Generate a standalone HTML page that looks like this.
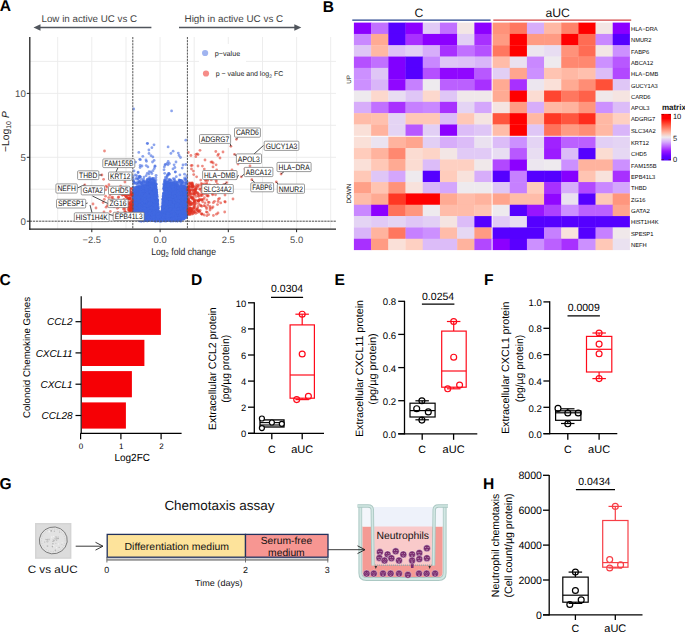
<!DOCTYPE html>
<html><head><meta charset="utf-8"><style>
html,body{margin:0;padding:0;background:#fff;}
svg{display:block;}
text{font-family:"Liberation Sans",sans-serif;text-rendering:geometricPrecision;}
</style></head><body>
<svg width="685" height="632" viewBox="0 0 685 632">
<rect width="685" height="632" fill="#fff"/>
<text x="-0.2" y="10.8" font-size="15.6" font-weight="bold">A</text>
<text x="322.8" y="12.1" font-size="15.6" font-weight="bold">B</text>
<text x="-0.4" y="284.5" font-size="15.6" font-weight="bold">C</text>
<text x="190.9" y="285.2" font-size="15.6" font-weight="bold">D</text>
<text x="334.6" y="284.5" font-size="15.6" font-weight="bold">E</text>
<text x="483.9" y="284.6" font-size="15.6" font-weight="bold">F</text>
<text x="-0.5" y="488.6" font-size="15.6" font-weight="bold">G</text>
<text x="483.1" y="488.5" font-size="15.6" font-weight="bold">H</text>
<line x1="57.7" y1="37.0" x2="57.7" y2="229.2" stroke="#ebebeb" stroke-width="0.9"/>
<line x1="91.8" y1="37.0" x2="91.8" y2="229.2" stroke="#ebebeb" stroke-width="0.9"/>
<line x1="126.0" y1="37.0" x2="126.0" y2="229.2" stroke="#ebebeb" stroke-width="0.9"/>
<line x1="160.1" y1="37.0" x2="160.1" y2="229.2" stroke="#ebebeb" stroke-width="0.9"/>
<line x1="194.2" y1="37.0" x2="194.2" y2="229.2" stroke="#ebebeb" stroke-width="0.9"/>
<line x1="228.3" y1="37.0" x2="228.3" y2="229.2" stroke="#ebebeb" stroke-width="0.9"/>
<line x1="262.5" y1="37.0" x2="262.5" y2="229.2" stroke="#ebebeb" stroke-width="0.9"/>
<line x1="296.6" y1="37.0" x2="296.6" y2="229.2" stroke="#ebebeb" stroke-width="0.9"/>
<line x1="330.7" y1="37.0" x2="330.7" y2="229.2" stroke="#ebebeb" stroke-width="0.9"/>
<line x1="29.8" y1="221.2" x2="336.0" y2="221.2" stroke="#ebebeb" stroke-width="0.9"/>
<line x1="29.8" y1="189.2" x2="336.0" y2="189.2" stroke="#ebebeb" stroke-width="0.9"/>
<line x1="29.8" y1="157.3" x2="336.0" y2="157.3" stroke="#ebebeb" stroke-width="0.9"/>
<line x1="29.8" y1="125.3" x2="336.0" y2="125.3" stroke="#ebebeb" stroke-width="0.9"/>
<line x1="29.8" y1="93.4" x2="336.0" y2="93.4" stroke="#ebebeb" stroke-width="0.9"/>
<line x1="29.8" y1="61.4" x2="336.0" y2="61.4" stroke="#ebebeb" stroke-width="0.9"/>
<g fill="#4169e1" fill-opacity="0.6"><circle cx="139.8" cy="210.4" r="1.4"/><circle cx="165.6" cy="216.8" r="1.4"/><circle cx="134.4" cy="194.8" r="1.4"/><circle cx="140.9" cy="198.4" r="1.4"/><circle cx="183.5" cy="199.5" r="1.4"/><circle cx="139.9" cy="205.0" r="1.4"/><circle cx="152.9" cy="210.0" r="1.4"/><circle cx="169.0" cy="193.0" r="1.4"/><circle cx="147.8" cy="212.8" r="1.4"/><circle cx="140.3" cy="221.0" r="1.4"/><circle cx="175.8" cy="193.2" r="1.4"/><circle cx="169.4" cy="188.8" r="1.4"/><circle cx="160.8" cy="216.3" r="1.4"/><circle cx="177.4" cy="195.0" r="1.4"/><circle cx="162.8" cy="199.4" r="1.4"/><circle cx="186.4" cy="197.7" r="1.4"/><circle cx="163.0" cy="219.2" r="1.4"/><circle cx="159.2" cy="212.7" r="1.4"/><circle cx="152.1" cy="217.4" r="1.4"/><circle cx="165.1" cy="192.7" r="1.4"/><circle cx="176.6" cy="196.5" r="1.4"/><circle cx="180.2" cy="219.7" r="1.4"/><circle cx="139.8" cy="198.0" r="1.4"/><circle cx="158.3" cy="216.1" r="1.4"/><circle cx="147.9" cy="217.2" r="1.4"/><circle cx="137.3" cy="207.2" r="1.4"/><circle cx="156.3" cy="189.2" r="1.4"/><circle cx="169.6" cy="199.0" r="1.4"/><circle cx="143.8" cy="212.6" r="1.4"/><circle cx="182.0" cy="204.5" r="1.4"/><circle cx="144.7" cy="217.3" r="1.4"/><circle cx="134.6" cy="202.8" r="1.4"/><circle cx="143.8" cy="193.5" r="1.4"/><circle cx="151.7" cy="191.0" r="1.4"/><circle cx="182.3" cy="203.8" r="1.4"/><circle cx="170.9" cy="217.2" r="1.4"/><circle cx="133.7" cy="213.2" r="1.4"/><circle cx="141.5" cy="206.3" r="1.4"/><circle cx="187.2" cy="214.6" r="1.4"/><circle cx="135.8" cy="211.5" r="1.4"/><circle cx="134.7" cy="194.5" r="1.4"/><circle cx="179.0" cy="220.1" r="1.4"/><circle cx="164.9" cy="189.7" r="1.4"/><circle cx="149.7" cy="214.5" r="1.4"/><circle cx="150.1" cy="206.8" r="1.4"/><circle cx="137.7" cy="195.8" r="1.4"/><circle cx="142.2" cy="200.0" r="1.4"/><circle cx="178.6" cy="219.7" r="1.4"/><circle cx="158.3" cy="211.5" r="1.4"/><circle cx="139.7" cy="212.1" r="1.4"/><circle cx="173.2" cy="203.4" r="1.4"/><circle cx="143.5" cy="182.1" r="1.4"/><circle cx="181.7" cy="212.6" r="1.4"/><circle cx="134.3" cy="211.8" r="1.4"/><circle cx="176.8" cy="208.0" r="1.4"/><circle cx="143.2" cy="194.1" r="1.4"/><circle cx="133.8" cy="197.8" r="1.4"/><circle cx="148.8" cy="219.5" r="1.4"/><circle cx="172.5" cy="189.8" r="1.4"/><circle cx="179.4" cy="203.8" r="1.4"/><circle cx="144.7" cy="196.5" r="1.4"/><circle cx="150.0" cy="210.2" r="1.4"/><circle cx="146.9" cy="207.4" r="1.4"/><circle cx="186.2" cy="194.2" r="1.4"/><circle cx="184.2" cy="204.1" r="1.4"/><circle cx="151.4" cy="205.5" r="1.4"/><circle cx="156.6" cy="214.6" r="1.4"/><circle cx="173.6" cy="197.4" r="1.4"/><circle cx="136.5" cy="193.9" r="1.4"/><circle cx="154.9" cy="217.8" r="1.4"/><circle cx="146.2" cy="219.5" r="1.4"/><circle cx="178.9" cy="213.1" r="1.4"/><circle cx="173.3" cy="204.2" r="1.4"/><circle cx="162.6" cy="213.3" r="1.4"/><circle cx="168.9" cy="205.1" r="1.4"/><circle cx="175.4" cy="220.4" r="1.4"/><circle cx="183.4" cy="217.7" r="1.4"/><circle cx="167.0" cy="187.5" r="1.4"/><circle cx="140.6" cy="209.4" r="1.4"/><circle cx="157.0" cy="217.7" r="1.4"/><circle cx="175.7" cy="205.6" r="1.4"/><circle cx="181.7" cy="189.2" r="1.4"/><circle cx="174.3" cy="208.5" r="1.4"/><circle cx="134.7" cy="197.9" r="1.4"/><circle cx="152.4" cy="201.1" r="1.4"/><circle cx="187.3" cy="192.8" r="1.4"/><circle cx="140.7" cy="205.3" r="1.4"/><circle cx="146.1" cy="203.1" r="1.4"/><circle cx="152.3" cy="215.4" r="1.4"/><circle cx="180.3" cy="212.4" r="1.4"/><circle cx="167.5" cy="216.0" r="1.4"/><circle cx="141.5" cy="206.2" r="1.4"/><circle cx="137.1" cy="196.9" r="1.4"/><circle cx="166.2" cy="220.8" r="1.4"/><circle cx="145.4" cy="194.4" r="1.4"/><circle cx="139.1" cy="187.5" r="1.4"/><circle cx="163.1" cy="211.8" r="1.4"/><circle cx="167.6" cy="217.7" r="1.4"/><circle cx="150.5" cy="204.0" r="1.4"/><circle cx="167.9" cy="211.5" r="1.4"/><circle cx="139.9" cy="189.8" r="1.4"/><circle cx="150.0" cy="207.1" r="1.4"/><circle cx="182.6" cy="193.6" r="1.4"/><circle cx="139.1" cy="219.3" r="1.4"/><circle cx="137.5" cy="211.2" r="1.4"/><circle cx="163.5" cy="209.3" r="1.4"/><circle cx="182.3" cy="191.8" r="1.4"/><circle cx="171.0" cy="212.5" r="1.4"/><circle cx="176.8" cy="203.3" r="1.4"/><circle cx="140.7" cy="195.7" r="1.4"/><circle cx="158.2" cy="220.6" r="1.4"/><circle cx="135.5" cy="202.6" r="1.4"/><circle cx="176.6" cy="190.3" r="1.4"/><circle cx="172.0" cy="201.2" r="1.4"/><circle cx="176.7" cy="190.8" r="1.4"/><circle cx="174.3" cy="216.9" r="1.4"/><circle cx="147.4" cy="220.5" r="1.4"/><circle cx="175.9" cy="216.9" r="1.4"/><circle cx="146.4" cy="191.8" r="1.4"/><circle cx="140.3" cy="211.0" r="1.4"/><circle cx="154.1" cy="183.6" r="1.4"/><circle cx="148.4" cy="215.3" r="1.4"/><circle cx="165.9" cy="218.5" r="1.4"/><circle cx="165.7" cy="190.5" r="1.4"/><circle cx="145.9" cy="189.0" r="1.4"/><circle cx="152.3" cy="205.1" r="1.4"/><circle cx="172.9" cy="220.0" r="1.4"/><circle cx="176.4" cy="193.7" r="1.4"/><circle cx="163.0" cy="207.2" r="1.4"/><circle cx="169.6" cy="220.7" r="1.4"/><circle cx="161.1" cy="218.6" r="1.4"/><circle cx="186.3" cy="204.9" r="1.4"/><circle cx="138.0" cy="217.8" r="1.4"/><circle cx="150.5" cy="219.9" r="1.4"/><circle cx="134.4" cy="204.6" r="1.4"/><circle cx="176.4" cy="193.2" r="1.4"/><circle cx="175.6" cy="210.6" r="1.4"/><circle cx="167.6" cy="193.2" r="1.4"/><circle cx="182.0" cy="203.0" r="1.4"/><circle cx="174.1" cy="190.3" r="1.4"/><circle cx="149.1" cy="209.9" r="1.4"/><circle cx="168.0" cy="207.3" r="1.4"/><circle cx="151.4" cy="213.4" r="1.4"/><circle cx="173.7" cy="215.0" r="1.4"/><circle cx="153.8" cy="202.6" r="1.4"/><circle cx="141.2" cy="193.0" r="1.4"/><circle cx="180.7" cy="194.2" r="1.4"/><circle cx="170.5" cy="212.4" r="1.4"/><circle cx="173.5" cy="203.3" r="1.4"/><circle cx="163.4" cy="201.1" r="1.4"/><circle cx="175.5" cy="211.2" r="1.4"/><circle cx="163.7" cy="205.5" r="1.4"/><circle cx="136.2" cy="216.7" r="1.4"/><circle cx="177.3" cy="213.2" r="1.4"/><circle cx="171.3" cy="205.0" r="1.4"/><circle cx="176.7" cy="185.7" r="1.4"/><circle cx="159.9" cy="215.3" r="1.4"/><circle cx="180.9" cy="195.9" r="1.4"/><circle cx="138.7" cy="194.0" r="1.4"/><circle cx="180.6" cy="208.8" r="1.4"/><circle cx="153.1" cy="216.0" r="1.4"/><circle cx="137.8" cy="202.6" r="1.4"/><circle cx="166.6" cy="210.5" r="1.4"/><circle cx="157.6" cy="203.5" r="1.4"/><circle cx="156.2" cy="214.7" r="1.4"/><circle cx="179.3" cy="202.8" r="1.4"/><circle cx="166.5" cy="220.8" r="1.4"/><circle cx="155.4" cy="194.9" r="1.4"/><circle cx="179.9" cy="209.4" r="1.4"/><circle cx="157.9" cy="217.3" r="1.4"/><circle cx="186.0" cy="203.1" r="1.4"/><circle cx="135.2" cy="199.7" r="1.4"/><circle cx="186.9" cy="207.6" r="1.4"/><circle cx="162.1" cy="210.9" r="1.4"/><circle cx="139.4" cy="206.2" r="1.4"/><circle cx="155.7" cy="213.3" r="1.4"/><circle cx="148.5" cy="194.8" r="1.4"/><circle cx="180.1" cy="198.3" r="1.4"/><circle cx="174.6" cy="186.1" r="1.4"/><circle cx="156.6" cy="219.7" r="1.4"/><circle cx="154.9" cy="201.7" r="1.4"/><circle cx="173.1" cy="212.4" r="1.4"/><circle cx="185.8" cy="217.3" r="1.4"/><circle cx="141.5" cy="187.6" r="1.4"/><circle cx="152.6" cy="204.9" r="1.4"/><circle cx="160.5" cy="215.6" r="1.4"/><circle cx="135.7" cy="205.0" r="1.4"/><circle cx="144.8" cy="185.2" r="1.4"/><circle cx="153.9" cy="193.3" r="1.4"/><circle cx="173.2" cy="188.0" r="1.4"/><circle cx="166.1" cy="193.7" r="1.4"/><circle cx="135.3" cy="210.1" r="1.4"/><circle cx="180.6" cy="192.5" r="1.4"/><circle cx="182.8" cy="189.2" r="1.4"/><circle cx="181.3" cy="219.6" r="1.4"/><circle cx="183.5" cy="208.9" r="1.4"/><circle cx="155.0" cy="187.9" r="1.4"/><circle cx="173.5" cy="184.9" r="1.4"/><circle cx="152.7" cy="209.7" r="1.4"/><circle cx="141.2" cy="199.5" r="1.4"/><circle cx="177.0" cy="211.6" r="1.4"/><circle cx="182.8" cy="203.7" r="1.4"/><circle cx="157.3" cy="201.4" r="1.4"/><circle cx="139.2" cy="198.9" r="1.4"/><circle cx="180.3" cy="198.9" r="1.4"/><circle cx="185.6" cy="207.7" r="1.4"/><circle cx="165.2" cy="192.1" r="1.4"/><circle cx="169.6" cy="184.9" r="1.4"/><circle cx="153.2" cy="193.3" r="1.4"/><circle cx="170.6" cy="217.2" r="1.4"/><circle cx="157.3" cy="220.1" r="1.4"/><circle cx="185.6" cy="208.8" r="1.4"/><circle cx="141.9" cy="191.6" r="1.4"/><circle cx="141.5" cy="183.1" r="1.4"/><circle cx="150.9" cy="200.8" r="1.4"/><circle cx="142.0" cy="185.7" r="1.4"/><circle cx="165.2" cy="211.6" r="1.4"/><circle cx="139.7" cy="219.8" r="1.4"/><circle cx="134.6" cy="203.8" r="1.4"/><circle cx="154.2" cy="219.3" r="1.4"/><circle cx="164.6" cy="208.2" r="1.4"/><circle cx="182.6" cy="201.6" r="1.4"/><circle cx="183.9" cy="210.3" r="1.4"/><circle cx="176.5" cy="206.3" r="1.4"/><circle cx="161.4" cy="212.3" r="1.4"/><circle cx="154.5" cy="185.8" r="1.4"/><circle cx="154.6" cy="207.0" r="1.4"/><circle cx="135.1" cy="209.7" r="1.4"/><circle cx="146.2" cy="211.1" r="1.4"/><circle cx="152.7" cy="182.8" r="1.4"/><circle cx="168.8" cy="196.2" r="1.4"/><circle cx="133.4" cy="188.3" r="1.4"/><circle cx="165.1" cy="201.1" r="1.4"/><circle cx="161.8" cy="218.6" r="1.4"/><circle cx="180.1" cy="212.4" r="1.4"/><circle cx="134.3" cy="202.3" r="1.4"/><circle cx="165.5" cy="200.6" r="1.4"/><circle cx="145.2" cy="213.8" r="1.4"/><circle cx="151.2" cy="180.5" r="1.4"/><circle cx="163.6" cy="207.5" r="1.4"/><circle cx="142.9" cy="184.6" r="1.4"/><circle cx="164.4" cy="205.3" r="1.4"/><circle cx="132.9" cy="204.0" r="1.4"/><circle cx="153.8" cy="198.2" r="1.4"/><circle cx="154.0" cy="198.2" r="1.4"/><circle cx="135.6" cy="201.6" r="1.4"/><circle cx="163.1" cy="218.4" r="1.4"/><circle cx="166.9" cy="206.2" r="1.4"/><circle cx="173.7" cy="211.5" r="1.4"/><circle cx="185.1" cy="199.4" r="1.4"/><circle cx="152.2" cy="199.3" r="1.4"/><circle cx="168.6" cy="212.2" r="1.4"/><circle cx="156.9" cy="217.3" r="1.4"/><circle cx="144.5" cy="192.0" r="1.4"/><circle cx="181.4" cy="210.1" r="1.4"/><circle cx="173.5" cy="190.7" r="1.4"/><circle cx="184.3" cy="195.0" r="1.4"/><circle cx="182.9" cy="209.1" r="1.4"/><circle cx="143.6" cy="198.4" r="1.4"/><circle cx="155.3" cy="205.2" r="1.4"/><circle cx="170.3" cy="211.6" r="1.4"/><circle cx="156.7" cy="195.0" r="1.4"/><circle cx="160.8" cy="212.7" r="1.4"/><circle cx="174.4" cy="204.9" r="1.4"/><circle cx="136.7" cy="218.3" r="1.4"/><circle cx="169.8" cy="190.5" r="1.4"/><circle cx="135.5" cy="193.5" r="1.4"/><circle cx="146.4" cy="189.9" r="1.4"/><circle cx="170.1" cy="195.9" r="1.4"/><circle cx="154.9" cy="204.1" r="1.4"/><circle cx="148.9" cy="209.6" r="1.4"/><circle cx="178.0" cy="197.2" r="1.4"/><circle cx="147.8" cy="201.1" r="1.4"/><circle cx="134.5" cy="201.0" r="1.4"/><circle cx="146.3" cy="208.9" r="1.4"/><circle cx="134.0" cy="212.2" r="1.4"/><circle cx="186.0" cy="190.4" r="1.4"/><circle cx="144.4" cy="193.4" r="1.4"/><circle cx="149.5" cy="213.3" r="1.4"/><circle cx="164.8" cy="200.7" r="1.4"/><circle cx="138.5" cy="217.8" r="1.4"/><circle cx="134.2" cy="211.2" r="1.4"/><circle cx="182.5" cy="210.8" r="1.4"/><circle cx="148.1" cy="185.7" r="1.4"/><circle cx="169.9" cy="219.0" r="1.4"/><circle cx="181.0" cy="220.6" r="1.4"/><circle cx="149.0" cy="196.6" r="1.4"/><circle cx="153.3" cy="201.4" r="1.4"/><circle cx="176.1" cy="207.7" r="1.4"/><circle cx="166.3" cy="220.3" r="1.4"/><circle cx="142.7" cy="193.5" r="1.4"/><circle cx="174.2" cy="197.5" r="1.4"/><circle cx="171.4" cy="192.2" r="1.4"/><circle cx="175.4" cy="209.1" r="1.4"/><circle cx="155.8" cy="209.7" r="1.4"/><circle cx="181.4" cy="197.4" r="1.4"/><circle cx="170.8" cy="219.6" r="1.4"/><circle cx="164.3" cy="186.2" r="1.4"/><circle cx="170.0" cy="195.2" r="1.4"/><circle cx="153.8" cy="219.1" r="1.4"/><circle cx="151.5" cy="204.0" r="1.4"/><circle cx="164.2" cy="193.9" r="1.4"/><circle cx="171.5" cy="190.8" r="1.4"/><circle cx="179.1" cy="186.9" r="1.4"/><circle cx="154.0" cy="201.8" r="1.4"/><circle cx="154.3" cy="216.8" r="1.4"/><circle cx="177.0" cy="215.6" r="1.4"/><circle cx="180.7" cy="195.1" r="1.4"/><circle cx="141.1" cy="216.6" r="1.4"/><circle cx="166.5" cy="194.8" r="1.4"/><circle cx="141.1" cy="193.9" r="1.4"/><circle cx="178.3" cy="189.3" r="1.4"/><circle cx="185.3" cy="199.2" r="1.4"/><circle cx="143.0" cy="209.3" r="1.4"/><circle cx="150.5" cy="197.8" r="1.4"/><circle cx="167.9" cy="189.0" r="1.4"/><circle cx="166.0" cy="203.3" r="1.4"/><circle cx="150.5" cy="203.0" r="1.4"/><circle cx="153.1" cy="192.0" r="1.4"/><circle cx="181.4" cy="196.9" r="1.4"/><circle cx="146.9" cy="218.3" r="1.4"/><circle cx="146.7" cy="214.1" r="1.4"/><circle cx="184.9" cy="201.6" r="1.4"/><circle cx="149.9" cy="188.9" r="1.4"/><circle cx="180.2" cy="214.1" r="1.4"/><circle cx="165.3" cy="201.9" r="1.4"/><circle cx="186.3" cy="192.2" r="1.4"/><circle cx="141.8" cy="211.7" r="1.4"/><circle cx="184.2" cy="191.6" r="1.4"/><circle cx="175.0" cy="191.3" r="1.4"/><circle cx="163.8" cy="210.6" r="1.4"/><circle cx="167.4" cy="210.7" r="1.4"/><circle cx="145.3" cy="206.3" r="1.4"/><circle cx="134.0" cy="196.2" r="1.4"/><circle cx="158.7" cy="220.1" r="1.4"/><circle cx="182.2" cy="209.6" r="1.4"/><circle cx="147.2" cy="191.2" r="1.4"/><circle cx="177.5" cy="210.8" r="1.4"/><circle cx="186.7" cy="211.1" r="1.4"/><circle cx="185.5" cy="193.2" r="1.4"/><circle cx="141.5" cy="189.5" r="1.4"/><circle cx="141.8" cy="217.1" r="1.4"/><circle cx="145.3" cy="207.5" r="1.4"/><circle cx="152.5" cy="215.6" r="1.4"/><circle cx="139.1" cy="209.8" r="1.4"/><circle cx="141.0" cy="215.0" r="1.4"/><circle cx="133.8" cy="216.0" r="1.4"/><circle cx="152.5" cy="208.5" r="1.4"/><circle cx="157.6" cy="220.7" r="1.4"/><circle cx="173.4" cy="206.5" r="1.4"/><circle cx="176.8" cy="207.3" r="1.4"/><circle cx="153.7" cy="202.7" r="1.4"/><circle cx="138.1" cy="198.0" r="1.4"/><circle cx="148.4" cy="205.2" r="1.4"/><circle cx="145.0" cy="205.6" r="1.4"/><circle cx="149.6" cy="188.5" r="1.4"/><circle cx="150.5" cy="206.6" r="1.4"/><circle cx="164.2" cy="189.2" r="1.4"/><circle cx="151.0" cy="198.1" r="1.4"/><circle cx="150.6" cy="210.2" r="1.4"/><circle cx="133.5" cy="196.4" r="1.4"/><circle cx="133.1" cy="191.9" r="1.4"/><circle cx="135.9" cy="217.7" r="1.4"/><circle cx="180.1" cy="200.1" r="1.4"/><circle cx="167.4" cy="197.6" r="1.4"/><circle cx="172.5" cy="202.2" r="1.4"/><circle cx="185.1" cy="204.1" r="1.4"/><circle cx="144.7" cy="215.1" r="1.4"/><circle cx="183.0" cy="198.3" r="1.4"/><circle cx="146.0" cy="185.5" r="1.4"/><circle cx="170.0" cy="207.0" r="1.4"/><circle cx="176.3" cy="212.3" r="1.4"/><circle cx="146.3" cy="204.0" r="1.4"/><circle cx="135.3" cy="212.5" r="1.4"/><circle cx="148.5" cy="202.3" r="1.4"/><circle cx="186.4" cy="204.8" r="1.4"/><circle cx="182.2" cy="196.7" r="1.4"/><circle cx="175.7" cy="204.8" r="1.4"/><circle cx="182.1" cy="190.2" r="1.4"/><circle cx="150.9" cy="213.4" r="1.4"/><circle cx="186.3" cy="210.3" r="1.4"/><circle cx="165.2" cy="183.5" r="1.4"/><circle cx="135.1" cy="187.8" r="1.4"/><circle cx="183.1" cy="208.8" r="1.4"/><circle cx="169.4" cy="199.2" r="1.4"/><circle cx="186.0" cy="212.5" r="1.4"/><circle cx="160.7" cy="216.3" r="1.4"/><circle cx="177.0" cy="203.0" r="1.4"/><circle cx="140.5" cy="205.6" r="1.4"/><circle cx="181.7" cy="192.2" r="1.4"/><circle cx="156.6" cy="202.5" r="1.4"/><circle cx="180.7" cy="214.0" r="1.4"/><circle cx="150.3" cy="198.4" r="1.4"/><circle cx="166.9" cy="206.0" r="1.4"/><circle cx="171.6" cy="189.5" r="1.4"/><circle cx="137.6" cy="194.7" r="1.4"/><circle cx="138.4" cy="209.2" r="1.4"/><circle cx="184.9" cy="207.5" r="1.4"/><circle cx="170.3" cy="197.3" r="1.4"/><circle cx="149.7" cy="186.2" r="1.4"/><circle cx="138.7" cy="187.9" r="1.4"/><circle cx="157.3" cy="200.1" r="1.4"/><circle cx="158.4" cy="219.8" r="1.4"/><circle cx="180.9" cy="193.3" r="1.4"/><circle cx="138.6" cy="212.3" r="1.4"/><circle cx="151.9" cy="190.9" r="1.4"/><circle cx="183.9" cy="207.8" r="1.4"/><circle cx="141.5" cy="183.4" r="1.4"/><circle cx="148.0" cy="202.8" r="1.4"/><circle cx="183.4" cy="199.1" r="1.4"/><circle cx="151.8" cy="204.4" r="1.4"/><circle cx="178.8" cy="201.5" r="1.4"/><circle cx="145.8" cy="208.9" r="1.4"/><circle cx="186.8" cy="197.3" r="1.4"/><circle cx="185.2" cy="193.6" r="1.4"/><circle cx="173.9" cy="183.3" r="1.4"/><circle cx="182.7" cy="190.7" r="1.4"/><circle cx="186.7" cy="196.5" r="1.4"/><circle cx="140.7" cy="195.4" r="1.4"/><circle cx="149.9" cy="206.6" r="1.4"/><circle cx="134.7" cy="212.5" r="1.4"/><circle cx="133.8" cy="196.3" r="1.4"/><circle cx="147.2" cy="191.1" r="1.4"/><circle cx="165.3" cy="181.7" r="1.4"/><circle cx="173.7" cy="206.7" r="1.4"/><circle cx="167.5" cy="209.5" r="1.4"/><circle cx="172.9" cy="196.0" r="1.4"/><circle cx="164.9" cy="200.4" r="1.4"/><circle cx="174.3" cy="213.6" r="1.4"/><circle cx="175.9" cy="204.5" r="1.4"/><circle cx="163.5" cy="197.7" r="1.4"/><circle cx="136.8" cy="199.9" r="1.4"/><circle cx="147.1" cy="219.7" r="1.4"/><circle cx="149.5" cy="182.4" r="1.4"/><circle cx="151.7" cy="199.6" r="1.4"/><circle cx="171.4" cy="216.5" r="1.4"/><circle cx="141.9" cy="189.1" r="1.4"/><circle cx="157.0" cy="212.7" r="1.4"/><circle cx="165.9" cy="193.1" r="1.4"/><circle cx="184.5" cy="201.9" r="1.4"/><circle cx="139.1" cy="209.8" r="1.4"/><circle cx="137.1" cy="201.2" r="1.4"/><circle cx="143.3" cy="207.5" r="1.4"/><circle cx="144.8" cy="199.6" r="1.4"/><circle cx="141.7" cy="194.3" r="1.4"/><circle cx="136.9" cy="198.0" r="1.4"/><circle cx="144.2" cy="218.6" r="1.4"/><circle cx="145.0" cy="194.9" r="1.4"/><circle cx="152.7" cy="201.8" r="1.4"/><circle cx="142.0" cy="185.7" r="1.4"/><circle cx="138.0" cy="213.4" r="1.4"/><circle cx="147.2" cy="188.5" r="1.4"/><circle cx="142.1" cy="213.0" r="1.4"/><circle cx="159.1" cy="217.5" r="1.4"/><circle cx="180.4" cy="190.7" r="1.4"/><circle cx="171.9" cy="204.8" r="1.4"/><circle cx="143.9" cy="197.5" r="1.4"/><circle cx="136.5" cy="210.7" r="1.4"/><circle cx="156.6" cy="217.7" r="1.4"/><circle cx="152.7" cy="178.5" r="1.4"/><circle cx="170.1" cy="215.9" r="1.4"/><circle cx="146.7" cy="218.0" r="1.4"/><circle cx="170.2" cy="211.9" r="1.4"/><circle cx="163.8" cy="188.5" r="1.4"/><circle cx="182.0" cy="218.9" r="1.4"/><circle cx="139.0" cy="205.9" r="1.4"/><circle cx="143.5" cy="215.3" r="1.4"/><circle cx="163.7" cy="205.7" r="1.4"/><circle cx="163.7" cy="204.7" r="1.4"/><circle cx="186.3" cy="196.4" r="1.4"/><circle cx="164.9" cy="219.7" r="1.4"/><circle cx="174.2" cy="190.1" r="1.4"/><circle cx="140.1" cy="205.8" r="1.4"/><circle cx="165.7" cy="190.7" r="1.4"/><circle cx="149.5" cy="200.6" r="1.4"/><circle cx="152.4" cy="207.6" r="1.4"/><circle cx="141.3" cy="196.7" r="1.4"/><circle cx="179.4" cy="190.0" r="1.4"/><circle cx="172.0" cy="196.4" r="1.4"/><circle cx="173.9" cy="209.0" r="1.4"/><circle cx="148.5" cy="219.7" r="1.4"/><circle cx="142.4" cy="191.1" r="1.4"/><circle cx="165.7" cy="219.1" r="1.4"/><circle cx="175.3" cy="216.2" r="1.4"/><circle cx="183.8" cy="200.2" r="1.4"/><circle cx="147.0" cy="215.7" r="1.4"/><circle cx="139.7" cy="191.7" r="1.4"/><circle cx="138.8" cy="205.3" r="1.4"/><circle cx="162.3" cy="206.2" r="1.4"/><circle cx="162.4" cy="218.3" r="1.4"/><circle cx="151.9" cy="215.1" r="1.4"/><circle cx="171.6" cy="193.2" r="1.4"/><circle cx="155.1" cy="216.9" r="1.4"/><circle cx="139.0" cy="219.0" r="1.4"/><circle cx="148.2" cy="206.1" r="1.4"/><circle cx="179.0" cy="215.8" r="1.4"/><circle cx="153.2" cy="193.1" r="1.4"/><circle cx="180.3" cy="212.8" r="1.4"/><circle cx="180.5" cy="220.0" r="1.4"/><circle cx="144.7" cy="199.6" r="1.4"/><circle cx="170.8" cy="209.8" r="1.4"/><circle cx="149.5" cy="194.5" r="1.4"/><circle cx="185.0" cy="210.0" r="1.4"/><circle cx="172.7" cy="209.8" r="1.4"/><circle cx="171.4" cy="211.6" r="1.4"/><circle cx="144.5" cy="192.9" r="1.4"/><circle cx="180.1" cy="208.0" r="1.4"/><circle cx="135.5" cy="189.3" r="1.4"/><circle cx="167.4" cy="201.4" r="1.4"/><circle cx="147.6" cy="219.3" r="1.4"/><circle cx="178.8" cy="206.7" r="1.4"/><circle cx="147.4" cy="209.6" r="1.4"/><circle cx="179.1" cy="213.0" r="1.4"/><circle cx="134.6" cy="202.8" r="1.4"/><circle cx="147.1" cy="218.4" r="1.4"/><circle cx="141.5" cy="221.1" r="1.4"/><circle cx="157.2" cy="197.0" r="1.4"/><circle cx="152.0" cy="214.3" r="1.4"/><circle cx="179.3" cy="216.1" r="1.4"/><circle cx="164.4" cy="216.9" r="1.4"/><circle cx="165.9" cy="194.2" r="1.4"/><circle cx="154.1" cy="184.2" r="1.4"/><circle cx="176.9" cy="185.3" r="1.4"/><circle cx="173.5" cy="199.9" r="1.4"/><circle cx="182.7" cy="209.8" r="1.4"/><circle cx="166.2" cy="220.1" r="1.4"/><circle cx="147.2" cy="194.1" r="1.4"/><circle cx="176.5" cy="190.8" r="1.4"/><circle cx="144.9" cy="186.0" r="1.4"/><circle cx="156.6" cy="213.3" r="1.4"/><circle cx="177.2" cy="199.3" r="1.4"/><circle cx="144.7" cy="198.5" r="1.4"/><circle cx="153.3" cy="195.0" r="1.4"/><circle cx="137.0" cy="213.6" r="1.4"/><circle cx="172.5" cy="205.0" r="1.4"/><circle cx="149.3" cy="193.7" r="1.4"/><circle cx="174.8" cy="214.6" r="1.4"/><circle cx="176.8" cy="186.5" r="1.4"/><circle cx="163.9" cy="218.1" r="1.4"/><circle cx="182.4" cy="212.8" r="1.4"/><circle cx="173.6" cy="192.1" r="1.4"/><circle cx="163.6" cy="213.3" r="1.4"/><circle cx="151.0" cy="188.2" r="1.4"/><circle cx="164.6" cy="188.7" r="1.4"/><circle cx="154.2" cy="205.2" r="1.4"/><circle cx="139.3" cy="210.2" r="1.4"/><circle cx="142.1" cy="213.4" r="1.4"/><circle cx="167.5" cy="195.1" r="1.4"/><circle cx="164.5" cy="206.3" r="1.4"/><circle cx="165.0" cy="198.8" r="1.4"/><circle cx="177.7" cy="218.2" r="1.4"/><circle cx="138.0" cy="197.7" r="1.4"/><circle cx="154.0" cy="193.5" r="1.4"/><circle cx="137.1" cy="197.4" r="1.4"/><circle cx="155.7" cy="219.7" r="1.4"/><circle cx="137.1" cy="187.1" r="1.4"/><circle cx="136.4" cy="198.6" r="1.4"/><circle cx="138.5" cy="213.4" r="1.4"/><circle cx="154.1" cy="182.8" r="1.4"/><circle cx="174.5" cy="192.6" r="1.4"/><circle cx="148.2" cy="220.3" r="1.4"/><circle cx="173.3" cy="201.2" r="1.4"/><circle cx="145.5" cy="186.1" r="1.4"/><circle cx="148.5" cy="191.3" r="1.4"/><circle cx="157.3" cy="199.5" r="1.4"/><circle cx="164.7" cy="213.8" r="1.4"/><circle cx="177.8" cy="214.9" r="1.4"/><circle cx="176.5" cy="209.2" r="1.4"/><circle cx="163.9" cy="194.1" r="1.4"/><circle cx="164.4" cy="209.8" r="1.4"/><circle cx="135.6" cy="206.5" r="1.4"/><circle cx="180.8" cy="206.3" r="1.4"/><circle cx="147.9" cy="220.5" r="1.4"/><circle cx="162.6" cy="220.7" r="1.4"/><circle cx="162.2" cy="217.1" r="1.4"/><circle cx="182.5" cy="187.8" r="1.4"/><circle cx="165.6" cy="208.5" r="1.4"/><circle cx="186.9" cy="200.9" r="1.4"/><circle cx="145.5" cy="192.7" r="1.4"/><circle cx="169.0" cy="197.7" r="1.4"/><circle cx="162.9" cy="207.2" r="1.4"/><circle cx="137.4" cy="190.9" r="1.4"/><circle cx="157.5" cy="212.8" r="1.4"/><circle cx="163.8" cy="212.3" r="1.4"/><circle cx="139.6" cy="219.6" r="1.4"/><circle cx="149.0" cy="185.8" r="1.4"/><circle cx="136.2" cy="194.8" r="1.4"/><circle cx="165.4" cy="202.6" r="1.4"/><circle cx="137.3" cy="208.8" r="1.4"/><circle cx="145.3" cy="199.4" r="1.4"/><circle cx="157.3" cy="207.8" r="1.4"/><circle cx="157.5" cy="204.6" r="1.4"/><circle cx="184.5" cy="204.3" r="1.4"/><circle cx="166.1" cy="200.6" r="1.4"/><circle cx="165.3" cy="188.6" r="1.4"/><circle cx="150.2" cy="187.9" r="1.4"/><circle cx="165.5" cy="190.5" r="1.4"/><circle cx="170.4" cy="182.9" r="1.4"/><circle cx="147.5" cy="190.2" r="1.4"/><circle cx="137.8" cy="200.0" r="1.4"/><circle cx="146.6" cy="208.1" r="1.4"/><circle cx="150.6" cy="206.3" r="1.4"/><circle cx="166.0" cy="182.8" r="1.4"/><circle cx="155.4" cy="209.3" r="1.4"/><circle cx="149.8" cy="207.9" r="1.4"/><circle cx="165.4" cy="190.1" r="1.4"/><circle cx="138.8" cy="205.7" r="1.4"/><circle cx="170.4" cy="200.8" r="1.4"/><circle cx="166.8" cy="218.2" r="1.4"/><circle cx="152.2" cy="218.8" r="1.4"/><circle cx="137.8" cy="202.1" r="1.4"/><circle cx="169.9" cy="196.2" r="1.4"/><circle cx="156.6" cy="198.8" r="1.4"/><circle cx="166.3" cy="200.0" r="1.4"/><circle cx="139.6" cy="205.8" r="1.4"/><circle cx="133.1" cy="194.5" r="1.4"/><circle cx="176.4" cy="213.5" r="1.4"/><circle cx="153.2" cy="212.5" r="1.4"/><circle cx="162.1" cy="206.9" r="1.4"/><circle cx="186.3" cy="202.4" r="1.4"/><circle cx="149.1" cy="189.9" r="1.4"/><circle cx="155.0" cy="212.9" r="1.4"/><circle cx="175.8" cy="198.4" r="1.4"/><circle cx="172.7" cy="215.3" r="1.4"/><circle cx="155.9" cy="197.9" r="1.4"/><circle cx="133.4" cy="213.5" r="1.4"/><circle cx="168.2" cy="190.4" r="1.4"/><circle cx="155.0" cy="200.1" r="1.4"/><circle cx="139.2" cy="193.9" r="1.4"/><circle cx="167.3" cy="200.6" r="1.4"/><circle cx="157.1" cy="194.9" r="1.4"/><circle cx="149.5" cy="201.9" r="1.4"/><circle cx="147.5" cy="207.4" r="1.4"/><circle cx="146.3" cy="196.9" r="1.4"/><circle cx="154.3" cy="214.3" r="1.4"/><circle cx="184.2" cy="205.0" r="1.4"/><circle cx="146.6" cy="196.1" r="1.4"/><circle cx="182.9" cy="194.8" r="1.4"/><circle cx="180.1" cy="188.0" r="1.4"/><circle cx="181.9" cy="214.7" r="1.4"/><circle cx="169.9" cy="199.9" r="1.4"/><circle cx="156.2" cy="192.7" r="1.4"/><circle cx="141.0" cy="201.6" r="1.4"/><circle cx="172.8" cy="200.0" r="1.4"/><circle cx="167.4" cy="203.0" r="1.4"/><circle cx="150.3" cy="198.9" r="1.4"/><circle cx="180.7" cy="185.7" r="1.4"/><circle cx="144.7" cy="216.4" r="1.4"/><circle cx="187.2" cy="210.1" r="1.4"/><circle cx="135.4" cy="210.5" r="1.4"/><circle cx="150.5" cy="209.5" r="1.4"/><circle cx="187.3" cy="200.8" r="1.4"/><circle cx="185.7" cy="190.5" r="1.4"/><circle cx="169.4" cy="179.6" r="1.4"/><circle cx="184.4" cy="197.4" r="1.4"/><circle cx="174.4" cy="189.4" r="1.4"/><circle cx="182.1" cy="202.5" r="1.4"/><circle cx="150.7" cy="183.6" r="1.4"/><circle cx="135.2" cy="194.3" r="1.4"/><circle cx="141.5" cy="210.6" r="1.4"/><circle cx="162.9" cy="220.8" r="1.4"/><circle cx="134.1" cy="210.5" r="1.4"/><circle cx="142.1" cy="214.3" r="1.4"/><circle cx="173.7" cy="188.7" r="1.4"/><circle cx="139.8" cy="209.1" r="1.4"/><circle cx="144.1" cy="213.6" r="1.4"/><circle cx="147.5" cy="181.5" r="1.4"/><circle cx="164.6" cy="215.4" r="1.4"/><circle cx="173.9" cy="193.3" r="1.4"/><circle cx="173.3" cy="208.9" r="1.4"/><circle cx="170.0" cy="210.3" r="1.4"/><circle cx="151.5" cy="209.2" r="1.4"/><circle cx="142.6" cy="193.5" r="1.4"/><circle cx="180.0" cy="192.9" r="1.4"/><circle cx="155.1" cy="220.0" r="1.4"/><circle cx="168.3" cy="209.1" r="1.4"/><circle cx="136.5" cy="187.5" r="1.4"/><circle cx="152.5" cy="214.8" r="1.4"/><circle cx="138.3" cy="186.7" r="1.4"/><circle cx="172.8" cy="183.5" r="1.4"/><circle cx="170.0" cy="204.5" r="1.4"/><circle cx="139.5" cy="177.6" r="1.4"/><circle cx="153.8" cy="219.1" r="1.4"/><circle cx="155.2" cy="218.5" r="1.4"/><circle cx="145.3" cy="218.3" r="1.4"/><circle cx="170.9" cy="197.2" r="1.4"/><circle cx="181.0" cy="206.9" r="1.4"/><circle cx="177.2" cy="189.7" r="1.4"/><circle cx="134.5" cy="201.3" r="1.4"/><circle cx="151.6" cy="190.9" r="1.4"/><circle cx="137.3" cy="210.4" r="1.4"/><circle cx="172.6" cy="218.1" r="1.4"/><circle cx="155.6" cy="213.9" r="1.4"/><circle cx="133.8" cy="187.6" r="1.4"/><circle cx="155.6" cy="221.1" r="1.4"/><circle cx="178.2" cy="185.8" r="1.4"/><circle cx="174.1" cy="214.6" r="1.4"/><circle cx="142.7" cy="198.8" r="1.4"/><circle cx="149.6" cy="212.5" r="1.4"/><circle cx="173.0" cy="208.2" r="1.4"/><circle cx="155.7" cy="200.6" r="1.4"/><circle cx="147.2" cy="199.0" r="1.4"/><circle cx="178.8" cy="199.0" r="1.4"/><circle cx="183.5" cy="199.8" r="1.4"/><circle cx="144.6" cy="207.9" r="1.4"/><circle cx="182.4" cy="203.4" r="1.4"/><circle cx="172.5" cy="196.4" r="1.4"/><circle cx="170.3" cy="212.7" r="1.4"/><circle cx="170.2" cy="215.2" r="1.4"/><circle cx="164.6" cy="196.1" r="1.4"/><circle cx="143.6" cy="197.9" r="1.4"/><circle cx="163.5" cy="192.9" r="1.4"/><circle cx="169.5" cy="217.8" r="1.4"/><circle cx="159.3" cy="218.3" r="1.4"/><circle cx="169.9" cy="208.3" r="1.4"/><circle cx="157.8" cy="208.3" r="1.4"/><circle cx="176.7" cy="188.3" r="1.4"/><circle cx="137.7" cy="194.9" r="1.4"/><circle cx="174.8" cy="184.9" r="1.4"/><circle cx="148.4" cy="184.6" r="1.4"/><circle cx="137.2" cy="202.9" r="1.4"/><circle cx="139.4" cy="195.1" r="1.4"/><circle cx="150.8" cy="184.0" r="1.4"/><circle cx="143.9" cy="202.1" r="1.4"/><circle cx="174.8" cy="216.8" r="1.4"/><circle cx="153.2" cy="209.8" r="1.4"/><circle cx="180.5" cy="196.8" r="1.4"/><circle cx="146.1" cy="211.6" r="1.4"/><circle cx="170.5" cy="187.3" r="1.4"/><circle cx="152.3" cy="209.0" r="1.4"/><circle cx="179.2" cy="201.2" r="1.4"/><circle cx="168.1" cy="202.8" r="1.4"/><circle cx="137.9" cy="202.0" r="1.4"/><circle cx="173.8" cy="190.2" r="1.4"/><circle cx="173.2" cy="187.0" r="1.4"/><circle cx="178.9" cy="188.2" r="1.4"/><circle cx="133.6" cy="202.6" r="1.4"/><circle cx="174.2" cy="210.3" r="1.4"/><circle cx="185.7" cy="210.7" r="1.4"/><circle cx="182.0" cy="216.5" r="1.4"/><circle cx="156.6" cy="217.7" r="1.4"/><circle cx="164.5" cy="210.9" r="1.4"/><circle cx="161.6" cy="219.4" r="1.4"/><circle cx="177.8" cy="187.3" r="1.4"/><circle cx="145.5" cy="196.0" r="1.4"/><circle cx="186.8" cy="202.8" r="1.4"/><circle cx="149.3" cy="193.7" r="1.4"/><circle cx="154.9" cy="187.0" r="1.4"/><circle cx="166.0" cy="198.9" r="1.4"/><circle cx="187.1" cy="201.3" r="1.4"/><circle cx="142.8" cy="201.0" r="1.4"/><circle cx="170.5" cy="219.4" r="1.4"/><circle cx="155.4" cy="204.2" r="1.4"/><circle cx="154.7" cy="203.4" r="1.4"/><circle cx="146.8" cy="209.6" r="1.4"/><circle cx="164.2" cy="184.3" r="1.4"/><circle cx="154.2" cy="203.0" r="1.4"/><circle cx="167.5" cy="197.6" r="1.4"/><circle cx="179.3" cy="207.1" r="1.4"/><circle cx="163.4" cy="219.8" r="1.4"/><circle cx="153.7" cy="206.9" r="1.4"/><circle cx="182.4" cy="185.0" r="1.4"/><circle cx="141.1" cy="218.6" r="1.4"/><circle cx="153.8" cy="217.8" r="1.4"/><circle cx="151.5" cy="182.6" r="1.4"/><circle cx="152.2" cy="214.9" r="1.4"/><circle cx="179.3" cy="215.4" r="1.4"/><circle cx="140.0" cy="202.1" r="1.4"/><circle cx="144.6" cy="217.1" r="1.4"/><circle cx="184.7" cy="210.8" r="1.4"/><circle cx="156.2" cy="210.2" r="1.4"/><circle cx="152.5" cy="198.5" r="1.4"/><circle cx="175.2" cy="217.6" r="1.4"/><circle cx="183.9" cy="197.6" r="1.4"/><circle cx="177.3" cy="217.4" r="1.4"/><circle cx="147.2" cy="201.0" r="1.4"/><circle cx="151.9" cy="194.1" r="1.4"/><circle cx="164.3" cy="207.1" r="1.4"/><circle cx="145.7" cy="206.0" r="1.4"/><circle cx="147.8" cy="205.8" r="1.4"/><circle cx="178.6" cy="206.2" r="1.4"/><circle cx="151.9" cy="190.2" r="1.4"/><circle cx="172.2" cy="189.0" r="1.4"/><circle cx="179.7" cy="217.5" r="1.4"/><circle cx="172.5" cy="218.6" r="1.4"/><circle cx="175.5" cy="211.8" r="1.4"/><circle cx="177.6" cy="210.9" r="1.4"/><circle cx="155.0" cy="199.8" r="1.4"/><circle cx="145.7" cy="203.5" r="1.4"/><circle cx="134.6" cy="215.6" r="1.4"/><circle cx="167.2" cy="213.6" r="1.4"/><circle cx="132.9" cy="211.8" r="1.4"/><circle cx="161.2" cy="219.7" r="1.4"/><circle cx="184.0" cy="206.6" r="1.4"/><circle cx="134.4" cy="199.4" r="1.4"/><circle cx="140.3" cy="218.0" r="1.4"/><circle cx="136.0" cy="189.8" r="1.4"/><circle cx="156.6" cy="199.5" r="1.4"/><circle cx="153.8" cy="183.1" r="1.4"/><circle cx="180.3" cy="210.0" r="1.4"/><circle cx="136.4" cy="219.0" r="1.4"/><circle cx="143.7" cy="195.8" r="1.4"/><circle cx="146.9" cy="187.0" r="1.4"/><circle cx="154.3" cy="200.9" r="1.4"/><circle cx="148.5" cy="204.8" r="1.4"/><circle cx="165.7" cy="182.9" r="1.4"/><circle cx="166.4" cy="195.5" r="1.4"/><circle cx="166.0" cy="206.4" r="1.4"/><circle cx="168.3" cy="205.9" r="1.4"/><circle cx="166.4" cy="191.2" r="1.4"/><circle cx="134.7" cy="208.2" r="1.4"/><circle cx="168.6" cy="206.7" r="1.4"/><circle cx="144.7" cy="211.0" r="1.4"/><circle cx="155.7" cy="189.5" r="1.4"/><circle cx="145.8" cy="213.9" r="1.4"/><circle cx="180.2" cy="212.1" r="1.4"/><circle cx="148.0" cy="189.4" r="1.4"/><circle cx="141.7" cy="203.7" r="1.4"/><circle cx="176.3" cy="200.4" r="1.4"/><circle cx="174.4" cy="210.6" r="1.4"/><circle cx="169.8" cy="188.2" r="1.4"/><circle cx="155.6" cy="209.8" r="1.4"/><circle cx="163.1" cy="208.9" r="1.4"/><circle cx="165.3" cy="184.8" r="1.4"/><circle cx="184.4" cy="192.7" r="1.4"/><circle cx="147.3" cy="206.3" r="1.4"/><circle cx="174.8" cy="196.4" r="1.4"/><circle cx="143.2" cy="209.9" r="1.4"/><circle cx="184.4" cy="203.1" r="1.4"/><circle cx="146.5" cy="202.5" r="1.4"/><circle cx="182.8" cy="219.2" r="1.4"/><circle cx="168.5" cy="206.0" r="1.4"/><circle cx="171.1" cy="214.9" r="1.4"/><circle cx="186.2" cy="205.3" r="1.4"/><circle cx="184.2" cy="210.6" r="1.4"/><circle cx="142.7" cy="190.8" r="1.4"/><circle cx="140.4" cy="216.4" r="1.4"/><circle cx="148.5" cy="183.0" r="1.4"/><circle cx="178.3" cy="216.1" r="1.4"/><circle cx="140.5" cy="218.0" r="1.4"/><circle cx="150.5" cy="216.9" r="1.4"/><circle cx="170.3" cy="215.4" r="1.4"/><circle cx="174.9" cy="212.0" r="1.4"/><circle cx="182.9" cy="218.1" r="1.4"/><circle cx="180.9" cy="204.8" r="1.4"/><circle cx="139.2" cy="203.7" r="1.4"/><circle cx="175.2" cy="192.9" r="1.4"/><circle cx="182.3" cy="200.0" r="1.4"/><circle cx="155.6" cy="203.8" r="1.4"/><circle cx="141.3" cy="204.8" r="1.4"/><circle cx="153.0" cy="188.6" r="1.4"/><circle cx="154.3" cy="213.9" r="1.4"/><circle cx="176.6" cy="196.0" r="1.4"/><circle cx="168.4" cy="185.5" r="1.4"/><circle cx="169.9" cy="197.8" r="1.4"/><circle cx="168.4" cy="201.0" r="1.4"/><circle cx="140.5" cy="192.1" r="1.4"/><circle cx="136.0" cy="218.2" r="1.4"/><circle cx="154.4" cy="217.4" r="1.4"/><circle cx="179.2" cy="216.8" r="1.4"/><circle cx="168.2" cy="207.8" r="1.4"/><circle cx="176.0" cy="202.6" r="1.4"/><circle cx="166.8" cy="206.7" r="1.4"/><circle cx="175.6" cy="205.3" r="1.4"/><circle cx="187.2" cy="189.3" r="1.4"/><circle cx="171.7" cy="184.5" r="1.4"/><circle cx="173.2" cy="219.1" r="1.4"/><circle cx="177.2" cy="205.8" r="1.4"/><circle cx="137.1" cy="202.8" r="1.4"/><circle cx="134.8" cy="192.6" r="1.4"/><circle cx="183.2" cy="201.3" r="1.4"/><circle cx="145.8" cy="193.9" r="1.4"/><circle cx="140.2" cy="194.8" r="1.4"/><circle cx="167.4" cy="210.5" r="1.4"/><circle cx="149.1" cy="199.2" r="1.4"/><circle cx="182.5" cy="218.1" r="1.4"/><circle cx="170.5" cy="193.5" r="1.4"/><circle cx="156.0" cy="193.8" r="1.4"/><circle cx="179.5" cy="188.1" r="1.4"/><circle cx="171.6" cy="220.4" r="1.4"/><circle cx="146.6" cy="198.5" r="1.4"/><circle cx="180.8" cy="215.0" r="1.4"/><circle cx="166.8" cy="190.9" r="1.4"/><circle cx="136.3" cy="204.6" r="1.4"/><circle cx="162.9" cy="202.2" r="1.4"/><circle cx="148.8" cy="183.0" r="1.4"/><circle cx="181.2" cy="205.0" r="1.4"/><circle cx="145.9" cy="190.3" r="1.4"/><circle cx="140.7" cy="208.7" r="1.4"/><circle cx="149.7" cy="195.8" r="1.4"/><circle cx="151.3" cy="212.7" r="1.4"/><circle cx="181.1" cy="185.2" r="1.4"/><circle cx="168.7" cy="214.8" r="1.4"/><circle cx="139.5" cy="218.0" r="1.4"/><circle cx="154.3" cy="220.3" r="1.4"/><circle cx="138.4" cy="183.2" r="1.4"/><circle cx="171.3" cy="189.5" r="1.4"/><circle cx="179.5" cy="190.7" r="1.4"/><circle cx="146.2" cy="219.3" r="1.4"/><circle cx="148.4" cy="217.9" r="1.4"/><circle cx="173.6" cy="218.8" r="1.4"/><circle cx="186.1" cy="216.3" r="1.4"/><circle cx="148.0" cy="216.2" r="1.4"/><circle cx="162.4" cy="209.4" r="1.4"/><circle cx="149.7" cy="206.6" r="1.4"/><circle cx="136.2" cy="195.7" r="1.4"/><circle cx="165.7" cy="199.8" r="1.4"/><circle cx="170.3" cy="202.2" r="1.4"/><circle cx="140.6" cy="188.1" r="1.4"/><circle cx="165.4" cy="221.2" r="1.4"/><circle cx="144.2" cy="202.0" r="1.4"/><circle cx="174.5" cy="207.5" r="1.4"/><circle cx="170.5" cy="218.5" r="1.4"/><circle cx="164.2" cy="192.8" r="1.4"/><circle cx="178.4" cy="206.0" r="1.4"/><circle cx="152.2" cy="178.9" r="1.4"/><circle cx="174.9" cy="218.4" r="1.4"/><circle cx="157.3" cy="216.1" r="1.4"/><circle cx="151.4" cy="207.0" r="1.4"/><circle cx="174.5" cy="192.9" r="1.4"/><circle cx="157.1" cy="207.2" r="1.4"/><circle cx="173.2" cy="191.6" r="1.4"/><circle cx="170.9" cy="200.2" r="1.4"/><circle cx="184.4" cy="209.5" r="1.4"/><circle cx="155.1" cy="217.8" r="1.4"/><circle cx="151.9" cy="179.0" r="1.4"/><circle cx="187.1" cy="199.6" r="1.4"/><circle cx="155.6" cy="185.9" r="1.4"/><circle cx="171.1" cy="188.8" r="1.4"/><circle cx="168.2" cy="185.0" r="1.4"/><circle cx="148.7" cy="191.9" r="1.4"/><circle cx="177.0" cy="185.4" r="1.4"/><circle cx="176.0" cy="213.3" r="1.4"/><circle cx="182.6" cy="203.1" r="1.4"/><circle cx="137.8" cy="199.8" r="1.4"/><circle cx="173.3" cy="189.7" r="1.4"/><circle cx="180.1" cy="211.1" r="1.4"/><circle cx="137.2" cy="203.5" r="1.4"/><circle cx="162.4" cy="213.6" r="1.4"/><circle cx="146.0" cy="211.0" r="1.4"/><circle cx="183.9" cy="210.8" r="1.4"/><circle cx="178.2" cy="211.1" r="1.4"/><circle cx="167.4" cy="204.3" r="1.4"/><circle cx="173.7" cy="217.3" r="1.4"/><circle cx="169.5" cy="207.5" r="1.4"/><circle cx="139.4" cy="203.2" r="1.4"/><circle cx="148.6" cy="195.5" r="1.4"/><circle cx="149.3" cy="188.4" r="1.4"/><circle cx="151.5" cy="204.9" r="1.4"/><circle cx="142.9" cy="198.1" r="1.4"/><circle cx="183.6" cy="219.0" r="1.4"/><circle cx="144.9" cy="215.1" r="1.4"/><circle cx="154.3" cy="196.7" r="1.4"/><circle cx="146.6" cy="202.8" r="1.4"/><circle cx="159.8" cy="218.0" r="1.4"/><circle cx="135.5" cy="205.2" r="1.4"/><circle cx="184.5" cy="205.8" r="1.4"/><circle cx="140.8" cy="196.9" r="1.4"/><circle cx="172.5" cy="219.9" r="1.4"/><circle cx="146.9" cy="196.7" r="1.4"/><circle cx="153.5" cy="219.0" r="1.4"/><circle cx="153.1" cy="202.8" r="1.4"/><circle cx="146.3" cy="192.1" r="1.4"/><circle cx="155.5" cy="216.1" r="1.4"/><circle cx="156.6" cy="215.2" r="1.4"/><circle cx="170.4" cy="189.6" r="1.4"/><circle cx="143.6" cy="195.6" r="1.4"/><circle cx="135.3" cy="214.7" r="1.4"/><circle cx="178.3" cy="192.7" r="1.4"/><circle cx="167.3" cy="196.2" r="1.4"/><circle cx="186.0" cy="215.6" r="1.4"/><circle cx="181.3" cy="214.4" r="1.4"/><circle cx="139.9" cy="217.3" r="1.4"/><circle cx="142.2" cy="194.6" r="1.4"/><circle cx="168.5" cy="183.4" r="1.4"/><circle cx="141.8" cy="182.2" r="1.4"/><circle cx="164.8" cy="200.9" r="1.4"/><circle cx="169.7" cy="203.7" r="1.4"/><circle cx="175.9" cy="216.2" r="1.4"/><circle cx="155.9" cy="190.7" r="1.4"/><circle cx="137.1" cy="194.4" r="1.4"/><circle cx="166.7" cy="195.2" r="1.4"/><circle cx="146.8" cy="203.5" r="1.4"/><circle cx="154.8" cy="209.7" r="1.4"/><circle cx="182.4" cy="182.9" r="1.4"/><circle cx="151.6" cy="192.1" r="1.4"/><circle cx="135.6" cy="208.8" r="1.4"/><circle cx="140.6" cy="214.6" r="1.4"/><circle cx="158.5" cy="211.2" r="1.4"/><circle cx="145.9" cy="215.9" r="1.4"/><circle cx="139.8" cy="193.2" r="1.4"/><circle cx="145.0" cy="217.2" r="1.4"/><circle cx="182.3" cy="217.2" r="1.4"/><circle cx="155.1" cy="207.0" r="1.4"/><circle cx="139.2" cy="216.6" r="1.4"/><circle cx="167.6" cy="219.8" r="1.4"/><circle cx="157.8" cy="210.4" r="1.4"/><circle cx="134.4" cy="208.4" r="1.4"/><circle cx="184.5" cy="198.3" r="1.4"/><circle cx="178.3" cy="203.3" r="1.4"/><circle cx="169.6" cy="191.1" r="1.4"/><circle cx="168.5" cy="198.7" r="1.4"/><circle cx="172.8" cy="203.8" r="1.4"/><circle cx="156.8" cy="211.7" r="1.4"/><circle cx="156.9" cy="200.5" r="1.4"/><circle cx="174.3" cy="200.8" r="1.4"/><circle cx="170.2" cy="183.5" r="1.4"/><circle cx="186.8" cy="210.4" r="1.4"/><circle cx="154.0" cy="209.4" r="1.4"/><circle cx="167.5" cy="188.4" r="1.4"/><circle cx="146.7" cy="218.6" r="1.4"/><circle cx="148.1" cy="200.3" r="1.4"/><circle cx="157.2" cy="204.5" r="1.4"/><circle cx="145.3" cy="185.6" r="1.4"/><circle cx="183.9" cy="201.1" r="1.4"/><circle cx="156.2" cy="211.4" r="1.4"/><circle cx="153.7" cy="220.6" r="1.4"/><circle cx="174.9" cy="195.6" r="1.4"/><circle cx="173.0" cy="195.6" r="1.4"/><circle cx="149.5" cy="204.7" r="1.4"/><circle cx="185.3" cy="207.3" r="1.4"/><circle cx="134.3" cy="197.9" r="1.4"/><circle cx="181.8" cy="207.4" r="1.4"/><circle cx="155.7" cy="195.4" r="1.4"/><circle cx="151.2" cy="199.1" r="1.4"/><circle cx="154.6" cy="218.7" r="1.4"/><circle cx="176.8" cy="187.7" r="1.4"/><circle cx="145.5" cy="212.7" r="1.4"/><circle cx="156.8" cy="199.8" r="1.4"/><circle cx="136.9" cy="192.5" r="1.4"/><circle cx="135.1" cy="199.4" r="1.4"/><circle cx="154.4" cy="200.5" r="1.4"/><circle cx="179.3" cy="201.1" r="1.4"/><circle cx="148.6" cy="199.6" r="1.4"/><circle cx="180.4" cy="209.4" r="1.4"/><circle cx="142.5" cy="204.5" r="1.4"/><circle cx="171.6" cy="187.3" r="1.4"/><circle cx="146.5" cy="198.4" r="1.4"/><circle cx="166.2" cy="187.0" r="1.4"/><circle cx="152.0" cy="197.2" r="1.4"/><circle cx="143.6" cy="186.3" r="1.4"/><circle cx="164.9" cy="209.0" r="1.4"/><circle cx="176.2" cy="211.9" r="1.4"/><circle cx="150.4" cy="218.0" r="1.4"/><circle cx="146.9" cy="218.1" r="1.4"/><circle cx="137.0" cy="216.7" r="1.4"/><circle cx="144.0" cy="203.7" r="1.4"/><circle cx="134.2" cy="216.7" r="1.4"/><circle cx="146.4" cy="212.9" r="1.4"/><circle cx="172.4" cy="188.9" r="1.4"/><circle cx="139.1" cy="215.0" r="1.4"/><circle cx="168.1" cy="200.1" r="1.4"/><circle cx="148.9" cy="194.5" r="1.4"/><circle cx="156.6" cy="216.4" r="1.4"/><circle cx="139.2" cy="212.7" r="1.4"/><circle cx="182.1" cy="214.7" r="1.4"/><circle cx="164.8" cy="191.0" r="1.4"/><circle cx="150.2" cy="216.7" r="1.4"/><circle cx="146.6" cy="209.4" r="1.4"/><circle cx="149.6" cy="216.4" r="1.4"/><circle cx="166.5" cy="216.1" r="1.4"/><circle cx="134.5" cy="196.2" r="1.4"/><circle cx="147.3" cy="212.7" r="1.4"/><circle cx="136.9" cy="196.0" r="1.4"/><circle cx="162.2" cy="213.0" r="1.4"/><circle cx="182.4" cy="215.9" r="1.4"/><circle cx="135.7" cy="204.5" r="1.4"/><circle cx="134.4" cy="196.9" r="1.4"/><circle cx="147.7" cy="195.7" r="1.4"/><circle cx="141.9" cy="197.6" r="1.4"/><circle cx="185.7" cy="195.0" r="1.4"/><circle cx="175.1" cy="214.6" r="1.4"/><circle cx="184.1" cy="200.5" r="1.4"/><circle cx="164.5" cy="217.2" r="1.4"/><circle cx="177.6" cy="216.5" r="1.4"/><circle cx="171.5" cy="210.6" r="1.4"/><circle cx="148.7" cy="219.9" r="1.4"/><circle cx="168.4" cy="214.2" r="1.4"/><circle cx="148.6" cy="202.8" r="1.4"/><circle cx="158.1" cy="220.2" r="1.4"/><circle cx="142.3" cy="187.7" r="1.4"/><circle cx="179.3" cy="209.2" r="1.4"/><circle cx="142.3" cy="212.9" r="1.4"/><circle cx="148.1" cy="188.4" r="1.4"/><circle cx="181.7" cy="202.5" r="1.4"/><circle cx="183.0" cy="203.3" r="1.4"/><circle cx="184.1" cy="192.4" r="1.4"/><circle cx="182.8" cy="216.3" r="1.4"/><circle cx="163.8" cy="216.9" r="1.4"/><circle cx="175.7" cy="184.7" r="1.4"/><circle cx="148.5" cy="207.8" r="1.4"/><circle cx="139.1" cy="201.4" r="1.4"/><circle cx="165.8" cy="193.2" r="1.4"/><circle cx="135.8" cy="207.7" r="1.4"/><circle cx="166.7" cy="188.8" r="1.4"/><circle cx="174.7" cy="217.7" r="1.4"/><circle cx="181.8" cy="194.2" r="1.4"/><circle cx="180.1" cy="190.8" r="1.4"/><circle cx="166.8" cy="208.7" r="1.4"/><circle cx="149.2" cy="209.1" r="1.4"/><circle cx="133.2" cy="198.1" r="1.4"/><circle cx="178.1" cy="205.6" r="1.4"/><circle cx="171.9" cy="218.1" r="1.4"/><circle cx="139.6" cy="219.9" r="1.4"/><circle cx="166.9" cy="210.7" r="1.4"/><circle cx="173.6" cy="210.5" r="1.4"/><circle cx="165.3" cy="180.1" r="1.4"/><circle cx="168.6" cy="193.8" r="1.4"/><circle cx="140.9" cy="212.8" r="1.4"/><circle cx="157.4" cy="210.0" r="1.4"/><circle cx="150.8" cy="212.8" r="1.4"/><circle cx="173.0" cy="221.1" r="1.4"/><circle cx="161.1" cy="220.0" r="1.4"/><circle cx="172.1" cy="200.7" r="1.4"/><circle cx="170.7" cy="194.6" r="1.4"/><circle cx="182.2" cy="215.0" r="1.4"/><circle cx="179.5" cy="220.2" r="1.4"/><circle cx="135.6" cy="212.6" r="1.4"/><circle cx="169.3" cy="216.4" r="1.4"/><circle cx="153.2" cy="217.4" r="1.4"/><circle cx="138.3" cy="209.4" r="1.4"/><circle cx="178.8" cy="216.1" r="1.4"/><circle cx="176.3" cy="215.9" r="1.4"/><circle cx="138.6" cy="219.6" r="1.4"/><circle cx="143.8" cy="199.3" r="1.4"/><circle cx="170.7" cy="218.1" r="1.4"/><circle cx="137.6" cy="211.7" r="1.4"/><circle cx="170.8" cy="211.1" r="1.4"/><circle cx="166.4" cy="187.3" r="1.4"/><circle cx="177.1" cy="196.1" r="1.4"/><circle cx="143.6" cy="218.7" r="1.4"/><circle cx="176.5" cy="219.6" r="1.4"/><circle cx="153.7" cy="195.7" r="1.4"/><circle cx="154.6" cy="211.9" r="1.4"/><circle cx="176.4" cy="214.5" r="1.4"/><circle cx="157.2" cy="196.7" r="1.4"/><circle cx="153.4" cy="199.3" r="1.4"/><circle cx="168.6" cy="202.1" r="1.4"/><circle cx="179.4" cy="199.7" r="1.4"/><circle cx="180.1" cy="200.7" r="1.4"/><circle cx="151.5" cy="208.4" r="1.4"/><circle cx="166.0" cy="199.9" r="1.4"/><circle cx="154.0" cy="214.7" r="1.4"/><circle cx="178.6" cy="215.1" r="1.4"/><circle cx="176.1" cy="195.0" r="1.4"/><circle cx="168.9" cy="199.8" r="1.4"/><circle cx="177.8" cy="194.4" r="1.4"/><circle cx="164.0" cy="193.5" r="1.4"/><circle cx="141.7" cy="208.6" r="1.4"/><circle cx="148.5" cy="209.2" r="1.4"/><circle cx="163.5" cy="209.7" r="1.4"/><circle cx="132.9" cy="208.4" r="1.4"/><circle cx="154.5" cy="219.6" r="1.4"/><circle cx="167.2" cy="182.2" r="1.4"/><circle cx="146.6" cy="200.2" r="1.4"/><circle cx="168.9" cy="184.6" r="1.4"/><circle cx="165.0" cy="211.3" r="1.4"/><circle cx="153.4" cy="196.4" r="1.4"/><circle cx="141.1" cy="218.4" r="1.4"/><circle cx="135.6" cy="205.0" r="1.4"/><circle cx="152.1" cy="192.8" r="1.4"/><circle cx="148.2" cy="195.2" r="1.4"/><circle cx="157.4" cy="208.6" r="1.4"/><circle cx="181.1" cy="211.4" r="1.4"/><circle cx="186.3" cy="215.1" r="1.4"/><circle cx="177.7" cy="206.6" r="1.4"/><circle cx="164.1" cy="190.2" r="1.4"/><circle cx="184.2" cy="187.9" r="1.4"/><circle cx="150.8" cy="217.4" r="1.4"/><circle cx="142.2" cy="211.9" r="1.4"/><circle cx="183.4" cy="195.7" r="1.4"/><circle cx="162.6" cy="217.2" r="1.4"/><circle cx="167.5" cy="199.1" r="1.4"/><circle cx="166.1" cy="212.4" r="1.4"/><circle cx="169.6" cy="210.4" r="1.4"/><circle cx="145.0" cy="206.1" r="1.4"/><circle cx="147.9" cy="209.4" r="1.4"/><circle cx="176.7" cy="187.0" r="1.4"/><circle cx="177.5" cy="221.1" r="1.4"/><circle cx="139.4" cy="193.4" r="1.4"/><circle cx="149.2" cy="219.7" r="1.4"/><circle cx="177.4" cy="204.5" r="1.4"/><circle cx="174.5" cy="205.1" r="1.4"/><circle cx="133.9" cy="216.1" r="1.4"/><circle cx="144.8" cy="195.9" r="1.4"/><circle cx="182.6" cy="191.4" r="1.4"/><circle cx="154.9" cy="214.7" r="1.4"/><circle cx="183.8" cy="196.0" r="1.4"/><circle cx="168.1" cy="220.4" r="1.4"/><circle cx="167.1" cy="198.9" r="1.4"/><circle cx="132.8" cy="207.4" r="1.4"/><circle cx="167.2" cy="196.1" r="1.4"/><circle cx="177.7" cy="196.4" r="1.4"/><circle cx="154.3" cy="203.0" r="1.4"/><circle cx="140.0" cy="192.2" r="1.4"/><circle cx="137.0" cy="206.6" r="1.4"/><circle cx="177.4" cy="205.4" r="1.4"/><circle cx="155.0" cy="186.8" r="1.4"/><circle cx="154.7" cy="214.9" r="1.4"/><circle cx="154.5" cy="205.2" r="1.4"/><circle cx="143.9" cy="201.2" r="1.4"/><circle cx="152.0" cy="185.9" r="1.4"/><circle cx="185.4" cy="210.6" r="1.4"/><circle cx="171.3" cy="203.8" r="1.4"/><circle cx="185.7" cy="188.7" r="1.4"/><circle cx="145.8" cy="190.4" r="1.4"/><circle cx="136.5" cy="190.2" r="1.4"/><circle cx="146.1" cy="208.6" r="1.4"/><circle cx="148.6" cy="214.7" r="1.4"/><circle cx="151.6" cy="194.0" r="1.4"/><circle cx="186.7" cy="194.0" r="1.4"/><circle cx="143.3" cy="209.6" r="1.4"/><circle cx="153.0" cy="209.9" r="1.4"/><circle cx="137.3" cy="199.0" r="1.4"/><circle cx="156.5" cy="212.7" r="1.4"/><circle cx="169.9" cy="215.3" r="1.4"/><circle cx="157.3" cy="218.4" r="1.4"/><circle cx="141.7" cy="197.3" r="1.4"/><circle cx="134.1" cy="207.4" r="1.4"/><circle cx="187.2" cy="190.5" r="1.4"/><circle cx="181.2" cy="207.1" r="1.4"/><circle cx="152.8" cy="214.8" r="1.4"/><circle cx="168.9" cy="204.3" r="1.4"/><circle cx="178.6" cy="197.0" r="1.4"/><circle cx="171.4" cy="216.4" r="1.4"/><circle cx="155.5" cy="203.9" r="1.4"/><circle cx="172.0" cy="187.1" r="1.4"/><circle cx="173.1" cy="206.8" r="1.4"/><circle cx="142.2" cy="191.5" r="1.4"/><circle cx="171.9" cy="213.1" r="1.4"/><circle cx="170.3" cy="211.8" r="1.4"/><circle cx="176.4" cy="205.8" r="1.4"/><circle cx="176.3" cy="212.2" r="1.4"/><circle cx="174.7" cy="191.8" r="1.4"/><circle cx="167.3" cy="217.5" r="1.4"/><circle cx="136.7" cy="216.5" r="1.4"/><circle cx="147.7" cy="218.7" r="1.4"/><circle cx="177.5" cy="214.0" r="1.4"/><circle cx="144.9" cy="218.4" r="1.4"/><circle cx="150.2" cy="212.3" r="1.4"/><circle cx="177.7" cy="192.7" r="1.4"/><circle cx="139.8" cy="207.2" r="1.4"/><circle cx="148.1" cy="220.0" r="1.4"/><circle cx="146.8" cy="191.2" r="1.4"/><circle cx="135.4" cy="194.3" r="1.4"/><circle cx="173.3" cy="196.1" r="1.4"/><circle cx="150.3" cy="193.5" r="1.4"/><circle cx="155.1" cy="192.0" r="1.4"/><circle cx="151.0" cy="212.3" r="1.4"/><circle cx="178.9" cy="203.1" r="1.4"/><circle cx="140.1" cy="220.4" r="1.4"/><circle cx="148.4" cy="202.0" r="1.4"/><circle cx="151.8" cy="216.2" r="1.4"/><circle cx="150.8" cy="193.2" r="1.4"/><circle cx="150.1" cy="197.0" r="1.4"/><circle cx="133.6" cy="193.0" r="1.4"/><circle cx="187.3" cy="199.3" r="1.4"/><circle cx="176.7" cy="211.1" r="1.4"/><circle cx="168.0" cy="192.3" r="1.4"/><circle cx="169.5" cy="204.0" r="1.4"/><circle cx="187.0" cy="199.6" r="1.4"/><circle cx="151.6" cy="191.0" r="1.4"/><circle cx="175.3" cy="220.3" r="1.4"/><circle cx="144.6" cy="186.6" r="1.4"/><circle cx="181.6" cy="201.6" r="1.4"/><circle cx="182.7" cy="210.2" r="1.4"/><circle cx="141.8" cy="204.7" r="1.4"/><circle cx="174.0" cy="219.6" r="1.4"/><circle cx="148.6" cy="191.3" r="1.4"/><circle cx="147.6" cy="215.2" r="1.4"/><circle cx="174.5" cy="201.6" r="1.4"/><circle cx="186.6" cy="208.2" r="1.4"/><circle cx="172.2" cy="190.6" r="1.4"/><circle cx="135.4" cy="196.5" r="1.4"/><circle cx="176.4" cy="220.3" r="1.4"/><circle cx="180.9" cy="221.0" r="1.4"/><circle cx="134.9" cy="199.1" r="1.4"/><circle cx="155.8" cy="203.1" r="1.4"/><circle cx="143.5" cy="205.5" r="1.4"/><circle cx="144.2" cy="191.9" r="1.4"/><circle cx="143.8" cy="187.4" r="1.4"/><circle cx="177.3" cy="194.4" r="1.4"/><circle cx="182.9" cy="213.2" r="1.4"/><circle cx="133.7" cy="202.5" r="1.4"/><circle cx="172.3" cy="206.2" r="1.4"/><circle cx="145.4" cy="191.3" r="1.4"/><circle cx="142.5" cy="192.4" r="1.4"/><circle cx="181.9" cy="194.6" r="1.4"/><circle cx="141.3" cy="218.4" r="1.4"/><circle cx="158.3" cy="207.5" r="1.4"/><circle cx="144.6" cy="213.7" r="1.4"/><circle cx="148.6" cy="189.2" r="1.4"/><circle cx="133.8" cy="199.9" r="1.4"/><circle cx="182.4" cy="202.9" r="1.4"/><circle cx="181.2" cy="218.0" r="1.4"/><circle cx="170.2" cy="208.0" r="1.4"/><circle cx="158.6" cy="217.0" r="1.4"/><circle cx="184.8" cy="196.4" r="1.4"/><circle cx="155.4" cy="211.2" r="1.4"/><circle cx="156.6" cy="213.2" r="1.4"/><circle cx="161.7" cy="218.7" r="1.4"/><circle cx="181.3" cy="193.2" r="1.4"/><circle cx="136.5" cy="193.4" r="1.4"/><circle cx="179.4" cy="191.2" r="1.4"/><circle cx="161.3" cy="218.7" r="1.4"/><circle cx="172.8" cy="217.9" r="1.4"/><circle cx="155.4" cy="206.5" r="1.4"/><circle cx="149.0" cy="201.0" r="1.4"/><circle cx="151.1" cy="198.0" r="1.4"/><circle cx="147.8" cy="187.6" r="1.4"/><circle cx="165.4" cy="198.9" r="1.4"/><circle cx="142.3" cy="195.8" r="1.4"/><circle cx="157.4" cy="218.6" r="1.4"/><circle cx="177.5" cy="204.4" r="1.4"/><circle cx="171.6" cy="204.5" r="1.4"/><circle cx="166.8" cy="211.9" r="1.4"/><circle cx="169.6" cy="188.9" r="1.4"/><circle cx="157.3" cy="211.2" r="1.4"/><circle cx="176.8" cy="215.3" r="1.4"/><circle cx="178.5" cy="191.0" r="1.4"/><circle cx="156.1" cy="210.8" r="1.4"/><circle cx="147.3" cy="221.0" r="1.4"/><circle cx="143.3" cy="196.5" r="1.4"/><circle cx="177.5" cy="210.4" r="1.4"/><circle cx="151.8" cy="205.1" r="1.4"/><circle cx="153.7" cy="190.9" r="1.4"/><circle cx="142.9" cy="193.4" r="1.4"/><circle cx="164.0" cy="187.5" r="1.4"/><circle cx="155.6" cy="213.7" r="1.4"/><circle cx="183.9" cy="200.2" r="1.4"/><circle cx="166.6" cy="211.3" r="1.4"/><circle cx="186.2" cy="193.4" r="1.4"/><circle cx="179.7" cy="191.4" r="1.4"/><circle cx="144.4" cy="214.2" r="1.4"/><circle cx="139.3" cy="199.7" r="1.4"/><circle cx="173.1" cy="220.8" r="1.4"/><circle cx="140.3" cy="210.2" r="1.4"/><circle cx="168.0" cy="216.6" r="1.4"/><circle cx="150.4" cy="207.5" r="1.4"/><circle cx="149.1" cy="207.9" r="1.4"/><circle cx="142.2" cy="195.7" r="1.4"/><circle cx="148.5" cy="208.6" r="1.4"/><circle cx="184.3" cy="210.0" r="1.4"/><circle cx="163.0" cy="199.1" r="1.4"/><circle cx="157.7" cy="214.2" r="1.4"/><circle cx="177.1" cy="220.4" r="1.4"/><circle cx="187.1" cy="206.4" r="1.4"/><circle cx="163.9" cy="218.5" r="1.4"/><circle cx="151.6" cy="210.5" r="1.4"/><circle cx="176.2" cy="212.4" r="1.4"/><circle cx="137.6" cy="198.0" r="1.4"/><circle cx="180.9" cy="189.8" r="1.4"/><circle cx="138.2" cy="199.8" r="1.4"/><circle cx="176.6" cy="190.5" r="1.4"/><circle cx="178.9" cy="218.7" r="1.4"/><circle cx="141.9" cy="205.3" r="1.4"/><circle cx="163.3" cy="205.7" r="1.4"/><circle cx="175.8" cy="203.7" r="1.4"/><circle cx="155.3" cy="204.1" r="1.4"/><circle cx="146.9" cy="183.5" r="1.4"/><circle cx="171.7" cy="211.0" r="1.4"/><circle cx="139.0" cy="187.5" r="1.4"/><circle cx="152.9" cy="211.8" r="1.4"/><circle cx="175.8" cy="194.7" r="1.4"/><circle cx="156.0" cy="212.4" r="1.4"/><circle cx="163.5" cy="193.6" r="1.4"/><circle cx="169.8" cy="214.0" r="1.4"/><circle cx="169.7" cy="195.2" r="1.4"/><circle cx="185.4" cy="189.5" r="1.4"/><circle cx="158.1" cy="209.0" r="1.4"/><circle cx="164.0" cy="210.2" r="1.4"/><circle cx="133.9" cy="209.3" r="1.4"/><circle cx="143.3" cy="219.3" r="1.4"/><circle cx="146.4" cy="195.4" r="1.4"/><circle cx="144.3" cy="193.0" r="1.4"/><circle cx="143.7" cy="216.7" r="1.4"/><circle cx="163.9" cy="206.3" r="1.4"/><circle cx="136.8" cy="196.1" r="1.4"/><circle cx="146.1" cy="199.2" r="1.4"/><circle cx="135.3" cy="196.3" r="1.4"/><circle cx="164.2" cy="218.7" r="1.4"/><circle cx="154.6" cy="199.5" r="1.4"/><circle cx="182.1" cy="217.9" r="1.4"/><circle cx="163.9" cy="216.6" r="1.4"/><circle cx="174.1" cy="203.5" r="1.4"/><circle cx="151.7" cy="213.8" r="1.4"/><circle cx="153.4" cy="211.8" r="1.4"/><circle cx="179.4" cy="200.6" r="1.4"/><circle cx="146.6" cy="198.7" r="1.4"/><circle cx="139.1" cy="210.2" r="1.4"/><circle cx="169.8" cy="196.0" r="1.4"/><circle cx="139.6" cy="205.5" r="1.4"/><circle cx="170.3" cy="220.5" r="1.4"/><circle cx="152.5" cy="219.4" r="1.4"/><circle cx="173.9" cy="188.6" r="1.4"/><circle cx="148.4" cy="209.0" r="1.4"/><circle cx="165.8" cy="220.4" r="1.4"/><circle cx="165.1" cy="198.2" r="1.4"/><circle cx="161.8" cy="215.7" r="1.4"/><circle cx="144.0" cy="211.8" r="1.4"/><circle cx="144.5" cy="214.5" r="1.4"/><circle cx="150.2" cy="193.4" r="1.4"/><circle cx="164.1" cy="185.8" r="1.4"/><circle cx="169.0" cy="196.8" r="1.4"/><circle cx="171.7" cy="200.9" r="1.4"/><circle cx="167.2" cy="181.2" r="1.4"/><circle cx="149.0" cy="191.4" r="1.4"/><circle cx="144.8" cy="213.6" r="1.4"/><circle cx="154.6" cy="211.8" r="1.4"/><circle cx="170.5" cy="191.5" r="1.4"/><circle cx="140.1" cy="187.2" r="1.4"/><circle cx="167.5" cy="206.2" r="1.4"/><circle cx="133.9" cy="196.2" r="1.4"/><circle cx="142.8" cy="207.0" r="1.4"/><circle cx="176.9" cy="199.5" r="1.4"/><circle cx="174.7" cy="208.2" r="1.4"/><circle cx="170.1" cy="183.3" r="1.4"/><circle cx="146.7" cy="202.4" r="1.4"/><circle cx="165.6" cy="210.0" r="1.4"/><circle cx="182.5" cy="194.0" r="1.4"/><circle cx="183.9" cy="203.8" r="1.4"/><circle cx="145.8" cy="212.4" r="1.4"/><circle cx="185.8" cy="190.5" r="1.4"/><circle cx="137.2" cy="186.7" r="1.4"/><circle cx="167.6" cy="193.6" r="1.4"/><circle cx="146.8" cy="199.8" r="1.4"/><circle cx="137.9" cy="187.1" r="1.4"/><circle cx="163.9" cy="216.1" r="1.4"/><circle cx="144.4" cy="219.9" r="1.4"/><circle cx="175.7" cy="211.2" r="1.4"/><circle cx="147.5" cy="196.2" r="1.4"/><circle cx="133.4" cy="207.1" r="1.4"/><circle cx="170.6" cy="189.9" r="1.4"/><circle cx="167.6" cy="205.1" r="1.4"/><circle cx="176.8" cy="205.2" r="1.4"/><circle cx="153.7" cy="185.3" r="1.4"/><circle cx="183.0" cy="208.3" r="1.4"/><circle cx="174.6" cy="193.7" r="1.4"/><circle cx="138.4" cy="210.9" r="1.4"/><circle cx="186.7" cy="212.7" r="1.4"/><circle cx="137.7" cy="210.9" r="1.4"/><circle cx="173.8" cy="187.5" r="1.4"/><circle cx="146.1" cy="186.1" r="1.4"/><circle cx="170.5" cy="200.9" r="1.4"/><circle cx="178.5" cy="206.9" r="1.4"/><circle cx="139.2" cy="207.3" r="1.4"/><circle cx="150.5" cy="205.8" r="1.4"/><circle cx="141.2" cy="210.7" r="1.4"/><circle cx="139.5" cy="213.9" r="1.4"/><circle cx="152.3" cy="202.8" r="1.4"/><circle cx="138.2" cy="189.1" r="1.4"/><circle cx="152.1" cy="190.9" r="1.4"/><circle cx="167.8" cy="195.6" r="1.4"/><circle cx="170.0" cy="196.0" r="1.4"/><circle cx="134.4" cy="204.2" r="1.4"/><circle cx="174.8" cy="191.4" r="1.4"/><circle cx="175.6" cy="201.0" r="1.4"/><circle cx="172.6" cy="212.7" r="1.4"/><circle cx="156.7" cy="194.4" r="1.4"/><circle cx="181.2" cy="205.1" r="1.4"/><circle cx="138.1" cy="197.7" r="1.4"/><circle cx="136.5" cy="217.2" r="1.4"/><circle cx="185.7" cy="179.4" r="1.4"/><circle cx="142.5" cy="201.8" r="1.4"/><circle cx="164.1" cy="199.9" r="1.4"/><circle cx="142.5" cy="216.6" r="1.4"/><circle cx="182.8" cy="210.0" r="1.4"/><circle cx="150.3" cy="211.7" r="1.4"/><circle cx="157.1" cy="199.9" r="1.4"/><circle cx="163.9" cy="217.9" r="1.4"/><circle cx="171.1" cy="195.7" r="1.4"/><circle cx="173.3" cy="178.6" r="1.4"/><circle cx="153.0" cy="214.5" r="1.4"/><circle cx="168.5" cy="208.6" r="1.4"/><circle cx="174.8" cy="185.3" r="1.4"/><circle cx="144.8" cy="218.3" r="1.4"/><circle cx="136.4" cy="193.2" r="1.4"/><circle cx="150.7" cy="182.7" r="1.4"/><circle cx="147.7" cy="182.4" r="1.4"/><circle cx="175.9" cy="193.2" r="1.4"/><circle cx="146.8" cy="219.1" r="1.4"/><circle cx="139.6" cy="213.2" r="1.4"/><circle cx="174.3" cy="215.0" r="1.4"/><circle cx="144.0" cy="205.0" r="1.4"/><circle cx="151.0" cy="202.1" r="1.4"/><circle cx="147.0" cy="187.5" r="1.4"/><circle cx="135.6" cy="215.0" r="1.4"/><circle cx="166.2" cy="218.3" r="1.4"/><circle cx="167.0" cy="199.0" r="1.4"/><circle cx="161.7" cy="214.6" r="1.4"/><circle cx="135.1" cy="203.1" r="1.4"/><circle cx="134.8" cy="192.7" r="1.4"/><circle cx="133.6" cy="202.4" r="1.4"/><circle cx="175.0" cy="185.5" r="1.4"/><circle cx="150.5" cy="215.5" r="1.4"/><circle cx="171.9" cy="199.3" r="1.4"/><circle cx="143.6" cy="188.0" r="1.4"/><circle cx="181.8" cy="207.2" r="1.4"/><circle cx="155.1" cy="186.8" r="1.4"/><circle cx="160.0" cy="216.0" r="1.4"/><circle cx="171.7" cy="219.5" r="1.4"/><circle cx="150.3" cy="217.8" r="1.4"/><circle cx="168.3" cy="216.6" r="1.4"/><circle cx="144.9" cy="189.3" r="1.4"/><circle cx="170.0" cy="219.4" r="1.4"/><circle cx="143.0" cy="194.4" r="1.4"/><circle cx="138.4" cy="207.6" r="1.4"/><circle cx="175.6" cy="198.6" r="1.4"/><circle cx="186.0" cy="203.3" r="1.4"/><circle cx="143.0" cy="196.6" r="1.4"/><circle cx="149.7" cy="192.0" r="1.4"/><circle cx="137.0" cy="212.0" r="1.4"/><circle cx="158.0" cy="220.3" r="1.4"/><circle cx="170.4" cy="184.9" r="1.4"/><circle cx="164.0" cy="205.7" r="1.4"/><circle cx="149.3" cy="208.1" r="1.4"/><circle cx="151.4" cy="204.0" r="1.4"/><circle cx="158.4" cy="214.1" r="1.4"/><circle cx="142.9" cy="191.2" r="1.4"/><circle cx="181.1" cy="192.8" r="1.4"/><circle cx="155.9" cy="218.0" r="1.4"/><circle cx="139.6" cy="211.8" r="1.4"/><circle cx="169.1" cy="206.4" r="1.4"/><circle cx="154.2" cy="207.3" r="1.4"/><circle cx="139.1" cy="219.0" r="1.4"/><circle cx="173.0" cy="207.0" r="1.4"/><circle cx="186.8" cy="207.4" r="1.4"/><circle cx="133.1" cy="187.0" r="1.4"/><circle cx="156.0" cy="215.3" r="1.4"/><circle cx="156.5" cy="209.3" r="1.4"/><circle cx="172.3" cy="203.9" r="1.4"/><circle cx="146.0" cy="220.4" r="1.4"/><circle cx="154.6" cy="219.6" r="1.4"/><circle cx="156.7" cy="200.7" r="1.4"/><circle cx="145.4" cy="211.4" r="1.4"/><circle cx="154.4" cy="202.7" r="1.4"/><circle cx="137.9" cy="207.7" r="1.4"/><circle cx="166.6" cy="190.6" r="1.4"/><circle cx="177.4" cy="193.5" r="1.4"/><circle cx="140.8" cy="205.5" r="1.4"/><circle cx="174.5" cy="194.7" r="1.4"/><circle cx="140.2" cy="197.4" r="1.4"/><circle cx="142.0" cy="196.3" r="1.4"/><circle cx="178.3" cy="200.0" r="1.4"/><circle cx="169.9" cy="219.6" r="1.4"/><circle cx="170.8" cy="214.5" r="1.4"/><circle cx="140.5" cy="210.0" r="1.4"/><circle cx="152.1" cy="190.4" r="1.4"/><circle cx="184.3" cy="185.1" r="1.4"/><circle cx="167.3" cy="192.6" r="1.4"/><circle cx="163.0" cy="208.8" r="1.4"/><circle cx="155.4" cy="212.6" r="1.4"/><circle cx="172.0" cy="219.7" r="1.4"/><circle cx="158.0" cy="206.2" r="1.4"/><circle cx="177.8" cy="219.8" r="1.4"/><circle cx="136.4" cy="197.0" r="1.4"/><circle cx="182.8" cy="218.9" r="1.4"/><circle cx="144.7" cy="208.1" r="1.4"/><circle cx="171.1" cy="184.4" r="1.4"/><circle cx="152.6" cy="208.4" r="1.4"/><circle cx="151.4" cy="210.1" r="1.4"/><circle cx="180.8" cy="190.4" r="1.4"/><circle cx="139.5" cy="206.9" r="1.4"/><circle cx="142.1" cy="213.6" r="1.4"/><circle cx="171.8" cy="201.5" r="1.4"/><circle cx="174.6" cy="214.5" r="1.4"/><circle cx="186.8" cy="196.7" r="1.4"/><circle cx="164.1" cy="193.9" r="1.4"/><circle cx="175.5" cy="187.3" r="1.4"/><circle cx="169.6" cy="203.6" r="1.4"/><circle cx="162.8" cy="201.2" r="1.4"/><circle cx="176.9" cy="187.4" r="1.4"/><circle cx="143.9" cy="204.2" r="1.4"/><circle cx="141.2" cy="216.7" r="1.4"/><circle cx="153.8" cy="214.1" r="1.4"/><circle cx="184.6" cy="218.6" r="1.4"/><circle cx="177.8" cy="210.2" r="1.4"/><circle cx="173.4" cy="182.2" r="1.4"/><circle cx="181.5" cy="186.4" r="1.4"/><circle cx="153.7" cy="215.9" r="1.4"/><circle cx="153.4" cy="196.4" r="1.4"/><circle cx="149.6" cy="181.3" r="1.4"/><circle cx="143.3" cy="204.7" r="1.4"/><circle cx="154.1" cy="214.0" r="1.4"/><circle cx="180.2" cy="208.9" r="1.4"/><circle cx="165.4" cy="219.3" r="1.4"/><circle cx="150.2" cy="196.8" r="1.4"/><circle cx="148.8" cy="201.2" r="1.4"/><circle cx="137.9" cy="206.2" r="1.4"/><circle cx="184.3" cy="215.2" r="1.4"/><circle cx="181.2" cy="205.4" r="1.4"/><circle cx="165.5" cy="184.3" r="1.4"/><circle cx="148.1" cy="216.6" r="1.4"/><circle cx="181.8" cy="208.5" r="1.4"/><circle cx="155.4" cy="194.8" r="1.4"/><circle cx="181.3" cy="190.7" r="1.4"/><circle cx="151.9" cy="206.7" r="1.4"/><circle cx="150.9" cy="212.2" r="1.4"/><circle cx="155.1" cy="201.4" r="1.4"/><circle cx="178.7" cy="213.4" r="1.4"/><circle cx="167.4" cy="213.4" r="1.4"/><circle cx="177.0" cy="220.6" r="1.4"/><circle cx="171.3" cy="218.2" r="1.4"/><circle cx="151.0" cy="197.3" r="1.4"/><circle cx="148.9" cy="209.6" r="1.4"/><circle cx="151.0" cy="188.2" r="1.4"/><circle cx="177.1" cy="203.6" r="1.4"/><circle cx="133.2" cy="195.5" r="1.4"/><circle cx="165.8" cy="188.0" r="1.4"/><circle cx="178.9" cy="188.5" r="1.4"/><circle cx="163.5" cy="214.9" r="1.4"/><circle cx="153.6" cy="209.5" r="1.4"/><circle cx="158.7" cy="212.0" r="1.4"/><circle cx="136.9" cy="199.6" r="1.4"/><circle cx="176.1" cy="218.5" r="1.4"/><circle cx="162.9" cy="203.2" r="1.4"/><circle cx="147.9" cy="207.8" r="1.4"/><circle cx="182.8" cy="200.4" r="1.4"/><circle cx="149.0" cy="195.6" r="1.4"/><circle cx="143.2" cy="220.1" r="1.4"/><circle cx="147.7" cy="194.6" r="1.4"/><circle cx="150.8" cy="192.8" r="1.4"/><circle cx="140.6" cy="182.5" r="1.4"/><circle cx="174.3" cy="201.3" r="1.4"/><circle cx="157.4" cy="201.9" r="1.4"/><circle cx="164.7" cy="214.9" r="1.4"/><circle cx="155.9" cy="203.0" r="1.4"/><circle cx="180.1" cy="188.0" r="1.4"/><circle cx="185.4" cy="192.4" r="1.4"/><circle cx="163.4" cy="215.2" r="1.4"/><circle cx="185.5" cy="198.2" r="1.4"/><circle cx="184.0" cy="195.4" r="1.4"/><circle cx="168.6" cy="214.3" r="1.4"/><circle cx="140.1" cy="205.8" r="1.4"/><circle cx="167.8" cy="199.2" r="1.4"/><circle cx="161.8" cy="211.0" r="1.4"/><circle cx="171.2" cy="209.8" r="1.4"/><circle cx="147.6" cy="202.8" r="1.4"/><circle cx="187.0" cy="215.1" r="1.4"/><circle cx="151.7" cy="206.9" r="1.4"/><circle cx="187.4" cy="202.8" r="1.4"/><circle cx="147.9" cy="209.5" r="1.4"/><circle cx="170.0" cy="201.8" r="1.4"/><circle cx="147.0" cy="190.6" r="1.4"/><circle cx="155.0" cy="218.5" r="1.4"/><circle cx="168.9" cy="206.0" r="1.4"/><circle cx="173.9" cy="208.1" r="1.4"/><circle cx="182.9" cy="194.2" r="1.4"/><circle cx="162.9" cy="216.8" r="1.4"/><circle cx="185.4" cy="215.6" r="1.4"/><circle cx="166.1" cy="196.0" r="1.4"/><circle cx="174.2" cy="193.8" r="1.4"/><circle cx="137.3" cy="213.8" r="1.4"/><circle cx="175.8" cy="220.4" r="1.4"/><circle cx="177.5" cy="217.3" r="1.4"/><circle cx="163.5" cy="219.2" r="1.4"/><circle cx="183.2" cy="204.5" r="1.4"/><circle cx="171.0" cy="210.1" r="1.4"/><circle cx="176.8" cy="219.3" r="1.4"/><circle cx="161.1" cy="221.1" r="1.4"/><circle cx="170.1" cy="217.4" r="1.4"/><circle cx="170.8" cy="198.8" r="1.4"/><circle cx="175.2" cy="202.7" r="1.4"/><circle cx="177.4" cy="207.1" r="1.4"/><circle cx="136.9" cy="212.4" r="1.4"/><circle cx="158.2" cy="216.9" r="1.4"/><circle cx="183.2" cy="217.7" r="1.4"/><circle cx="148.8" cy="182.5" r="1.4"/><circle cx="140.6" cy="193.2" r="1.4"/><circle cx="155.0" cy="185.3" r="1.4"/><circle cx="178.9" cy="187.8" r="1.4"/><circle cx="185.6" cy="206.5" r="1.4"/><circle cx="153.6" cy="219.2" r="1.4"/><circle cx="156.0" cy="218.8" r="1.4"/><circle cx="149.3" cy="190.6" r="1.4"/><circle cx="174.1" cy="199.6" r="1.4"/><circle cx="137.3" cy="191.9" r="1.4"/><circle cx="184.9" cy="187.8" r="1.4"/><circle cx="138.4" cy="198.3" r="1.4"/><circle cx="175.5" cy="189.6" r="1.4"/><circle cx="134.1" cy="204.3" r="1.4"/><circle cx="139.6" cy="214.6" r="1.4"/><circle cx="148.8" cy="214.9" r="1.4"/><circle cx="187.4" cy="208.9" r="1.4"/><circle cx="142.5" cy="205.7" r="1.4"/><circle cx="145.7" cy="192.1" r="1.4"/><circle cx="182.0" cy="209.7" r="1.4"/><circle cx="162.4" cy="218.8" r="1.4"/><circle cx="171.7" cy="185.5" r="1.4"/><circle cx="173.4" cy="213.0" r="1.4"/><circle cx="177.0" cy="214.7" r="1.4"/><circle cx="137.7" cy="212.9" r="1.4"/><circle cx="157.6" cy="200.6" r="1.4"/><circle cx="138.7" cy="191.0" r="1.4"/><circle cx="165.1" cy="212.8" r="1.4"/><circle cx="184.2" cy="212.1" r="1.4"/><circle cx="160.9" cy="212.9" r="1.4"/><circle cx="142.0" cy="218.2" r="1.4"/><circle cx="161.8" cy="211.1" r="1.4"/><circle cx="173.4" cy="196.0" r="1.4"/><circle cx="176.8" cy="213.0" r="1.4"/><circle cx="174.1" cy="208.7" r="1.4"/><circle cx="180.6" cy="212.5" r="1.4"/><circle cx="162.3" cy="217.9" r="1.4"/><circle cx="132.9" cy="197.8" r="1.4"/><circle cx="144.4" cy="204.6" r="1.4"/><circle cx="149.2" cy="185.4" r="1.4"/><circle cx="164.1" cy="202.7" r="1.4"/><circle cx="137.0" cy="201.4" r="1.4"/><circle cx="171.7" cy="187.4" r="1.4"/><circle cx="154.4" cy="202.9" r="1.4"/><circle cx="144.7" cy="220.0" r="1.4"/><circle cx="185.0" cy="209.1" r="1.4"/><circle cx="151.1" cy="206.3" r="1.4"/><circle cx="139.5" cy="193.3" r="1.4"/><circle cx="174.9" cy="184.5" r="1.4"/><circle cx="149.7" cy="190.4" r="1.4"/><circle cx="139.0" cy="204.3" r="1.4"/><circle cx="145.0" cy="209.3" r="1.4"/><circle cx="175.9" cy="217.8" r="1.4"/><circle cx="141.5" cy="183.7" r="1.4"/><circle cx="186.4" cy="217.6" r="1.4"/><circle cx="172.6" cy="203.7" r="1.4"/><circle cx="154.8" cy="191.7" r="1.4"/><circle cx="143.1" cy="208.7" r="1.4"/><circle cx="146.1" cy="205.3" r="1.4"/><circle cx="163.2" cy="211.1" r="1.4"/><circle cx="149.1" cy="202.8" r="1.4"/><circle cx="164.9" cy="194.0" r="1.4"/><circle cx="185.2" cy="209.9" r="1.4"/><circle cx="153.2" cy="200.7" r="1.4"/><circle cx="140.7" cy="204.3" r="1.4"/><circle cx="136.6" cy="195.1" r="1.4"/><circle cx="147.4" cy="206.7" r="1.4"/><circle cx="174.5" cy="198.3" r="1.4"/><circle cx="147.5" cy="219.7" r="1.4"/><circle cx="182.0" cy="210.5" r="1.4"/><circle cx="164.3" cy="211.8" r="1.4"/><circle cx="165.7" cy="201.9" r="1.4"/><circle cx="177.6" cy="218.1" r="1.4"/><circle cx="169.4" cy="207.2" r="1.4"/><circle cx="184.8" cy="198.2" r="1.4"/><circle cx="141.6" cy="202.5" r="1.4"/><circle cx="168.2" cy="194.4" r="1.4"/><circle cx="164.6" cy="181.5" r="1.4"/><circle cx="145.3" cy="204.3" r="1.4"/><circle cx="171.1" cy="199.7" r="1.4"/><circle cx="138.2" cy="202.1" r="1.4"/><circle cx="184.5" cy="208.5" r="1.4"/><circle cx="181.7" cy="188.0" r="1.4"/><circle cx="165.8" cy="211.2" r="1.4"/><circle cx="176.1" cy="218.1" r="1.4"/><circle cx="169.0" cy="215.4" r="1.4"/><circle cx="145.5" cy="214.0" r="1.4"/><circle cx="179.7" cy="198.4" r="1.4"/><circle cx="166.2" cy="185.6" r="1.4"/><circle cx="165.3" cy="201.7" r="1.4"/><circle cx="184.8" cy="213.6" r="1.4"/><circle cx="163.3" cy="216.3" r="1.4"/><circle cx="155.9" cy="203.1" r="1.4"/><circle cx="163.1" cy="220.1" r="1.4"/><circle cx="180.4" cy="189.5" r="1.4"/><circle cx="167.7" cy="189.8" r="1.4"/><circle cx="176.6" cy="194.8" r="1.4"/><circle cx="143.6" cy="203.7" r="1.4"/><circle cx="167.5" cy="216.0" r="1.4"/><circle cx="140.5" cy="214.5" r="1.4"/><circle cx="172.7" cy="206.4" r="1.4"/><circle cx="183.8" cy="192.0" r="1.4"/><circle cx="148.3" cy="194.6" r="1.4"/><circle cx="142.1" cy="187.9" r="1.4"/><circle cx="164.0" cy="188.6" r="1.4"/><circle cx="136.0" cy="203.7" r="1.4"/><circle cx="177.6" cy="214.3" r="1.4"/><circle cx="144.0" cy="197.7" r="1.4"/><circle cx="140.1" cy="209.3" r="1.4"/><circle cx="140.9" cy="186.9" r="1.4"/><circle cx="171.2" cy="195.3" r="1.4"/><circle cx="135.5" cy="194.3" r="1.4"/><circle cx="155.8" cy="187.4" r="1.4"/><circle cx="142.7" cy="188.2" r="1.4"/><circle cx="175.4" cy="199.3" r="1.4"/><circle cx="143.5" cy="185.8" r="1.4"/><circle cx="174.9" cy="184.9" r="1.4"/><circle cx="161.0" cy="216.9" r="1.4"/><circle cx="186.9" cy="195.5" r="1.4"/><circle cx="153.1" cy="199.7" r="1.4"/><circle cx="155.7" cy="185.8" r="1.4"/><circle cx="178.1" cy="218.8" r="1.4"/><circle cx="146.2" cy="213.3" r="1.4"/><circle cx="148.1" cy="211.3" r="1.4"/><circle cx="167.5" cy="190.1" r="1.4"/><circle cx="164.4" cy="205.9" r="1.4"/><circle cx="170.6" cy="213.7" r="1.4"/><circle cx="179.1" cy="218.3" r="1.4"/><circle cx="158.5" cy="211.9" r="1.4"/><circle cx="140.3" cy="217.6" r="1.4"/><circle cx="176.7" cy="217.9" r="1.4"/><circle cx="175.6" cy="220.7" r="1.4"/><circle cx="153.1" cy="206.4" r="1.4"/><circle cx="181.4" cy="206.4" r="1.4"/><circle cx="133.1" cy="208.3" r="1.4"/><circle cx="150.2" cy="185.9" r="1.4"/><circle cx="172.3" cy="213.3" r="1.4"/><circle cx="172.1" cy="211.9" r="1.4"/><circle cx="179.1" cy="191.1" r="1.4"/><circle cx="144.3" cy="195.0" r="1.4"/><circle cx="165.2" cy="195.3" r="1.4"/><circle cx="136.8" cy="213.7" r="1.4"/><circle cx="167.1" cy="209.9" r="1.4"/><circle cx="181.7" cy="194.8" r="1.4"/><circle cx="165.6" cy="206.0" r="1.4"/><circle cx="165.7" cy="212.4" r="1.4"/><circle cx="150.8" cy="195.5" r="1.4"/><circle cx="163.2" cy="216.8" r="1.4"/><circle cx="177.0" cy="201.1" r="1.4"/><circle cx="143.4" cy="209.4" r="1.4"/><circle cx="137.0" cy="208.1" r="1.4"/><circle cx="153.0" cy="199.2" r="1.4"/><circle cx="142.9" cy="206.0" r="1.4"/><circle cx="156.4" cy="216.2" r="1.4"/><circle cx="172.9" cy="193.4" r="1.4"/><circle cx="133.6" cy="194.5" r="1.4"/><circle cx="167.5" cy="189.0" r="1.4"/><circle cx="135.2" cy="203.3" r="1.4"/><circle cx="133.9" cy="215.1" r="1.4"/><circle cx="182.5" cy="194.3" r="1.4"/><circle cx="158.9" cy="214.9" r="1.4"/><circle cx="136.7" cy="219.2" r="1.4"/><circle cx="175.8" cy="202.2" r="1.4"/><circle cx="172.2" cy="213.6" r="1.4"/><circle cx="176.0" cy="189.0" r="1.4"/><circle cx="153.9" cy="187.7" r="1.4"/><circle cx="136.1" cy="208.2" r="1.4"/><circle cx="186.6" cy="213.7" r="1.4"/><circle cx="146.7" cy="201.1" r="1.4"/><circle cx="135.1" cy="212.9" r="1.4"/><circle cx="166.6" cy="220.7" r="1.4"/><circle cx="137.6" cy="197.0" r="1.4"/><circle cx="135.3" cy="212.8" r="1.4"/><circle cx="169.8" cy="207.6" r="1.4"/><circle cx="164.1" cy="206.5" r="1.4"/><circle cx="146.9" cy="201.3" r="1.4"/><circle cx="174.7" cy="184.1" r="1.4"/><circle cx="133.9" cy="216.2" r="1.4"/><circle cx="145.9" cy="188.6" r="1.4"/><circle cx="152.6" cy="200.4" r="1.4"/><circle cx="175.1" cy="209.5" r="1.4"/><circle cx="150.0" cy="218.1" r="1.4"/><circle cx="135.8" cy="192.5" r="1.4"/><circle cx="170.4" cy="219.7" r="1.4"/><circle cx="166.8" cy="206.1" r="1.4"/><circle cx="152.9" cy="188.2" r="1.4"/><circle cx="164.4" cy="188.7" r="1.4"/><circle cx="176.1" cy="192.5" r="1.4"/><circle cx="137.7" cy="210.1" r="1.4"/><circle cx="152.7" cy="197.8" r="1.4"/><circle cx="146.8" cy="216.6" r="1.4"/><circle cx="141.2" cy="195.8" r="1.4"/><circle cx="179.1" cy="179.8" r="1.4"/><circle cx="171.8" cy="190.9" r="1.4"/><circle cx="139.7" cy="197.1" r="1.4"/><circle cx="149.2" cy="198.4" r="1.4"/><circle cx="147.6" cy="209.0" r="1.4"/><circle cx="138.9" cy="205.6" r="1.4"/><circle cx="178.6" cy="189.5" r="1.4"/><circle cx="153.7" cy="178.5" r="1.4"/><circle cx="136.6" cy="208.8" r="1.4"/><circle cx="134.8" cy="209.9" r="1.4"/><circle cx="170.7" cy="217.4" r="1.4"/><circle cx="142.5" cy="205.9" r="1.4"/><circle cx="151.4" cy="191.3" r="1.4"/><circle cx="144.6" cy="187.8" r="1.4"/><circle cx="164.3" cy="212.4" r="1.4"/><circle cx="178.6" cy="195.4" r="1.4"/><circle cx="142.5" cy="220.4" r="1.4"/><circle cx="183.6" cy="208.4" r="1.4"/><circle cx="185.6" cy="211.5" r="1.4"/><circle cx="136.3" cy="189.8" r="1.4"/><circle cx="170.0" cy="205.1" r="1.4"/><circle cx="146.1" cy="218.4" r="1.4"/><circle cx="181.4" cy="195.4" r="1.4"/><circle cx="168.4" cy="213.7" r="1.4"/><circle cx="169.3" cy="186.3" r="1.4"/><circle cx="143.1" cy="217.9" r="1.4"/><circle cx="156.0" cy="213.6" r="1.4"/><circle cx="174.4" cy="200.7" r="1.4"/><circle cx="140.7" cy="213.9" r="1.4"/><circle cx="163.0" cy="198.9" r="1.4"/><circle cx="153.8" cy="204.1" r="1.4"/><circle cx="178.8" cy="213.1" r="1.4"/><circle cx="176.5" cy="183.3" r="1.4"/><circle cx="156.8" cy="205.2" r="1.4"/><circle cx="138.7" cy="201.3" r="1.4"/><circle cx="179.0" cy="189.7" r="1.4"/><circle cx="144.4" cy="215.4" r="1.4"/><circle cx="153.1" cy="214.9" r="1.4"/><circle cx="139.7" cy="218.1" r="1.4"/><circle cx="181.1" cy="218.9" r="1.4"/><circle cx="181.5" cy="211.2" r="1.4"/><circle cx="181.5" cy="207.4" r="1.4"/><circle cx="165.9" cy="200.6" r="1.4"/><circle cx="156.0" cy="184.6" r="1.4"/><circle cx="136.0" cy="207.0" r="1.4"/><circle cx="137.6" cy="205.3" r="1.4"/><circle cx="145.6" cy="214.8" r="1.4"/><circle cx="176.3" cy="201.5" r="1.4"/><circle cx="169.9" cy="212.5" r="1.4"/><circle cx="168.7" cy="206.6" r="1.4"/><circle cx="171.5" cy="216.7" r="1.4"/><circle cx="139.7" cy="188.0" r="1.4"/><circle cx="151.3" cy="191.4" r="1.4"/><circle cx="170.7" cy="193.6" r="1.4"/><circle cx="148.4" cy="220.7" r="1.4"/><circle cx="134.7" cy="217.9" r="1.4"/><circle cx="175.1" cy="198.6" r="1.4"/><circle cx="171.6" cy="215.4" r="1.4"/><circle cx="185.0" cy="203.5" r="1.4"/><circle cx="175.6" cy="212.5" r="1.4"/><circle cx="176.2" cy="212.5" r="1.4"/><circle cx="166.5" cy="187.2" r="1.4"/><circle cx="150.4" cy="220.8" r="1.4"/><circle cx="180.5" cy="213.4" r="1.4"/><circle cx="139.8" cy="195.6" r="1.4"/><circle cx="151.5" cy="183.8" r="1.4"/><circle cx="178.3" cy="194.9" r="1.4"/><circle cx="133.6" cy="210.5" r="1.4"/><circle cx="178.0" cy="206.9" r="1.4"/><circle cx="184.8" cy="211.7" r="1.4"/><circle cx="168.9" cy="189.8" r="1.4"/><circle cx="140.0" cy="185.5" r="1.4"/><circle cx="178.2" cy="212.8" r="1.4"/><circle cx="139.3" cy="194.7" r="1.4"/><circle cx="153.8" cy="190.4" r="1.4"/><circle cx="145.8" cy="203.3" r="1.4"/><circle cx="153.8" cy="203.7" r="1.4"/><circle cx="140.8" cy="206.3" r="1.4"/><circle cx="153.5" cy="187.2" r="1.4"/><circle cx="161.3" cy="217.0" r="1.4"/><circle cx="179.3" cy="203.9" r="1.4"/><circle cx="172.9" cy="200.1" r="1.4"/><circle cx="176.3" cy="193.3" r="1.4"/><circle cx="182.4" cy="193.7" r="1.4"/><circle cx="183.2" cy="189.9" r="1.4"/><circle cx="163.2" cy="195.8" r="1.4"/><circle cx="155.3" cy="188.3" r="1.4"/><circle cx="180.7" cy="198.6" r="1.4"/><circle cx="141.4" cy="183.6" r="1.4"/><circle cx="155.3" cy="188.6" r="1.4"/><circle cx="177.2" cy="215.0" r="1.4"/><circle cx="165.0" cy="218.4" r="1.4"/><circle cx="142.1" cy="215.6" r="1.4"/><circle cx="149.3" cy="186.1" r="1.4"/><circle cx="162.1" cy="218.7" r="1.4"/><circle cx="176.1" cy="210.9" r="1.4"/><circle cx="171.5" cy="191.6" r="1.4"/><circle cx="167.8" cy="202.8" r="1.4"/><circle cx="146.8" cy="220.0" r="1.4"/><circle cx="174.2" cy="194.4" r="1.4"/><circle cx="186.8" cy="216.0" r="1.4"/><circle cx="173.6" cy="199.1" r="1.4"/><circle cx="146.6" cy="203.9" r="1.4"/><circle cx="156.3" cy="218.0" r="1.4"/><circle cx="151.4" cy="218.1" r="1.4"/><circle cx="153.2" cy="199.5" r="1.4"/><circle cx="135.4" cy="203.2" r="1.4"/><circle cx="136.5" cy="193.6" r="1.4"/><circle cx="152.4" cy="208.3" r="1.4"/><circle cx="165.0" cy="187.3" r="1.4"/><circle cx="142.4" cy="201.2" r="1.4"/><circle cx="145.5" cy="217.6" r="1.4"/><circle cx="173.3" cy="191.9" r="1.4"/><circle cx="174.5" cy="211.9" r="1.4"/><circle cx="135.8" cy="196.3" r="1.4"/><circle cx="184.1" cy="209.6" r="1.4"/><circle cx="180.2" cy="203.3" r="1.4"/><circle cx="149.3" cy="197.2" r="1.4"/><circle cx="133.3" cy="192.3" r="1.4"/><circle cx="142.0" cy="194.7" r="1.4"/><circle cx="154.6" cy="194.2" r="1.4"/><circle cx="149.8" cy="195.2" r="1.4"/><circle cx="182.7" cy="214.6" r="1.4"/><circle cx="154.1" cy="189.8" r="1.4"/><circle cx="164.2" cy="211.2" r="1.4"/><circle cx="145.4" cy="193.2" r="1.4"/><circle cx="160.5" cy="217.7" r="1.4"/><circle cx="153.4" cy="210.3" r="1.4"/><circle cx="169.7" cy="198.8" r="1.4"/><circle cx="149.9" cy="215.7" r="1.4"/><circle cx="146.7" cy="217.3" r="1.4"/><circle cx="185.3" cy="203.9" r="1.4"/><circle cx="171.2" cy="209.2" r="1.4"/><circle cx="183.8" cy="212.9" r="1.4"/><circle cx="135.9" cy="202.8" r="1.4"/><circle cx="166.8" cy="202.7" r="1.4"/><circle cx="187.2" cy="195.1" r="1.4"/><circle cx="170.3" cy="194.3" r="1.4"/><circle cx="174.2" cy="183.8" r="1.4"/><circle cx="185.5" cy="185.4" r="1.4"/><circle cx="164.4" cy="215.3" r="1.4"/><circle cx="182.7" cy="195.9" r="1.4"/><circle cx="183.1" cy="207.4" r="1.4"/><circle cx="160.5" cy="214.2" r="1.4"/><circle cx="147.6" cy="191.0" r="1.4"/><circle cx="160.9" cy="216.1" r="1.4"/><circle cx="157.7" cy="211.1" r="1.4"/><circle cx="138.9" cy="198.3" r="1.4"/><circle cx="144.3" cy="204.2" r="1.4"/><circle cx="142.4" cy="210.8" r="1.4"/><circle cx="164.8" cy="182.7" r="1.4"/><circle cx="138.4" cy="214.5" r="1.4"/><circle cx="180.4" cy="212.2" r="1.4"/><circle cx="135.8" cy="192.6" r="1.4"/><circle cx="146.3" cy="197.6" r="1.4"/><circle cx="169.6" cy="202.2" r="1.4"/><circle cx="141.3" cy="201.7" r="1.4"/><circle cx="136.6" cy="187.2" r="1.4"/><circle cx="181.1" cy="192.3" r="1.4"/><circle cx="165.5" cy="194.5" r="1.4"/><circle cx="151.7" cy="194.4" r="1.4"/><circle cx="180.9" cy="213.9" r="1.4"/><circle cx="139.2" cy="181.9" r="1.4"/><circle cx="154.5" cy="190.9" r="1.4"/><circle cx="136.8" cy="216.6" r="1.4"/><circle cx="176.1" cy="196.7" r="1.4"/><circle cx="181.0" cy="211.1" r="1.4"/><circle cx="148.3" cy="200.2" r="1.4"/><circle cx="145.4" cy="187.0" r="1.4"/><circle cx="185.5" cy="202.5" r="1.4"/><circle cx="151.1" cy="216.7" r="1.4"/><circle cx="171.5" cy="216.5" r="1.4"/><circle cx="151.9" cy="202.0" r="1.4"/><circle cx="165.6" cy="208.7" r="1.4"/><circle cx="160.2" cy="221.0" r="1.4"/><circle cx="167.4" cy="195.9" r="1.4"/><circle cx="174.6" cy="217.9" r="1.4"/><circle cx="180.9" cy="195.0" r="1.4"/><circle cx="180.4" cy="196.6" r="1.4"/><circle cx="153.3" cy="219.3" r="1.4"/><circle cx="138.6" cy="204.3" r="1.4"/><circle cx="168.3" cy="214.2" r="1.4"/><circle cx="184.9" cy="188.8" r="1.4"/><circle cx="146.8" cy="216.6" r="1.4"/><circle cx="134.5" cy="202.6" r="1.4"/><circle cx="178.8" cy="188.2" r="1.4"/><circle cx="178.3" cy="212.3" r="1.4"/><circle cx="140.1" cy="196.4" r="1.4"/><circle cx="175.0" cy="214.9" r="1.4"/><circle cx="137.6" cy="217.6" r="1.4"/><circle cx="170.8" cy="187.9" r="1.4"/><circle cx="167.8" cy="190.9" r="1.4"/><circle cx="140.3" cy="192.3" r="1.4"/><circle cx="175.8" cy="216.3" r="1.4"/><circle cx="178.7" cy="199.0" r="1.4"/><circle cx="154.8" cy="218.7" r="1.4"/><circle cx="146.9" cy="184.7" r="1.4"/><circle cx="162.8" cy="199.7" r="1.4"/><circle cx="170.9" cy="189.3" r="1.4"/><circle cx="166.0" cy="213.7" r="1.4"/><circle cx="168.1" cy="206.0" r="1.4"/><circle cx="165.1" cy="184.1" r="1.4"/><circle cx="172.0" cy="205.6" r="1.4"/><circle cx="149.7" cy="193.1" r="1.4"/><circle cx="145.6" cy="199.8" r="1.4"/><circle cx="148.6" cy="190.2" r="1.4"/><circle cx="168.5" cy="212.4" r="1.4"/><circle cx="180.9" cy="212.2" r="1.4"/><circle cx="133.6" cy="193.0" r="1.4"/><circle cx="180.3" cy="189.5" r="1.4"/><circle cx="155.5" cy="182.8" r="1.4"/><circle cx="178.6" cy="215.3" r="1.4"/><circle cx="145.7" cy="203.9" r="1.4"/><circle cx="181.3" cy="214.9" r="1.4"/><circle cx="135.6" cy="191.4" r="1.4"/><circle cx="134.6" cy="216.3" r="1.4"/><circle cx="138.0" cy="178.8" r="1.4"/><circle cx="176.6" cy="218.7" r="1.4"/><circle cx="143.3" cy="206.8" r="1.4"/><circle cx="170.7" cy="203.5" r="1.4"/><circle cx="165.6" cy="212.7" r="1.4"/><circle cx="157.1" cy="208.4" r="1.4"/><circle cx="156.0" cy="219.8" r="1.4"/><circle cx="159.6" cy="218.0" r="1.4"/><circle cx="138.3" cy="210.1" r="1.4"/><circle cx="142.9" cy="217.3" r="1.4"/><circle cx="164.6" cy="214.6" r="1.4"/><circle cx="176.9" cy="188.1" r="1.4"/><circle cx="150.9" cy="212.5" r="1.4"/><circle cx="181.1" cy="207.8" r="1.4"/><circle cx="142.5" cy="216.6" r="1.4"/><circle cx="152.5" cy="212.4" r="1.4"/><circle cx="157.7" cy="208.6" r="1.4"/><circle cx="168.9" cy="220.7" r="1.4"/><circle cx="177.2" cy="195.5" r="1.4"/><circle cx="142.4" cy="197.2" r="1.4"/><circle cx="149.7" cy="210.7" r="1.4"/><circle cx="185.8" cy="188.2" r="1.4"/><circle cx="159.7" cy="221.2" r="1.4"/><circle cx="162.9" cy="204.8" r="1.4"/><circle cx="162.7" cy="203.6" r="1.4"/><circle cx="172.4" cy="208.7" r="1.4"/><circle cx="180.3" cy="213.6" r="1.4"/><circle cx="166.9" cy="199.5" r="1.4"/><circle cx="164.4" cy="212.3" r="1.4"/><circle cx="174.5" cy="217.5" r="1.4"/><circle cx="143.6" cy="192.8" r="1.4"/><circle cx="146.9" cy="215.8" r="1.4"/><circle cx="151.3" cy="192.3" r="1.4"/><circle cx="177.5" cy="189.0" r="1.4"/><circle cx="152.3" cy="182.7" r="1.4"/><circle cx="165.7" cy="208.5" r="1.4"/><circle cx="157.2" cy="210.4" r="1.4"/><circle cx="185.6" cy="200.3" r="1.4"/><circle cx="168.2" cy="217.5" r="1.4"/><circle cx="133.8" cy="201.1" r="1.4"/><circle cx="160.2" cy="213.7" r="1.4"/><circle cx="185.4" cy="198.9" r="1.4"/><circle cx="139.6" cy="218.3" r="1.4"/><circle cx="185.2" cy="187.8" r="1.4"/><circle cx="168.6" cy="210.4" r="1.4"/><circle cx="166.7" cy="186.2" r="1.4"/><circle cx="178.5" cy="211.5" r="1.4"/><circle cx="153.3" cy="193.0" r="1.4"/><circle cx="154.0" cy="217.6" r="1.4"/><circle cx="168.9" cy="205.5" r="1.4"/><circle cx="174.9" cy="192.8" r="1.4"/><circle cx="182.3" cy="205.8" r="1.4"/><circle cx="149.7" cy="187.6" r="1.4"/><circle cx="142.9" cy="213.2" r="1.4"/><circle cx="167.0" cy="185.3" r="1.4"/><circle cx="150.3" cy="192.1" r="1.4"/><circle cx="136.5" cy="183.5" r="1.4"/><circle cx="175.0" cy="204.5" r="1.4"/><circle cx="183.7" cy="216.6" r="1.4"/><circle cx="175.7" cy="192.5" r="1.4"/><circle cx="152.0" cy="213.9" r="1.4"/><circle cx="136.1" cy="196.7" r="1.4"/><circle cx="174.6" cy="216.3" r="1.4"/><circle cx="171.5" cy="184.0" r="1.4"/><circle cx="154.4" cy="211.1" r="1.4"/><circle cx="186.5" cy="215.8" r="1.4"/><circle cx="171.9" cy="183.9" r="1.4"/><circle cx="163.9" cy="197.9" r="1.4"/><circle cx="165.0" cy="190.5" r="1.4"/><circle cx="164.4" cy="213.8" r="1.4"/><circle cx="154.3" cy="217.9" r="1.4"/><circle cx="139.4" cy="201.5" r="1.4"/><circle cx="170.0" cy="188.4" r="1.4"/><circle cx="134.2" cy="190.0" r="1.4"/><circle cx="148.5" cy="196.0" r="1.4"/><circle cx="153.8" cy="188.6" r="1.4"/><circle cx="152.6" cy="217.9" r="1.4"/><circle cx="175.8" cy="206.9" r="1.4"/><circle cx="178.1" cy="196.7" r="1.4"/><circle cx="184.2" cy="206.6" r="1.4"/><circle cx="163.3" cy="217.6" r="1.4"/><circle cx="134.9" cy="209.5" r="1.4"/><circle cx="138.8" cy="208.5" r="1.4"/><circle cx="176.3" cy="215.8" r="1.4"/><circle cx="173.9" cy="189.4" r="1.4"/><circle cx="149.8" cy="191.6" r="1.4"/><circle cx="143.6" cy="203.6" r="1.4"/><circle cx="179.1" cy="183.8" r="1.4"/><circle cx="135.8" cy="218.5" r="1.4"/><circle cx="168.4" cy="218.7" r="1.4"/><circle cx="145.1" cy="190.5" r="1.4"/><circle cx="146.8" cy="206.4" r="1.4"/><circle cx="141.7" cy="213.1" r="1.4"/><circle cx="173.5" cy="206.5" r="1.4"/><circle cx="138.0" cy="215.6" r="1.4"/><circle cx="178.1" cy="192.0" r="1.4"/><circle cx="139.9" cy="189.0" r="1.4"/><circle cx="176.9" cy="211.4" r="1.4"/><circle cx="184.1" cy="204.7" r="1.4"/><circle cx="182.8" cy="206.7" r="1.4"/><circle cx="166.7" cy="206.9" r="1.4"/><circle cx="165.4" cy="188.3" r="1.4"/><circle cx="154.0" cy="182.4" r="1.4"/><circle cx="165.6" cy="190.3" r="1.4"/><circle cx="181.1" cy="215.9" r="1.4"/><circle cx="134.1" cy="212.4" r="1.4"/><circle cx="167.6" cy="206.3" r="1.4"/><circle cx="183.0" cy="186.2" r="1.4"/><circle cx="133.6" cy="216.9" r="1.4"/><circle cx="153.0" cy="202.9" r="1.4"/><circle cx="139.7" cy="186.9" r="1.4"/><circle cx="149.8" cy="189.9" r="1.4"/><circle cx="142.6" cy="186.5" r="1.4"/><circle cx="152.4" cy="191.9" r="1.4"/><circle cx="173.7" cy="192.1" r="1.4"/><circle cx="182.9" cy="207.9" r="1.4"/><circle cx="139.6" cy="190.5" r="1.4"/><circle cx="136.7" cy="202.1" r="1.4"/><circle cx="144.9" cy="205.1" r="1.4"/><circle cx="169.9" cy="190.0" r="1.4"/><circle cx="139.2" cy="218.6" r="1.4"/><circle cx="144.9" cy="217.3" r="1.4"/><circle cx="185.4" cy="187.9" r="1.4"/><circle cx="163.1" cy="208.8" r="1.4"/><circle cx="140.4" cy="193.8" r="1.4"/><circle cx="178.3" cy="194.2" r="1.4"/><circle cx="181.1" cy="196.0" r="1.4"/><circle cx="148.2" cy="215.1" r="1.4"/><circle cx="185.7" cy="195.5" r="1.4"/><circle cx="153.4" cy="203.3" r="1.4"/><circle cx="141.4" cy="220.9" r="1.4"/><circle cx="186.7" cy="201.6" r="1.4"/><circle cx="133.9" cy="209.2" r="1.4"/><circle cx="148.5" cy="195.7" r="1.4"/><circle cx="154.0" cy="214.2" r="1.4"/><circle cx="174.9" cy="219.2" r="1.4"/><circle cx="155.0" cy="217.9" r="1.4"/><circle cx="143.4" cy="220.8" r="1.4"/><circle cx="155.0" cy="220.0" r="1.4"/><circle cx="166.3" cy="190.1" r="1.4"/><circle cx="179.4" cy="200.6" r="1.4"/><circle cx="146.1" cy="209.2" r="1.4"/><circle cx="179.9" cy="204.7" r="1.4"/><circle cx="168.9" cy="213.1" r="1.4"/><circle cx="141.5" cy="215.0" r="1.4"/><circle cx="134.5" cy="202.9" r="1.4"/><circle cx="134.1" cy="200.3" r="1.4"/><circle cx="185.4" cy="213.5" r="1.4"/><circle cx="146.2" cy="220.2" r="1.4"/><circle cx="136.4" cy="214.8" r="1.4"/><circle cx="168.8" cy="187.8" r="1.4"/><circle cx="147.8" cy="179.0" r="1.4"/><circle cx="169.0" cy="212.4" r="1.4"/><circle cx="181.2" cy="199.8" r="1.4"/><circle cx="172.8" cy="214.5" r="1.4"/><circle cx="156.0" cy="217.8" r="1.4"/><circle cx="175.5" cy="200.5" r="1.4"/><circle cx="142.8" cy="205.8" r="1.4"/><circle cx="136.4" cy="187.0" r="1.4"/><circle cx="153.7" cy="198.2" r="1.4"/><circle cx="154.4" cy="179.9" r="1.4"/><circle cx="175.2" cy="204.7" r="1.4"/><circle cx="142.8" cy="219.5" r="1.4"/><circle cx="150.1" cy="213.9" r="1.4"/><circle cx="163.9" cy="199.1" r="1.4"/><circle cx="179.0" cy="219.1" r="1.4"/><circle cx="155.6" cy="194.4" r="1.4"/><circle cx="184.2" cy="191.2" r="1.4"/><circle cx="181.2" cy="205.6" r="1.4"/><circle cx="145.3" cy="200.9" r="1.4"/><circle cx="182.0" cy="201.2" r="1.4"/><circle cx="165.7" cy="209.9" r="1.4"/><circle cx="153.5" cy="219.2" r="1.4"/><circle cx="175.8" cy="189.9" r="1.4"/><circle cx="151.7" cy="189.7" r="1.4"/><circle cx="164.6" cy="182.4" r="1.4"/><circle cx="144.3" cy="203.5" r="1.4"/><circle cx="157.3" cy="204.3" r="1.4"/><circle cx="181.2" cy="185.5" r="1.4"/><circle cx="186.6" cy="193.6" r="1.4"/><circle cx="141.6" cy="194.6" r="1.4"/><circle cx="169.6" cy="200.8" r="1.4"/><circle cx="140.6" cy="203.1" r="1.4"/><circle cx="136.4" cy="213.3" r="1.4"/><circle cx="182.3" cy="216.3" r="1.4"/><circle cx="148.2" cy="186.1" r="1.4"/><circle cx="161.2" cy="213.5" r="1.4"/><circle cx="164.9" cy="207.5" r="1.4"/><circle cx="147.5" cy="200.5" r="1.4"/><circle cx="167.0" cy="200.2" r="1.4"/><circle cx="156.8" cy="201.6" r="1.4"/><circle cx="179.1" cy="211.6" r="1.4"/><circle cx="148.6" cy="205.2" r="1.4"/><circle cx="179.8" cy="186.2" r="1.4"/><circle cx="145.3" cy="188.8" r="1.4"/><circle cx="168.6" cy="198.1" r="1.4"/><circle cx="167.9" cy="190.9" r="1.4"/><circle cx="134.4" cy="206.6" r="1.4"/><circle cx="186.2" cy="200.3" r="1.4"/><circle cx="147.0" cy="190.0" r="1.4"/><circle cx="153.8" cy="185.8" r="1.4"/><circle cx="180.9" cy="207.8" r="1.4"/><circle cx="170.5" cy="212.3" r="1.4"/><circle cx="142.1" cy="202.5" r="1.4"/><circle cx="167.8" cy="203.9" r="1.4"/><circle cx="134.0" cy="203.7" r="1.4"/><circle cx="169.0" cy="219.5" r="1.4"/><circle cx="163.8" cy="204.8" r="1.4"/><circle cx="152.1" cy="208.6" r="1.4"/><circle cx="173.7" cy="195.0" r="1.4"/><circle cx="134.7" cy="215.6" r="1.4"/><circle cx="147.3" cy="218.3" r="1.4"/><circle cx="141.3" cy="198.9" r="1.4"/><circle cx="166.7" cy="217.3" r="1.4"/><circle cx="144.8" cy="190.9" r="1.4"/><circle cx="153.0" cy="184.5" r="1.4"/><circle cx="138.9" cy="186.1" r="1.4"/><circle cx="133.6" cy="210.7" r="1.4"/><circle cx="148.6" cy="211.3" r="1.4"/><circle cx="145.9" cy="218.4" r="1.4"/><circle cx="150.9" cy="201.4" r="1.4"/><circle cx="140.0" cy="187.8" r="1.4"/><circle cx="176.3" cy="202.4" r="1.4"/><circle cx="149.8" cy="214.2" r="1.4"/><circle cx="164.6" cy="215.1" r="1.4"/><circle cx="144.3" cy="211.3" r="1.4"/><circle cx="139.6" cy="210.2" r="1.4"/><circle cx="145.1" cy="212.1" r="1.4"/><circle cx="150.5" cy="211.2" r="1.4"/><circle cx="177.5" cy="183.7" r="1.4"/><circle cx="146.0" cy="209.4" r="1.4"/><circle cx="150.9" cy="207.3" r="1.4"/><circle cx="170.3" cy="200.8" r="1.4"/><circle cx="146.4" cy="206.0" r="1.4"/><circle cx="183.6" cy="209.1" r="1.4"/><circle cx="142.2" cy="219.1" r="1.4"/><circle cx="134.1" cy="193.0" r="1.4"/><circle cx="156.1" cy="192.5" r="1.4"/><circle cx="163.9" cy="199.5" r="1.4"/><circle cx="150.5" cy="204.6" r="1.4"/><circle cx="178.9" cy="213.4" r="1.4"/><circle cx="159.4" cy="215.1" r="1.4"/><circle cx="176.7" cy="208.5" r="1.4"/><circle cx="142.5" cy="206.4" r="1.4"/><circle cx="140.5" cy="203.5" r="1.4"/><circle cx="140.0" cy="187.4" r="1.4"/><circle cx="153.6" cy="211.9" r="1.4"/><circle cx="162.8" cy="219.6" r="1.4"/><circle cx="177.9" cy="204.0" r="1.4"/><circle cx="171.3" cy="209.3" r="1.4"/><circle cx="186.6" cy="208.1" r="1.4"/><circle cx="185.4" cy="186.8" r="1.4"/><circle cx="153.7" cy="199.1" r="1.4"/><circle cx="173.5" cy="206.8" r="1.4"/><circle cx="157.8" cy="220.9" r="1.4"/><circle cx="141.9" cy="219.2" r="1.4"/><circle cx="171.6" cy="182.7" r="1.4"/><circle cx="182.8" cy="194.5" r="1.4"/><circle cx="155.5" cy="212.3" r="1.4"/><circle cx="149.7" cy="204.5" r="1.4"/><circle cx="170.4" cy="186.8" r="1.4"/><circle cx="145.4" cy="189.6" r="1.4"/><circle cx="181.9" cy="182.8" r="1.4"/><circle cx="133.6" cy="212.1" r="1.4"/><circle cx="178.4" cy="216.6" r="1.4"/><circle cx="180.0" cy="182.3" r="1.4"/><circle cx="138.0" cy="201.3" r="1.4"/><circle cx="164.7" cy="215.9" r="1.4"/><circle cx="142.2" cy="208.7" r="1.4"/><circle cx="138.1" cy="204.8" r="1.4"/><circle cx="181.6" cy="192.6" r="1.4"/><circle cx="153.3" cy="218.5" r="1.4"/><circle cx="141.5" cy="217.9" r="1.4"/><circle cx="184.7" cy="187.8" r="1.4"/><circle cx="167.6" cy="187.2" r="1.4"/><circle cx="140.2" cy="207.3" r="1.4"/><circle cx="136.1" cy="189.3" r="1.4"/><circle cx="153.6" cy="180.3" r="1.4"/><circle cx="146.0" cy="215.8" r="1.4"/><circle cx="152.8" cy="200.1" r="1.4"/><circle cx="182.6" cy="216.3" r="1.4"/><circle cx="177.1" cy="206.4" r="1.4"/><circle cx="169.4" cy="187.7" r="1.4"/><circle cx="154.5" cy="219.9" r="1.4"/><circle cx="180.2" cy="202.0" r="1.4"/><circle cx="135.6" cy="213.6" r="1.4"/><circle cx="140.8" cy="218.7" r="1.4"/><circle cx="139.9" cy="203.1" r="1.4"/><circle cx="177.3" cy="206.2" r="1.4"/><circle cx="173.5" cy="196.8" r="1.4"/><circle cx="149.6" cy="207.9" r="1.4"/><circle cx="135.6" cy="196.8" r="1.4"/><circle cx="185.4" cy="205.5" r="1.4"/><circle cx="142.1" cy="206.8" r="1.4"/><circle cx="177.1" cy="187.9" r="1.4"/><circle cx="158.5" cy="214.2" r="1.4"/><circle cx="151.3" cy="220.5" r="1.4"/><circle cx="155.2" cy="221.0" r="1.4"/><circle cx="137.0" cy="206.1" r="1.4"/><circle cx="139.2" cy="199.3" r="1.4"/><circle cx="169.5" cy="213.9" r="1.4"/><circle cx="151.0" cy="189.5" r="1.4"/><circle cx="159.1" cy="220.7" r="1.4"/><circle cx="176.2" cy="190.1" r="1.4"/><circle cx="154.6" cy="193.5" r="1.4"/><circle cx="186.7" cy="191.9" r="1.4"/><circle cx="154.7" cy="208.2" r="1.4"/><circle cx="139.9" cy="200.9" r="1.4"/><circle cx="138.5" cy="197.2" r="1.4"/><circle cx="174.6" cy="190.3" r="1.4"/><circle cx="162.8" cy="208.2" r="1.4"/><circle cx="154.3" cy="218.7" r="1.4"/><circle cx="157.5" cy="218.2" r="1.4"/><circle cx="178.1" cy="199.1" r="1.4"/><circle cx="137.8" cy="203.8" r="1.4"/><circle cx="142.6" cy="208.0" r="1.4"/><circle cx="142.1" cy="207.5" r="1.4"/><circle cx="169.9" cy="220.3" r="1.4"/><circle cx="186.8" cy="209.9" r="1.4"/><circle cx="182.9" cy="201.2" r="1.4"/><circle cx="145.9" cy="210.1" r="1.4"/><circle cx="155.1" cy="201.9" r="1.4"/><circle cx="176.0" cy="216.0" r="1.4"/><circle cx="141.5" cy="197.8" r="1.4"/><circle cx="135.5" cy="200.1" r="1.4"/><circle cx="151.4" cy="192.5" r="1.4"/><circle cx="165.9" cy="204.8" r="1.4"/><circle cx="142.6" cy="204.9" r="1.4"/><circle cx="157.6" cy="200.7" r="1.4"/><circle cx="153.7" cy="183.5" r="1.4"/><circle cx="171.0" cy="195.8" r="1.4"/><circle cx="186.2" cy="200.1" r="1.4"/><circle cx="155.1" cy="197.9" r="1.4"/><circle cx="142.0" cy="206.6" r="1.4"/><circle cx="146.2" cy="193.8" r="1.4"/><circle cx="156.5" cy="219.9" r="1.4"/><circle cx="181.3" cy="201.2" r="1.4"/><circle cx="135.4" cy="210.7" r="1.4"/><circle cx="152.7" cy="183.3" r="1.4"/><circle cx="135.3" cy="192.3" r="1.4"/><circle cx="174.3" cy="195.6" r="1.4"/><circle cx="173.5" cy="217.8" r="1.4"/><circle cx="176.5" cy="205.4" r="1.4"/><circle cx="140.4" cy="219.5" r="1.4"/><circle cx="180.7" cy="200.2" r="1.4"/><circle cx="171.1" cy="198.1" r="1.4"/><circle cx="184.6" cy="216.3" r="1.4"/><circle cx="179.1" cy="216.5" r="1.4"/><circle cx="163.0" cy="215.7" r="1.4"/><circle cx="168.7" cy="217.2" r="1.4"/><circle cx="146.2" cy="214.0" r="1.4"/><circle cx="151.1" cy="209.4" r="1.4"/><circle cx="154.8" cy="214.0" r="1.4"/><circle cx="177.9" cy="189.3" r="1.4"/><circle cx="151.4" cy="184.8" r="1.4"/><circle cx="143.5" cy="211.6" r="1.4"/><circle cx="168.1" cy="192.6" r="1.4"/><circle cx="145.6" cy="217.9" r="1.4"/><circle cx="167.6" cy="216.4" r="1.4"/><circle cx="175.7" cy="184.5" r="1.4"/><circle cx="170.2" cy="206.4" r="1.4"/><circle cx="148.9" cy="197.0" r="1.4"/><circle cx="140.5" cy="188.8" r="1.4"/><circle cx="156.9" cy="210.8" r="1.4"/><circle cx="168.7" cy="212.0" r="1.4"/><circle cx="139.0" cy="198.9" r="1.4"/><circle cx="165.0" cy="203.4" r="1.4"/><circle cx="150.6" cy="196.1" r="1.4"/><circle cx="144.1" cy="209.0" r="1.4"/><circle cx="154.3" cy="197.4" r="1.4"/><circle cx="170.7" cy="200.7" r="1.4"/><circle cx="173.2" cy="204.2" r="1.4"/><circle cx="170.9" cy="195.3" r="1.4"/><circle cx="174.2" cy="199.1" r="1.4"/><circle cx="175.9" cy="220.4" r="1.4"/><circle cx="172.4" cy="213.5" r="1.4"/><circle cx="146.5" cy="218.1" r="1.4"/><circle cx="164.3" cy="200.9" r="1.4"/><circle cx="167.2" cy="202.5" r="1.4"/><circle cx="170.2" cy="210.8" r="1.4"/><circle cx="155.8" cy="197.9" r="1.4"/><circle cx="162.6" cy="209.6" r="1.4"/><circle cx="146.4" cy="192.8" r="1.4"/><circle cx="183.6" cy="212.9" r="1.4"/><circle cx="184.7" cy="195.0" r="1.4"/><circle cx="138.5" cy="204.7" r="1.4"/><circle cx="172.0" cy="209.2" r="1.4"/><circle cx="156.1" cy="214.3" r="1.4"/><circle cx="178.3" cy="195.9" r="1.4"/><circle cx="184.0" cy="187.4" r="1.4"/><circle cx="167.4" cy="211.5" r="1.4"/><circle cx="152.8" cy="206.2" r="1.4"/><circle cx="169.1" cy="210.6" r="1.4"/><circle cx="134.4" cy="190.8" r="1.4"/><circle cx="185.8" cy="188.4" r="1.4"/><circle cx="134.3" cy="212.5" r="1.4"/><circle cx="170.3" cy="201.4" r="1.4"/><circle cx="164.5" cy="202.8" r="1.4"/><circle cx="154.9" cy="186.6" r="1.4"/><circle cx="139.4" cy="194.7" r="1.4"/><circle cx="145.8" cy="198.5" r="1.4"/><circle cx="178.1" cy="189.0" r="1.4"/><circle cx="147.1" cy="214.8" r="1.4"/><circle cx="142.0" cy="201.9" r="1.4"/><circle cx="155.8" cy="184.3" r="1.4"/><circle cx="173.0" cy="203.3" r="1.4"/><circle cx="133.5" cy="212.0" r="1.4"/><circle cx="173.3" cy="196.0" r="1.4"/><circle cx="182.5" cy="216.3" r="1.4"/><circle cx="133.6" cy="183.9" r="1.4"/><circle cx="166.3" cy="208.4" r="1.4"/><circle cx="165.2" cy="219.6" r="1.4"/><circle cx="163.1" cy="196.3" r="1.4"/><circle cx="167.0" cy="211.1" r="1.4"/><circle cx="148.0" cy="200.3" r="1.4"/><circle cx="144.9" cy="217.6" r="1.4"/><circle cx="184.4" cy="215.6" r="1.4"/><circle cx="184.8" cy="200.7" r="1.4"/><circle cx="178.2" cy="211.1" r="1.4"/><circle cx="184.5" cy="217.1" r="1.4"/><circle cx="159.6" cy="219.2" r="1.4"/><circle cx="140.4" cy="220.6" r="1.4"/><circle cx="186.7" cy="215.9" r="1.4"/><circle cx="142.7" cy="204.3" r="1.4"/><circle cx="137.5" cy="214.7" r="1.4"/><circle cx="148.1" cy="211.8" r="1.4"/><circle cx="178.1" cy="203.9" r="1.4"/><circle cx="169.9" cy="219.5" r="1.4"/><circle cx="142.1" cy="219.4" r="1.4"/><circle cx="168.8" cy="206.9" r="1.4"/><circle cx="181.4" cy="209.2" r="1.4"/><circle cx="133.6" cy="190.0" r="1.4"/><circle cx="149.2" cy="186.6" r="1.4"/><circle cx="146.8" cy="218.4" r="1.4"/><circle cx="137.6" cy="190.7" r="1.4"/><circle cx="170.4" cy="216.6" r="1.4"/><circle cx="166.4" cy="198.9" r="1.4"/><circle cx="166.2" cy="215.2" r="1.4"/><circle cx="169.5" cy="215.5" r="1.4"/><circle cx="148.4" cy="182.2" r="1.4"/><circle cx="143.8" cy="187.5" r="1.4"/><circle cx="141.3" cy="216.9" r="1.4"/><circle cx="143.6" cy="197.0" r="1.4"/><circle cx="176.3" cy="220.6" r="1.4"/><circle cx="153.9" cy="195.0" r="1.4"/><circle cx="173.2" cy="200.1" r="1.4"/><circle cx="185.7" cy="207.0" r="1.4"/><circle cx="138.5" cy="192.7" r="1.4"/><circle cx="164.8" cy="217.3" r="1.4"/><circle cx="155.6" cy="186.0" r="1.4"/><circle cx="151.3" cy="185.4" r="1.4"/><circle cx="175.5" cy="221.0" r="1.4"/><circle cx="179.7" cy="213.4" r="1.4"/><circle cx="179.9" cy="201.4" r="1.4"/><circle cx="178.4" cy="206.7" r="1.4"/><circle cx="156.5" cy="212.0" r="1.4"/><circle cx="156.2" cy="189.8" r="1.4"/><circle cx="169.6" cy="209.6" r="1.4"/><circle cx="186.7" cy="200.4" r="1.4"/><circle cx="149.1" cy="185.1" r="1.4"/><circle cx="164.0" cy="217.8" r="1.4"/><circle cx="167.2" cy="207.4" r="1.4"/><circle cx="164.4" cy="213.3" r="1.4"/><circle cx="182.3" cy="200.1" r="1.4"/><circle cx="149.3" cy="188.8" r="1.4"/><circle cx="162.7" cy="218.2" r="1.4"/><circle cx="138.9" cy="205.9" r="1.4"/><circle cx="141.8" cy="207.8" r="1.4"/><circle cx="167.8" cy="196.9" r="1.4"/><circle cx="186.3" cy="208.8" r="1.4"/><circle cx="139.0" cy="194.5" r="1.4"/><circle cx="135.1" cy="215.3" r="1.4"/><circle cx="170.4" cy="180.0" r="1.4"/><circle cx="137.8" cy="208.7" r="1.4"/><circle cx="149.0" cy="214.0" r="1.4"/><circle cx="170.0" cy="190.1" r="1.4"/><circle cx="167.8" cy="199.4" r="1.4"/><circle cx="184.6" cy="216.3" r="1.4"/><circle cx="148.8" cy="210.7" r="1.4"/><circle cx="173.5" cy="199.2" r="1.4"/><circle cx="165.0" cy="205.4" r="1.4"/><circle cx="172.2" cy="202.7" r="1.4"/><circle cx="179.0" cy="191.5" r="1.4"/><circle cx="164.4" cy="220.2" r="1.4"/><circle cx="155.3" cy="216.9" r="1.4"/><circle cx="179.8" cy="189.5" r="1.4"/><circle cx="153.8" cy="204.7" r="1.4"/><circle cx="166.9" cy="210.6" r="1.4"/><circle cx="165.3" cy="185.6" r="1.4"/><circle cx="182.9" cy="205.9" r="1.4"/><circle cx="171.2" cy="206.1" r="1.4"/><circle cx="165.0" cy="212.9" r="1.4"/><circle cx="171.7" cy="205.7" r="1.4"/><circle cx="171.5" cy="199.0" r="1.4"/><circle cx="150.9" cy="199.6" r="1.4"/><circle cx="150.1" cy="214.3" r="1.4"/><circle cx="166.1" cy="214.2" r="1.4"/><circle cx="140.4" cy="193.8" r="1.4"/><circle cx="177.1" cy="214.4" r="1.4"/><circle cx="167.8" cy="182.5" r="1.4"/><circle cx="151.0" cy="196.4" r="1.4"/><circle cx="186.2" cy="212.7" r="1.4"/><circle cx="173.3" cy="190.6" r="1.4"/><circle cx="179.8" cy="197.4" r="1.4"/><circle cx="172.1" cy="201.3" r="1.4"/><circle cx="148.3" cy="208.7" r="1.4"/><circle cx="142.7" cy="194.0" r="1.4"/><circle cx="166.7" cy="209.0" r="1.4"/><circle cx="145.7" cy="220.5" r="1.4"/><circle cx="144.2" cy="193.8" r="1.4"/><circle cx="167.5" cy="217.7" r="1.4"/><circle cx="174.4" cy="206.2" r="1.4"/><circle cx="146.5" cy="207.5" r="1.4"/><circle cx="169.8" cy="199.9" r="1.4"/><circle cx="142.2" cy="204.4" r="1.4"/><circle cx="153.1" cy="210.0" r="1.4"/><circle cx="163.5" cy="216.6" r="1.4"/><circle cx="171.4" cy="187.2" r="1.4"/><circle cx="155.2" cy="210.7" r="1.4"/><circle cx="157.2" cy="203.9" r="1.4"/><circle cx="142.4" cy="205.5" r="1.4"/><circle cx="185.5" cy="214.6" r="1.4"/><circle cx="183.2" cy="192.3" r="1.4"/><circle cx="137.8" cy="202.3" r="1.4"/><circle cx="177.0" cy="187.5" r="1.4"/><circle cx="151.1" cy="192.4" r="1.4"/><circle cx="141.0" cy="211.1" r="1.4"/><circle cx="172.5" cy="215.9" r="1.4"/><circle cx="167.5" cy="188.8" r="1.4"/><circle cx="154.2" cy="190.5" r="1.4"/><circle cx="183.5" cy="213.0" r="1.4"/><circle cx="137.6" cy="210.8" r="1.4"/><circle cx="165.0" cy="189.1" r="1.4"/><circle cx="165.2" cy="196.4" r="1.4"/><circle cx="154.1" cy="189.4" r="1.4"/><circle cx="171.7" cy="207.7" r="1.4"/><circle cx="143.7" cy="201.0" r="1.4"/><circle cx="141.1" cy="205.4" r="1.4"/><circle cx="185.5" cy="212.6" r="1.4"/><circle cx="156.2" cy="197.0" r="1.4"/><circle cx="156.0" cy="194.9" r="1.4"/><circle cx="147.7" cy="184.4" r="1.4"/><circle cx="177.4" cy="198.8" r="1.4"/><circle cx="180.8" cy="216.9" r="1.4"/><circle cx="174.4" cy="215.0" r="1.4"/><circle cx="169.6" cy="217.8" r="1.4"/><circle cx="164.0" cy="186.8" r="1.4"/><circle cx="136.0" cy="202.4" r="1.4"/><circle cx="168.3" cy="206.1" r="1.4"/><circle cx="148.2" cy="195.6" r="1.4"/><circle cx="163.6" cy="198.3" r="1.4"/><circle cx="146.0" cy="217.7" r="1.4"/><circle cx="186.7" cy="183.9" r="1.4"/><circle cx="165.4" cy="215.9" r="1.4"/><circle cx="173.7" cy="191.0" r="1.4"/><circle cx="138.7" cy="205.8" r="1.4"/><circle cx="134.8" cy="202.6" r="1.4"/><circle cx="142.2" cy="187.4" r="1.4"/><circle cx="142.9" cy="183.9" r="1.4"/><circle cx="162.9" cy="216.7" r="1.4"/><circle cx="168.6" cy="190.6" r="1.4"/><circle cx="181.7" cy="196.0" r="1.4"/><circle cx="138.0" cy="195.9" r="1.4"/><circle cx="168.8" cy="187.6" r="1.4"/><circle cx="136.7" cy="195.6" r="1.4"/><circle cx="138.1" cy="218.5" r="1.4"/><circle cx="150.3" cy="187.3" r="1.4"/><circle cx="141.6" cy="213.5" r="1.4"/><circle cx="184.6" cy="202.6" r="1.4"/><circle cx="167.2" cy="187.2" r="1.4"/><circle cx="138.1" cy="192.4" r="1.4"/><circle cx="169.1" cy="205.7" r="1.4"/><circle cx="143.1" cy="189.7" r="1.4"/><circle cx="151.7" cy="190.5" r="1.4"/><circle cx="160.7" cy="219.7" r="1.4"/><circle cx="140.6" cy="210.6" r="1.4"/><circle cx="178.1" cy="197.4" r="1.4"/><circle cx="141.4" cy="213.0" r="1.4"/><circle cx="156.7" cy="192.7" r="1.4"/><circle cx="151.4" cy="194.8" r="1.4"/><circle cx="172.2" cy="192.9" r="1.4"/><circle cx="170.1" cy="206.1" r="1.4"/><circle cx="174.4" cy="189.5" r="1.4"/><circle cx="183.2" cy="201.0" r="1.4"/><circle cx="159.7" cy="216.2" r="1.4"/><circle cx="155.6" cy="213.5" r="1.4"/><circle cx="183.0" cy="202.6" r="1.4"/><circle cx="180.5" cy="219.1" r="1.4"/><circle cx="143.9" cy="190.7" r="1.4"/><circle cx="168.1" cy="216.0" r="1.4"/><circle cx="140.0" cy="190.6" r="1.4"/><circle cx="141.7" cy="186.5" r="1.4"/><circle cx="180.1" cy="219.4" r="1.4"/><circle cx="148.6" cy="204.8" r="1.4"/><circle cx="156.2" cy="211.6" r="1.4"/><circle cx="153.8" cy="196.8" r="1.4"/><circle cx="156.0" cy="192.3" r="1.4"/><circle cx="148.1" cy="200.6" r="1.4"/><circle cx="181.9" cy="197.2" r="1.4"/><circle cx="160.9" cy="220.5" r="1.4"/><circle cx="148.8" cy="216.4" r="1.4"/><circle cx="144.4" cy="202.3" r="1.4"/><circle cx="176.6" cy="207.1" r="1.4"/><circle cx="175.9" cy="198.6" r="1.4"/><circle cx="177.6" cy="191.4" r="1.4"/><circle cx="165.3" cy="185.4" r="1.4"/><circle cx="150.8" cy="209.3" r="1.4"/><circle cx="144.4" cy="184.8" r="1.4"/><circle cx="137.7" cy="214.7" r="1.4"/><circle cx="151.8" cy="212.2" r="1.4"/><circle cx="139.1" cy="220.8" r="1.4"/><circle cx="141.1" cy="200.0" r="1.4"/><circle cx="183.4" cy="202.0" r="1.4"/><circle cx="185.2" cy="213.9" r="1.4"/><circle cx="138.4" cy="203.1" r="1.4"/><circle cx="165.3" cy="186.5" r="1.4"/><circle cx="133.1" cy="216.9" r="1.4"/><circle cx="169.2" cy="200.0" r="1.4"/><circle cx="167.0" cy="214.0" r="1.4"/><circle cx="148.0" cy="194.5" r="1.4"/><circle cx="134.9" cy="209.5" r="1.4"/><circle cx="168.6" cy="198.8" r="1.4"/><circle cx="175.3" cy="220.1" r="1.4"/><circle cx="137.5" cy="189.5" r="1.4"/><circle cx="187.3" cy="202.5" r="1.4"/><circle cx="142.5" cy="212.5" r="1.4"/><circle cx="182.8" cy="206.1" r="1.4"/><circle cx="156.0" cy="213.3" r="1.4"/><circle cx="178.7" cy="196.3" r="1.4"/><circle cx="163.5" cy="212.1" r="1.4"/><circle cx="170.3" cy="216.1" r="1.4"/><circle cx="152.4" cy="220.3" r="1.4"/><circle cx="141.2" cy="215.7" r="1.4"/><circle cx="143.2" cy="204.9" r="1.4"/><circle cx="143.6" cy="216.1" r="1.4"/><circle cx="150.4" cy="209.1" r="1.4"/><circle cx="176.6" cy="182.9" r="1.4"/><circle cx="178.5" cy="201.2" r="1.4"/><circle cx="154.7" cy="215.6" r="1.4"/><circle cx="166.1" cy="186.7" r="1.4"/><circle cx="148.7" cy="187.9" r="1.4"/><circle cx="147.4" cy="207.6" r="1.4"/><circle cx="170.4" cy="218.2" r="1.4"/><circle cx="139.5" cy="192.0" r="1.4"/><circle cx="172.1" cy="199.4" r="1.4"/><circle cx="148.5" cy="200.2" r="1.4"/><circle cx="164.7" cy="190.6" r="1.4"/><circle cx="154.6" cy="181.4" r="1.4"/><circle cx="171.0" cy="183.7" r="1.4"/><circle cx="180.3" cy="216.8" r="1.4"/><circle cx="154.0" cy="186.5" r="1.4"/><circle cx="175.0" cy="196.0" r="1.4"/><circle cx="157.5" cy="207.8" r="1.4"/><circle cx="155.7" cy="204.3" r="1.4"/><circle cx="147.1" cy="190.6" r="1.4"/><circle cx="173.9" cy="217.1" r="1.4"/><circle cx="155.3" cy="199.6" r="1.4"/><circle cx="179.3" cy="189.4" r="1.4"/><circle cx="178.0" cy="186.5" r="1.4"/><circle cx="177.2" cy="203.2" r="1.4"/><circle cx="143.3" cy="199.2" r="1.4"/><circle cx="178.3" cy="214.7" r="1.4"/><circle cx="165.1" cy="218.7" r="1.4"/><circle cx="145.5" cy="191.2" r="1.4"/><circle cx="167.7" cy="214.0" r="1.4"/><circle cx="139.3" cy="200.7" r="1.4"/><circle cx="171.0" cy="201.6" r="1.4"/><circle cx="143.3" cy="203.7" r="1.4"/><circle cx="149.5" cy="201.6" r="1.4"/><circle cx="134.1" cy="193.7" r="1.4"/><circle cx="153.2" cy="187.2" r="1.4"/><circle cx="168.6" cy="198.0" r="1.4"/><circle cx="148.1" cy="219.5" r="1.4"/><circle cx="138.0" cy="216.6" r="1.4"/><circle cx="152.2" cy="220.3" r="1.4"/><circle cx="175.5" cy="209.5" r="1.4"/><circle cx="183.8" cy="197.6" r="1.4"/><circle cx="137.4" cy="207.6" r="1.4"/><circle cx="139.8" cy="216.3" r="1.4"/><circle cx="152.9" cy="212.3" r="1.4"/><circle cx="163.3" cy="217.2" r="1.4"/><circle cx="135.5" cy="212.5" r="1.4"/><circle cx="137.7" cy="210.8" r="1.4"/><circle cx="177.8" cy="211.1" r="1.4"/><circle cx="187.2" cy="200.2" r="1.4"/><circle cx="156.7" cy="219.4" r="1.4"/><circle cx="176.1" cy="211.5" r="1.4"/><circle cx="171.2" cy="221.0" r="1.4"/><circle cx="174.8" cy="189.3" r="1.4"/><circle cx="139.5" cy="182.6" r="1.4"/><circle cx="167.5" cy="209.4" r="1.4"/><circle cx="146.4" cy="181.8" r="1.4"/><circle cx="178.6" cy="207.0" r="1.4"/><circle cx="175.9" cy="201.4" r="1.4"/><circle cx="180.8" cy="196.2" r="1.4"/><circle cx="167.5" cy="182.5" r="1.4"/><circle cx="142.8" cy="213.9" r="1.4"/><circle cx="133.0" cy="193.5" r="1.4"/><circle cx="154.4" cy="215.9" r="1.4"/><circle cx="167.5" cy="198.8" r="1.4"/><circle cx="171.8" cy="215.6" r="1.4"/><circle cx="147.0" cy="220.2" r="1.4"/><circle cx="183.2" cy="218.8" r="1.4"/><circle cx="144.1" cy="209.0" r="1.4"/><circle cx="184.0" cy="202.1" r="1.4"/><circle cx="169.5" cy="197.6" r="1.4"/><circle cx="170.1" cy="205.8" r="1.4"/><circle cx="166.0" cy="212.1" r="1.4"/><circle cx="172.2" cy="208.3" r="1.4"/><circle cx="169.2" cy="183.5" r="1.4"/><circle cx="144.6" cy="196.7" r="1.4"/><circle cx="158.7" cy="215.6" r="1.4"/><circle cx="172.3" cy="190.7" r="1.4"/><circle cx="182.0" cy="204.4" r="1.4"/><circle cx="145.3" cy="192.5" r="1.4"/><circle cx="164.1" cy="185.1" r="1.4"/><circle cx="142.4" cy="202.1" r="1.4"/><circle cx="153.5" cy="202.0" r="1.4"/><circle cx="133.7" cy="211.2" r="1.4"/><circle cx="152.1" cy="211.5" r="1.4"/><circle cx="180.3" cy="207.2" r="1.4"/><circle cx="149.3" cy="214.3" r="1.4"/><circle cx="141.0" cy="218.1" r="1.4"/><circle cx="138.5" cy="208.7" r="1.4"/><circle cx="163.0" cy="208.1" r="1.4"/><circle cx="154.8" cy="190.9" r="1.4"/><circle cx="167.0" cy="192.2" r="1.4"/><circle cx="154.7" cy="204.2" r="1.4"/><circle cx="154.9" cy="209.4" r="1.4"/><circle cx="148.5" cy="200.1" r="1.4"/><circle cx="133.4" cy="205.8" r="1.4"/><circle cx="148.2" cy="217.6" r="1.4"/><circle cx="173.3" cy="205.6" r="1.4"/><circle cx="151.6" cy="182.4" r="1.4"/><circle cx="175.0" cy="189.0" r="1.4"/><circle cx="135.1" cy="212.6" r="1.4"/><circle cx="177.9" cy="188.7" r="1.4"/><circle cx="153.5" cy="212.0" r="1.4"/><circle cx="147.2" cy="194.6" r="1.4"/><circle cx="156.6" cy="189.9" r="1.4"/><circle cx="170.9" cy="202.1" r="1.4"/><circle cx="169.9" cy="217.0" r="1.4"/><circle cx="177.2" cy="207.8" r="1.4"/><circle cx="178.7" cy="212.6" r="1.4"/><circle cx="183.0" cy="194.0" r="1.4"/><circle cx="175.2" cy="213.8" r="1.4"/><circle cx="173.6" cy="192.1" r="1.4"/><circle cx="169.3" cy="212.9" r="1.4"/><circle cx="155.6" cy="186.0" r="1.4"/><circle cx="180.3" cy="215.4" r="1.4"/><circle cx="181.1" cy="198.1" r="1.4"/><circle cx="161.8" cy="220.0" r="1.4"/><circle cx="153.7" cy="207.1" r="1.4"/><circle cx="138.7" cy="209.8" r="1.4"/><circle cx="147.3" cy="188.4" r="1.4"/><circle cx="149.6" cy="217.3" r="1.4"/><circle cx="181.2" cy="195.4" r="1.4"/><circle cx="166.2" cy="206.2" r="1.4"/><circle cx="148.9" cy="204.2" r="1.4"/><circle cx="168.5" cy="215.6" r="1.4"/><circle cx="161.5" cy="212.5" r="1.4"/><circle cx="168.9" cy="187.1" r="1.4"/><circle cx="143.4" cy="216.2" r="1.4"/><circle cx="173.3" cy="209.3" r="1.4"/><circle cx="154.7" cy="197.1" r="1.4"/><circle cx="172.2" cy="188.6" r="1.4"/><circle cx="165.2" cy="184.3" r="1.4"/><circle cx="133.9" cy="201.3" r="1.4"/><circle cx="184.0" cy="186.3" r="1.4"/><circle cx="170.5" cy="215.7" r="1.4"/><circle cx="142.8" cy="196.9" r="1.4"/><circle cx="170.6" cy="207.2" r="1.4"/><circle cx="183.4" cy="209.8" r="1.4"/><circle cx="161.5" cy="215.2" r="1.4"/><circle cx="142.8" cy="186.6" r="1.4"/><circle cx="157.2" cy="203.5" r="1.4"/><circle cx="180.6" cy="204.0" r="1.4"/><circle cx="152.6" cy="204.6" r="1.4"/><circle cx="177.2" cy="197.9" r="1.4"/><circle cx="181.0" cy="192.3" r="1.4"/><circle cx="187.3" cy="214.8" r="1.4"/><circle cx="138.7" cy="187.5" r="1.4"/><circle cx="157.7" cy="203.0" r="1.4"/><circle cx="138.9" cy="217.1" r="1.4"/><circle cx="152.7" cy="209.4" r="1.4"/><circle cx="153.3" cy="205.5" r="1.4"/><circle cx="153.0" cy="209.0" r="1.4"/><circle cx="150.0" cy="200.7" r="1.4"/><circle cx="143.0" cy="192.2" r="1.4"/><circle cx="149.7" cy="205.0" r="1.4"/><circle cx="153.8" cy="183.6" r="1.4"/><circle cx="148.4" cy="199.9" r="1.4"/><circle cx="137.7" cy="187.5" r="1.4"/><circle cx="161.2" cy="218.7" r="1.4"/><circle cx="151.4" cy="191.5" r="1.4"/><circle cx="164.7" cy="204.1" r="1.4"/><circle cx="149.8" cy="211.2" r="1.4"/><circle cx="139.8" cy="219.6" r="1.4"/><circle cx="136.2" cy="202.9" r="1.4"/><circle cx="183.8" cy="197.7" r="1.4"/><circle cx="155.7" cy="191.8" r="1.4"/><circle cx="143.7" cy="214.4" r="1.4"/><circle cx="169.0" cy="194.5" r="1.4"/><circle cx="165.7" cy="184.8" r="1.4"/><circle cx="166.7" cy="189.1" r="1.4"/><circle cx="186.2" cy="195.8" r="1.4"/><circle cx="152.1" cy="208.2" r="1.4"/><circle cx="183.5" cy="202.6" r="1.4"/><circle cx="185.9" cy="196.9" r="1.4"/><circle cx="155.5" cy="209.3" r="1.4"/><circle cx="181.7" cy="212.0" r="1.4"/><circle cx="181.5" cy="211.2" r="1.4"/><circle cx="138.2" cy="184.1" r="1.4"/><circle cx="147.5" cy="214.2" r="1.4"/><circle cx="150.3" cy="210.5" r="1.4"/><circle cx="172.0" cy="211.1" r="1.4"/><circle cx="150.5" cy="206.2" r="1.4"/><circle cx="156.9" cy="201.6" r="1.4"/><circle cx="182.9" cy="215.0" r="1.4"/><circle cx="184.0" cy="190.7" r="1.4"/><circle cx="163.3" cy="202.5" r="1.4"/><circle cx="152.2" cy="199.5" r="1.4"/><circle cx="158.1" cy="220.2" r="1.4"/><circle cx="167.0" cy="199.3" r="1.4"/><circle cx="154.4" cy="216.4" r="1.4"/><circle cx="174.1" cy="207.6" r="1.4"/><circle cx="181.9" cy="200.1" r="1.4"/><circle cx="133.3" cy="206.9" r="1.4"/><circle cx="137.1" cy="189.5" r="1.4"/><circle cx="186.5" cy="212.8" r="1.4"/><circle cx="149.9" cy="212.7" r="1.4"/><circle cx="161.9" cy="212.7" r="1.4"/><circle cx="167.9" cy="215.4" r="1.4"/><circle cx="151.9" cy="200.6" r="1.4"/><circle cx="171.1" cy="214.5" r="1.4"/><circle cx="175.5" cy="205.9" r="1.4"/><circle cx="168.1" cy="216.5" r="1.4"/><circle cx="153.9" cy="211.3" r="1.4"/><circle cx="153.2" cy="190.9" r="1.4"/><circle cx="152.6" cy="191.7" r="1.4"/><circle cx="148.2" cy="204.7" r="1.4"/><circle cx="186.0" cy="206.5" r="1.4"/><circle cx="139.3" cy="218.9" r="1.4"/><circle cx="135.7" cy="203.3" r="1.4"/><circle cx="148.8" cy="183.0" r="1.4"/><circle cx="139.5" cy="208.8" r="1.4"/><circle cx="152.8" cy="210.9" r="1.4"/><circle cx="145.3" cy="215.1" r="1.4"/><circle cx="148.9" cy="213.5" r="1.4"/><circle cx="154.8" cy="218.1" r="1.4"/><circle cx="184.7" cy="193.4" r="1.4"/><circle cx="147.3" cy="214.5" r="1.4"/><circle cx="174.4" cy="190.6" r="1.4"/><circle cx="167.7" cy="193.5" r="1.4"/><circle cx="147.9" cy="205.4" r="1.4"/><circle cx="183.5" cy="197.2" r="1.4"/><circle cx="154.4" cy="193.2" r="1.4"/><circle cx="183.9" cy="188.0" r="1.4"/><circle cx="172.8" cy="214.4" r="1.4"/><circle cx="156.9" cy="201.3" r="1.4"/><circle cx="146.5" cy="190.8" r="1.4"/><circle cx="145.3" cy="205.9" r="1.4"/><circle cx="147.9" cy="200.0" r="1.4"/><circle cx="176.1" cy="199.9" r="1.4"/><circle cx="172.8" cy="197.0" r="1.4"/><circle cx="147.5" cy="195.4" r="1.4"/><circle cx="171.9" cy="203.9" r="1.4"/><circle cx="167.0" cy="202.4" r="1.4"/><circle cx="151.8" cy="218.6" r="1.4"/><circle cx="151.1" cy="190.3" r="1.4"/><circle cx="142.1" cy="220.0" r="1.4"/><circle cx="151.1" cy="190.3" r="1.4"/><circle cx="182.0" cy="197.8" r="1.4"/><circle cx="178.6" cy="215.9" r="1.4"/><circle cx="146.0" cy="193.8" r="1.4"/><circle cx="181.1" cy="193.8" r="1.4"/><circle cx="164.7" cy="193.6" r="1.4"/><circle cx="158.5" cy="211.2" r="1.4"/><circle cx="143.6" cy="200.3" r="1.4"/><circle cx="146.9" cy="190.4" r="1.4"/><circle cx="160.5" cy="221.0" r="1.4"/><circle cx="160.8" cy="215.5" r="1.4"/><circle cx="157.2" cy="209.4" r="1.4"/><circle cx="179.2" cy="203.7" r="1.4"/><circle cx="141.9" cy="215.8" r="1.4"/><circle cx="142.5" cy="214.7" r="1.4"/><circle cx="183.7" cy="195.2" r="1.4"/><circle cx="164.8" cy="196.7" r="1.4"/><circle cx="166.5" cy="202.1" r="1.4"/><circle cx="156.2" cy="214.9" r="1.4"/><circle cx="151.9" cy="195.5" r="1.4"/><circle cx="161.9" cy="216.3" r="1.4"/><circle cx="177.9" cy="210.9" r="1.4"/><circle cx="135.2" cy="204.7" r="1.4"/><circle cx="184.2" cy="209.4" r="1.4"/><circle cx="143.2" cy="205.6" r="1.4"/><circle cx="178.0" cy="191.1" r="1.4"/><circle cx="140.0" cy="215.6" r="1.4"/><circle cx="168.3" cy="192.8" r="1.4"/><circle cx="165.9" cy="205.6" r="1.4"/><circle cx="163.1" cy="210.3" r="1.4"/><circle cx="178.1" cy="215.5" r="1.4"/><circle cx="139.9" cy="199.5" r="1.4"/><circle cx="144.8" cy="220.4" r="1.4"/><circle cx="182.6" cy="212.5" r="1.4"/><circle cx="184.6" cy="205.8" r="1.4"/><circle cx="169.4" cy="200.7" r="1.4"/><circle cx="138.1" cy="199.7" r="1.4"/><circle cx="184.3" cy="195.6" r="1.4"/><circle cx="170.5" cy="191.6" r="1.4"/><circle cx="168.4" cy="215.8" r="1.4"/><circle cx="163.4" cy="211.6" r="1.4"/><circle cx="177.8" cy="217.7" r="1.4"/><circle cx="178.3" cy="196.2" r="1.4"/><circle cx="179.8" cy="217.1" r="1.4"/><circle cx="178.6" cy="200.7" r="1.4"/><circle cx="144.9" cy="209.2" r="1.4"/><circle cx="144.0" cy="221.1" r="1.4"/><circle cx="170.9" cy="189.6" r="1.4"/><circle cx="162.9" cy="219.9" r="1.4"/><circle cx="185.7" cy="195.9" r="1.4"/><circle cx="135.9" cy="201.8" r="1.4"/><circle cx="180.2" cy="203.1" r="1.4"/><circle cx="157.3" cy="214.7" r="1.4"/><circle cx="140.1" cy="202.6" r="1.4"/><circle cx="150.7" cy="199.9" r="1.4"/><circle cx="185.3" cy="217.5" r="1.4"/><circle cx="174.9" cy="210.8" r="1.4"/><circle cx="178.6" cy="212.7" r="1.4"/><circle cx="147.0" cy="211.4" r="1.4"/><circle cx="133.1" cy="207.2" r="1.4"/><circle cx="144.8" cy="189.7" r="1.4"/><circle cx="167.0" cy="220.4" r="1.4"/><circle cx="185.2" cy="201.3" r="1.4"/><circle cx="153.0" cy="217.9" r="1.4"/><circle cx="147.7" cy="199.6" r="1.4"/><circle cx="143.9" cy="190.3" r="1.4"/><circle cx="173.6" cy="207.5" r="1.4"/><circle cx="177.4" cy="221.1" r="1.4"/><circle cx="177.8" cy="207.2" r="1.4"/><circle cx="166.8" cy="193.0" r="1.4"/><circle cx="134.7" cy="217.2" r="1.4"/><circle cx="155.4" cy="197.6" r="1.4"/><circle cx="148.3" cy="191.4" r="1.4"/><circle cx="170.7" cy="186.3" r="1.4"/><circle cx="163.5" cy="202.3" r="1.4"/><circle cx="148.4" cy="189.6" r="1.4"/><circle cx="163.8" cy="204.8" r="1.4"/><circle cx="162.9" cy="215.0" r="1.4"/><circle cx="165.5" cy="208.2" r="1.4"/><circle cx="185.4" cy="215.9" r="1.4"/><circle cx="164.3" cy="216.6" r="1.4"/><circle cx="166.1" cy="201.4" r="1.4"/><circle cx="152.8" cy="207.8" r="1.4"/><circle cx="160.0" cy="214.0" r="1.4"/><circle cx="145.7" cy="207.8" r="1.4"/><circle cx="165.6" cy="187.2" r="1.4"/><circle cx="148.3" cy="214.6" r="1.4"/><circle cx="149.5" cy="208.1" r="1.4"/><circle cx="175.6" cy="212.3" r="1.4"/><circle cx="141.8" cy="210.3" r="1.4"/><circle cx="145.5" cy="200.3" r="1.4"/><circle cx="170.2" cy="203.4" r="1.4"/><circle cx="179.6" cy="193.4" r="1.4"/><circle cx="156.5" cy="219.3" r="1.4"/><circle cx="158.4" cy="220.1" r="1.4"/><circle cx="186.5" cy="203.4" r="1.4"/><circle cx="165.0" cy="179.5" r="1.4"/><circle cx="152.8" cy="180.1" r="1.4"/><circle cx="145.4" cy="182.8" r="1.4"/><circle cx="171.0" cy="200.4" r="1.4"/><circle cx="149.8" cy="186.4" r="1.4"/><circle cx="140.3" cy="213.0" r="1.4"/><circle cx="175.2" cy="218.3" r="1.4"/><circle cx="181.9" cy="188.4" r="1.4"/><circle cx="172.5" cy="201.0" r="1.4"/><circle cx="182.5" cy="198.7" r="1.4"/><circle cx="165.3" cy="216.3" r="1.4"/><circle cx="181.7" cy="206.0" r="1.4"/><circle cx="173.5" cy="200.1" r="1.4"/><circle cx="181.3" cy="209.8" r="1.4"/><circle cx="176.9" cy="202.7" r="1.4"/><circle cx="172.7" cy="190.4" r="1.4"/><circle cx="165.5" cy="187.1" r="1.4"/><circle cx="148.0" cy="189.0" r="1.4"/><circle cx="146.5" cy="214.8" r="1.4"/><circle cx="176.3" cy="200.4" r="1.4"/><circle cx="146.6" cy="220.2" r="1.4"/><circle cx="180.7" cy="207.4" r="1.4"/><circle cx="166.9" cy="214.2" r="1.4"/><circle cx="156.0" cy="186.8" r="1.4"/><circle cx="182.7" cy="217.7" r="1.4"/><circle cx="170.5" cy="215.9" r="1.4"/><circle cx="163.3" cy="206.8" r="1.4"/><circle cx="137.2" cy="188.4" r="1.4"/><circle cx="180.9" cy="200.1" r="1.4"/><circle cx="139.2" cy="217.8" r="1.4"/><circle cx="168.2" cy="205.4" r="1.4"/><circle cx="170.2" cy="216.5" r="1.4"/><circle cx="183.3" cy="203.1" r="1.4"/><circle cx="183.1" cy="196.4" r="1.4"/><circle cx="172.3" cy="188.9" r="1.4"/><circle cx="141.3" cy="216.0" r="1.4"/><circle cx="150.5" cy="209.3" r="1.4"/><circle cx="187.2" cy="213.0" r="1.4"/><circle cx="167.7" cy="196.3" r="1.4"/><circle cx="183.5" cy="211.5" r="1.4"/><circle cx="141.9" cy="211.9" r="1.4"/><circle cx="165.5" cy="196.2" r="1.4"/><circle cx="142.8" cy="199.9" r="1.4"/><circle cx="171.4" cy="196.8" r="1.4"/><circle cx="183.4" cy="190.1" r="1.4"/><circle cx="133.8" cy="215.4" r="1.4"/><circle cx="151.0" cy="198.7" r="1.4"/><circle cx="137.5" cy="210.2" r="1.4"/><circle cx="186.4" cy="205.7" r="1.4"/><circle cx="149.6" cy="216.7" r="1.4"/><circle cx="146.9" cy="209.4" r="1.4"/><circle cx="144.1" cy="192.0" r="1.4"/><circle cx="181.1" cy="207.9" r="1.4"/><circle cx="148.4" cy="209.4" r="1.4"/><circle cx="141.5" cy="220.9" r="1.4"/><circle cx="141.0" cy="216.3" r="1.4"/><circle cx="156.3" cy="208.5" r="1.4"/><circle cx="154.0" cy="212.1" r="1.4"/><circle cx="171.3" cy="199.4" r="1.4"/><circle cx="167.3" cy="191.0" r="1.4"/><circle cx="149.6" cy="203.7" r="1.4"/><circle cx="169.7" cy="188.6" r="1.4"/><circle cx="134.0" cy="213.1" r="1.4"/><circle cx="155.1" cy="188.0" r="1.4"/><circle cx="153.7" cy="188.5" r="1.4"/><circle cx="150.4" cy="190.4" r="1.4"/><circle cx="170.4" cy="203.2" r="1.4"/><circle cx="173.1" cy="197.3" r="1.4"/><circle cx="174.9" cy="202.9" r="1.4"/><circle cx="133.6" cy="217.5" r="1.4"/><circle cx="146.3" cy="215.5" r="1.4"/><circle cx="164.5" cy="220.3" r="1.4"/><circle cx="133.6" cy="207.5" r="1.4"/><circle cx="178.6" cy="188.3" r="1.4"/><circle cx="156.5" cy="213.3" r="1.4"/><circle cx="142.4" cy="194.0" r="1.4"/><circle cx="158.5" cy="213.7" r="1.4"/><circle cx="181.0" cy="187.9" r="1.4"/><circle cx="145.7" cy="194.2" r="1.4"/><circle cx="185.2" cy="212.6" r="1.4"/><circle cx="146.7" cy="200.8" r="1.4"/><circle cx="157.5" cy="220.9" r="1.4"/><circle cx="177.7" cy="212.9" r="1.4"/><circle cx="180.3" cy="194.0" r="1.4"/><circle cx="139.0" cy="214.7" r="1.4"/><circle cx="153.3" cy="220.6" r="1.4"/><circle cx="156.8" cy="208.3" r="1.4"/><circle cx="148.9" cy="185.2" r="1.4"/><circle cx="173.1" cy="191.6" r="1.4"/><circle cx="133.7" cy="205.7" r="1.4"/><circle cx="157.5" cy="210.2" r="1.4"/><circle cx="155.8" cy="214.4" r="1.4"/><circle cx="156.5" cy="190.8" r="1.4"/><circle cx="186.2" cy="214.7" r="1.4"/><circle cx="170.2" cy="191.7" r="1.4"/><circle cx="153.8" cy="197.4" r="1.4"/><circle cx="151.2" cy="200.0" r="1.4"/><circle cx="183.8" cy="215.2" r="1.4"/><circle cx="144.0" cy="219.8" r="1.4"/><circle cx="172.2" cy="204.1" r="1.4"/><circle cx="177.9" cy="198.7" r="1.4"/><circle cx="138.5" cy="216.6" r="1.4"/><circle cx="155.0" cy="190.2" r="1.4"/><circle cx="180.4" cy="218.1" r="1.4"/><circle cx="166.3" cy="201.0" r="1.4"/><circle cx="140.5" cy="211.4" r="1.4"/><circle cx="132.9" cy="195.4" r="1.4"/><circle cx="155.8" cy="201.4" r="1.4"/><circle cx="161.6" cy="219.7" r="1.4"/><circle cx="137.0" cy="209.7" r="1.4"/><circle cx="167.2" cy="183.3" r="1.4"/><circle cx="164.1" cy="211.5" r="1.4"/><circle cx="147.8" cy="202.4" r="1.4"/><circle cx="149.6" cy="218.8" r="1.4"/><circle cx="157.1" cy="199.3" r="1.4"/><circle cx="171.7" cy="195.6" r="1.4"/><circle cx="142.5" cy="191.2" r="1.4"/><circle cx="168.6" cy="199.4" r="1.4"/><circle cx="185.3" cy="214.4" r="1.4"/><circle cx="153.3" cy="213.5" r="1.4"/><circle cx="139.0" cy="207.4" r="1.4"/><circle cx="173.6" cy="208.9" r="1.4"/><circle cx="144.9" cy="186.2" r="1.4"/><circle cx="153.5" cy="201.6" r="1.4"/><circle cx="165.8" cy="216.1" r="1.4"/><circle cx="168.7" cy="196.1" r="1.4"/><circle cx="166.7" cy="217.5" r="1.4"/><circle cx="173.7" cy="186.0" r="1.4"/><circle cx="179.2" cy="212.4" r="1.4"/><circle cx="133.6" cy="209.5" r="1.4"/><circle cx="176.8" cy="216.7" r="1.4"/><circle cx="138.8" cy="190.0" r="1.4"/><circle cx="171.8" cy="194.3" r="1.4"/><circle cx="185.5" cy="191.5" r="1.4"/><circle cx="174.9" cy="191.1" r="1.4"/><circle cx="148.3" cy="219.9" r="1.4"/><circle cx="149.3" cy="218.9" r="1.4"/><circle cx="147.9" cy="190.8" r="1.4"/><circle cx="157.0" cy="216.7" r="1.4"/><circle cx="157.7" cy="220.5" r="1.4"/><circle cx="151.1" cy="194.7" r="1.4"/><circle cx="150.5" cy="214.1" r="1.4"/><circle cx="171.0" cy="195.4" r="1.4"/><circle cx="173.3" cy="195.3" r="1.4"/><circle cx="133.4" cy="201.7" r="1.4"/><circle cx="155.1" cy="221.1" r="1.4"/><circle cx="175.0" cy="205.9" r="1.4"/><circle cx="177.3" cy="191.5" r="1.4"/><circle cx="146.8" cy="220.1" r="1.4"/><circle cx="149.6" cy="188.1" r="1.4"/><circle cx="137.4" cy="190.4" r="1.4"/><circle cx="175.7" cy="213.8" r="1.4"/><circle cx="172.8" cy="213.1" r="1.4"/><circle cx="176.8" cy="220.7" r="1.4"/><circle cx="148.6" cy="190.0" r="1.4"/><circle cx="176.6" cy="208.8" r="1.4"/><circle cx="146.1" cy="190.2" r="1.4"/><circle cx="169.1" cy="181.5" r="1.4"/><circle cx="133.3" cy="196.7" r="1.4"/><circle cx="175.7" cy="187.9" r="1.4"/><circle cx="136.2" cy="210.6" r="1.4"/><circle cx="172.0" cy="183.2" r="1.4"/><circle cx="167.3" cy="217.9" r="1.4"/><circle cx="136.2" cy="198.3" r="1.4"/><circle cx="164.6" cy="212.8" r="1.4"/><circle cx="171.4" cy="212.9" r="1.4"/><circle cx="176.9" cy="216.6" r="1.4"/><circle cx="186.4" cy="208.7" r="1.4"/><circle cx="145.9" cy="213.6" r="1.4"/><circle cx="156.0" cy="216.2" r="1.4"/><circle cx="152.8" cy="182.8" r="1.4"/><circle cx="169.0" cy="199.1" r="1.4"/><circle cx="145.8" cy="212.2" r="1.4"/><circle cx="162.7" cy="216.6" r="1.4"/><circle cx="169.0" cy="216.6" r="1.4"/><circle cx="145.3" cy="190.7" r="1.4"/><circle cx="143.7" cy="199.7" r="1.4"/><circle cx="148.6" cy="205.9" r="1.4"/><circle cx="168.7" cy="216.7" r="1.4"/><circle cx="137.1" cy="217.9" r="1.4"/><circle cx="136.7" cy="209.8" r="1.4"/><circle cx="187.0" cy="187.2" r="1.4"/><circle cx="138.6" cy="197.1" r="1.4"/><circle cx="149.7" cy="204.8" r="1.4"/><circle cx="163.7" cy="214.5" r="1.4"/><circle cx="147.5" cy="213.1" r="1.4"/><circle cx="171.0" cy="201.7" r="1.4"/><circle cx="155.7" cy="190.9" r="1.4"/><circle cx="137.3" cy="194.0" r="1.4"/><circle cx="177.7" cy="217.4" r="1.4"/><circle cx="146.7" cy="205.2" r="1.4"/><circle cx="145.8" cy="210.6" r="1.4"/><circle cx="181.0" cy="217.9" r="1.4"/><circle cx="155.4" cy="181.6" r="1.4"/><circle cx="154.5" cy="200.8" r="1.4"/><circle cx="164.7" cy="210.4" r="1.4"/><circle cx="162.8" cy="207.5" r="1.4"/><circle cx="156.3" cy="203.8" r="1.4"/><circle cx="179.5" cy="216.1" r="1.4"/><circle cx="180.1" cy="207.9" r="1.4"/><circle cx="165.1" cy="181.6" r="1.4"/><circle cx="149.4" cy="184.2" r="1.4"/><circle cx="143.5" cy="197.7" r="1.4"/><circle cx="148.4" cy="189.9" r="1.4"/><circle cx="170.0" cy="192.7" r="1.4"/><circle cx="175.1" cy="211.2" r="1.4"/><circle cx="140.4" cy="189.7" r="1.4"/><circle cx="138.3" cy="197.9" r="1.4"/><circle cx="154.4" cy="184.8" r="1.4"/><circle cx="134.9" cy="192.5" r="1.4"/><circle cx="139.2" cy="194.3" r="1.4"/><circle cx="152.6" cy="191.5" r="1.4"/><circle cx="135.6" cy="194.0" r="1.4"/><circle cx="176.1" cy="218.4" r="1.4"/><circle cx="143.4" cy="200.2" r="1.4"/><circle cx="177.0" cy="185.2" r="1.4"/><circle cx="151.3" cy="212.4" r="1.4"/><circle cx="141.1" cy="210.9" r="1.4"/><circle cx="178.5" cy="205.1" r="1.4"/><circle cx="176.3" cy="216.4" r="1.4"/><circle cx="159.9" cy="217.6" r="1.4"/><circle cx="148.8" cy="192.5" r="1.4"/><circle cx="185.4" cy="217.6" r="1.4"/><circle cx="144.5" cy="191.0" r="1.4"/><circle cx="168.9" cy="218.6" r="1.4"/><circle cx="171.4" cy="219.6" r="1.4"/><circle cx="180.3" cy="219.1" r="1.4"/><circle cx="169.6" cy="209.8" r="1.4"/><circle cx="153.3" cy="184.5" r="1.4"/><circle cx="156.9" cy="208.1" r="1.4"/><circle cx="164.9" cy="209.7" r="1.4"/><circle cx="161.9" cy="211.3" r="1.4"/><circle cx="138.4" cy="210.3" r="1.4"/><circle cx="175.0" cy="206.7" r="1.4"/><circle cx="166.9" cy="183.5" r="1.4"/><circle cx="149.8" cy="211.1" r="1.4"/><circle cx="187.2" cy="212.4" r="1.4"/><circle cx="167.7" cy="213.5" r="1.4"/><circle cx="177.6" cy="212.2" r="1.4"/><circle cx="178.2" cy="198.6" r="1.4"/><circle cx="178.5" cy="190.9" r="1.4"/><circle cx="151.6" cy="200.7" r="1.4"/><circle cx="177.2" cy="203.9" r="1.4"/><circle cx="161.6" cy="221.1" r="1.4"/><circle cx="147.5" cy="217.0" r="1.4"/><circle cx="151.9" cy="200.7" r="1.4"/><circle cx="156.1" cy="215.1" r="1.4"/><circle cx="180.6" cy="213.6" r="1.4"/><circle cx="163.3" cy="197.9" r="1.4"/><circle cx="171.4" cy="190.2" r="1.4"/><circle cx="176.4" cy="188.6" r="1.4"/><circle cx="185.9" cy="202.5" r="1.4"/><circle cx="173.1" cy="220.3" r="1.4"/><circle cx="165.5" cy="187.1" r="1.4"/><circle cx="172.0" cy="205.4" r="1.4"/><circle cx="139.5" cy="199.2" r="1.4"/><circle cx="173.2" cy="194.4" r="1.4"/><circle cx="167.1" cy="197.8" r="1.4"/><circle cx="184.0" cy="194.2" r="1.4"/><circle cx="135.6" cy="206.2" r="1.4"/><circle cx="136.9" cy="201.4" r="1.4"/><circle cx="143.6" cy="199.2" r="1.4"/><circle cx="134.0" cy="182.3" r="1.4"/><circle cx="185.2" cy="194.4" r="1.4"/><circle cx="178.7" cy="192.7" r="1.4"/><circle cx="148.4" cy="192.2" r="1.4"/><circle cx="167.3" cy="200.6" r="1.4"/><circle cx="166.6" cy="212.2" r="1.4"/><circle cx="171.4" cy="181.4" r="1.4"/><circle cx="166.5" cy="212.6" r="1.4"/><circle cx="173.1" cy="194.9" r="1.4"/><circle cx="145.1" cy="209.6" r="1.4"/><circle cx="148.5" cy="220.3" r="1.4"/><circle cx="136.4" cy="207.8" r="1.4"/><circle cx="153.2" cy="194.0" r="1.4"/><circle cx="173.9" cy="202.1" r="1.4"/><circle cx="141.8" cy="197.3" r="1.4"/><circle cx="152.3" cy="208.6" r="1.4"/><circle cx="136.6" cy="207.6" r="1.4"/><circle cx="141.9" cy="210.4" r="1.4"/><circle cx="169.2" cy="201.9" r="1.4"/><circle cx="182.7" cy="201.7" r="1.4"/><circle cx="147.4" cy="187.8" r="1.4"/><circle cx="170.4" cy="188.9" r="1.4"/><circle cx="180.8" cy="207.5" r="1.4"/><circle cx="184.8" cy="209.3" r="1.4"/><circle cx="169.3" cy="198.9" r="1.4"/><circle cx="135.1" cy="209.9" r="1.4"/><circle cx="185.1" cy="207.9" r="1.4"/><circle cx="151.6" cy="184.4" r="1.4"/><circle cx="186.9" cy="212.4" r="1.4"/><circle cx="169.5" cy="194.1" r="1.4"/><circle cx="141.4" cy="219.7" r="1.4"/><circle cx="137.3" cy="209.6" r="1.4"/><circle cx="137.3" cy="217.0" r="1.4"/><circle cx="171.2" cy="188.1" r="1.4"/><circle cx="142.7" cy="210.6" r="1.4"/><circle cx="157.3" cy="219.3" r="1.4"/><circle cx="180.0" cy="204.4" r="1.4"/><circle cx="186.0" cy="213.2" r="1.4"/><circle cx="133.3" cy="196.2" r="1.4"/><circle cx="134.3" cy="195.1" r="1.4"/><circle cx="166.3" cy="186.1" r="1.4"/><circle cx="155.4" cy="205.1" r="1.4"/><circle cx="167.6" cy="218.9" r="1.4"/><circle cx="142.9" cy="189.7" r="1.4"/><circle cx="148.5" cy="199.7" r="1.4"/><circle cx="162.3" cy="209.1" r="1.4"/><circle cx="141.1" cy="192.5" r="1.4"/><circle cx="183.6" cy="195.9" r="1.4"/><circle cx="146.6" cy="194.3" r="1.4"/><circle cx="160.1" cy="216.5" r="1.4"/><circle cx="177.6" cy="187.1" r="1.4"/><circle cx="169.1" cy="204.5" r="1.4"/><circle cx="140.2" cy="192.3" r="1.4"/><circle cx="146.9" cy="202.1" r="1.4"/><circle cx="151.9" cy="209.6" r="1.4"/><circle cx="152.5" cy="215.7" r="1.4"/><circle cx="162.1" cy="215.4" r="1.4"/><circle cx="145.3" cy="194.9" r="1.4"/><circle cx="178.1" cy="203.5" r="1.4"/><circle cx="173.8" cy="202.1" r="1.4"/><circle cx="182.7" cy="211.9" r="1.4"/><circle cx="174.5" cy="197.5" r="1.4"/><circle cx="172.5" cy="184.8" r="1.4"/><circle cx="175.3" cy="209.6" r="1.4"/><circle cx="169.1" cy="195.9" r="1.4"/><circle cx="156.0" cy="218.8" r="1.4"/><circle cx="139.1" cy="195.3" r="1.4"/><circle cx="167.5" cy="184.9" r="1.4"/><circle cx="136.4" cy="204.1" r="1.4"/><circle cx="138.9" cy="210.2" r="1.4"/><circle cx="150.7" cy="213.2" r="1.4"/><circle cx="143.5" cy="206.7" r="1.4"/><circle cx="143.5" cy="188.6" r="1.4"/><circle cx="175.1" cy="211.3" r="1.4"/><circle cx="136.3" cy="212.2" r="1.4"/><circle cx="183.0" cy="201.6" r="1.4"/><circle cx="177.9" cy="185.1" r="1.4"/><circle cx="182.4" cy="206.7" r="1.4"/><circle cx="168.2" cy="210.7" r="1.4"/><circle cx="170.9" cy="183.5" r="1.4"/><circle cx="172.2" cy="219.0" r="1.4"/><circle cx="162.7" cy="208.5" r="1.4"/><circle cx="180.0" cy="204.2" r="1.4"/><circle cx="173.9" cy="207.6" r="1.4"/><circle cx="171.4" cy="206.3" r="1.4"/><circle cx="151.2" cy="190.3" r="1.4"/><circle cx="185.6" cy="205.1" r="1.4"/><circle cx="164.4" cy="204.2" r="1.4"/><circle cx="144.9" cy="199.1" r="1.4"/><circle cx="173.1" cy="206.9" r="1.4"/><circle cx="169.2" cy="213.3" r="1.4"/><circle cx="155.5" cy="184.0" r="1.4"/><circle cx="183.5" cy="206.3" r="1.4"/><circle cx="170.0" cy="215.0" r="1.4"/><circle cx="142.0" cy="195.8" r="1.4"/><circle cx="153.5" cy="219.3" r="1.4"/><circle cx="149.4" cy="214.5" r="1.4"/><circle cx="187.0" cy="201.4" r="1.4"/><circle cx="179.8" cy="197.5" r="1.4"/><circle cx="148.2" cy="197.3" r="1.4"/><circle cx="149.2" cy="190.8" r="1.4"/><circle cx="165.5" cy="198.7" r="1.4"/><circle cx="149.4" cy="189.0" r="1.4"/><circle cx="148.1" cy="208.2" r="1.4"/><circle cx="174.9" cy="205.9" r="1.4"/><circle cx="157.6" cy="219.6" r="1.4"/><circle cx="133.5" cy="196.6" r="1.4"/><circle cx="170.3" cy="195.5" r="1.4"/><circle cx="170.6" cy="220.2" r="1.4"/><circle cx="134.6" cy="205.5" r="1.4"/><circle cx="147.6" cy="187.1" r="1.4"/><circle cx="159.9" cy="213.9" r="1.4"/><circle cx="137.1" cy="204.6" r="1.4"/><circle cx="154.9" cy="196.2" r="1.4"/><circle cx="172.0" cy="195.9" r="1.4"/><circle cx="133.3" cy="198.1" r="1.4"/><circle cx="134.6" cy="195.0" r="1.4"/><circle cx="139.8" cy="212.0" r="1.4"/><circle cx="186.1" cy="214.3" r="1.4"/><circle cx="164.1" cy="215.6" r="1.4"/><circle cx="170.0" cy="210.1" r="1.4"/><circle cx="167.3" cy="202.3" r="1.4"/><circle cx="175.8" cy="207.6" r="1.4"/><circle cx="144.3" cy="202.0" r="1.4"/><circle cx="175.4" cy="192.4" r="1.4"/><circle cx="174.0" cy="195.9" r="1.4"/><circle cx="154.0" cy="215.4" r="1.4"/><circle cx="173.6" cy="218.3" r="1.4"/><circle cx="175.1" cy="220.1" r="1.4"/><circle cx="176.2" cy="206.3" r="1.4"/><circle cx="185.3" cy="196.3" r="1.4"/><circle cx="158.0" cy="208.3" r="1.4"/><circle cx="172.7" cy="186.9" r="1.4"/><circle cx="182.8" cy="204.9" r="1.4"/><circle cx="148.7" cy="192.1" r="1.4"/><circle cx="151.3" cy="193.2" r="1.4"/><circle cx="169.1" cy="213.9" r="1.4"/><circle cx="143.2" cy="206.6" r="1.4"/><circle cx="167.6" cy="192.3" r="1.4"/><circle cx="173.4" cy="200.4" r="1.4"/><circle cx="147.6" cy="208.9" r="1.4"/><circle cx="143.3" cy="186.6" r="1.4"/><circle cx="185.4" cy="203.0" r="1.4"/><circle cx="143.9" cy="206.4" r="1.4"/><circle cx="164.8" cy="192.1" r="1.4"/><circle cx="158.1" cy="220.0" r="1.4"/><circle cx="182.3" cy="198.1" r="1.4"/><circle cx="167.2" cy="193.2" r="1.4"/><circle cx="146.7" cy="205.2" r="1.4"/><circle cx="149.9" cy="205.1" r="1.4"/><circle cx="177.1" cy="220.7" r="1.4"/><circle cx="170.9" cy="193.6" r="1.4"/><circle cx="163.0" cy="204.3" r="1.4"/><circle cx="187.2" cy="197.4" r="1.4"/><circle cx="168.0" cy="207.1" r="1.4"/><circle cx="165.5" cy="187.4" r="1.4"/><circle cx="171.4" cy="210.4" r="1.4"/><circle cx="141.9" cy="187.6" r="1.4"/><circle cx="156.8" cy="196.2" r="1.4"/><circle cx="140.2" cy="209.9" r="1.4"/><circle cx="134.7" cy="211.7" r="1.4"/><circle cx="164.1" cy="220.9" r="1.4"/><circle cx="150.6" cy="214.5" r="1.4"/><circle cx="184.7" cy="215.6" r="1.4"/><circle cx="135.9" cy="208.6" r="1.4"/><circle cx="138.9" cy="199.5" r="1.4"/><circle cx="180.7" cy="196.7" r="1.4"/><circle cx="144.7" cy="186.4" r="1.4"/><circle cx="169.2" cy="199.0" r="1.4"/><circle cx="134.8" cy="194.3" r="1.4"/><circle cx="166.5" cy="215.4" r="1.4"/><circle cx="173.3" cy="206.5" r="1.4"/><circle cx="143.8" cy="206.3" r="1.4"/><circle cx="141.5" cy="195.4" r="1.4"/><circle cx="178.0" cy="187.8" r="1.4"/><circle cx="163.5" cy="197.5" r="1.4"/><circle cx="184.4" cy="208.9" r="1.4"/><circle cx="144.3" cy="196.3" r="1.4"/><circle cx="179.8" cy="218.4" r="1.4"/><circle cx="174.8" cy="188.3" r="1.4"/><circle cx="171.7" cy="216.1" r="1.4"/><circle cx="150.8" cy="192.0" r="1.4"/><circle cx="184.3" cy="192.1" r="1.4"/><circle cx="146.3" cy="191.3" r="1.4"/><circle cx="154.4" cy="220.5" r="1.4"/><circle cx="154.7" cy="198.8" r="1.4"/><circle cx="151.6" cy="215.7" r="1.4"/><circle cx="149.7" cy="207.8" r="1.4"/><circle cx="153.4" cy="217.8" r="1.4"/><circle cx="145.4" cy="216.7" r="1.4"/><circle cx="144.9" cy="217.2" r="1.4"/><circle cx="155.6" cy="201.7" r="1.4"/><circle cx="137.0" cy="205.1" r="1.4"/><circle cx="184.8" cy="216.2" r="1.4"/><circle cx="179.3" cy="219.3" r="1.4"/><circle cx="167.9" cy="196.2" r="1.4"/><circle cx="139.0" cy="216.2" r="1.4"/><circle cx="168.0" cy="185.8" r="1.4"/><circle cx="183.7" cy="204.6" r="1.4"/><circle cx="185.5" cy="187.1" r="1.4"/><circle cx="183.5" cy="219.2" r="1.4"/><circle cx="173.1" cy="209.9" r="1.4"/><circle cx="142.7" cy="216.3" r="1.4"/><circle cx="154.3" cy="217.2" r="1.4"/><circle cx="139.1" cy="217.0" r="1.4"/><circle cx="149.5" cy="201.4" r="1.4"/><circle cx="173.5" cy="204.9" r="1.4"/><circle cx="171.2" cy="215.0" r="1.4"/><circle cx="141.4" cy="216.2" r="1.4"/><circle cx="159.6" cy="217.2" r="1.4"/><circle cx="183.3" cy="182.7" r="1.4"/><circle cx="169.4" cy="183.9" r="1.4"/><circle cx="147.0" cy="206.3" r="1.4"/><circle cx="138.6" cy="203.6" r="1.4"/><circle cx="167.1" cy="187.0" r="1.4"/><circle cx="154.6" cy="203.1" r="1.4"/><circle cx="184.1" cy="186.8" r="1.4"/><circle cx="168.7" cy="192.0" r="1.4"/><circle cx="170.5" cy="203.6" r="1.4"/><circle cx="173.0" cy="189.7" r="1.4"/><circle cx="149.9" cy="213.5" r="1.4"/><circle cx="145.7" cy="190.5" r="1.4"/><circle cx="140.3" cy="210.8" r="1.4"/><circle cx="149.7" cy="217.2" r="1.4"/><circle cx="147.0" cy="213.7" r="1.4"/><circle cx="172.8" cy="204.5" r="1.4"/><circle cx="146.9" cy="209.0" r="1.4"/><circle cx="171.8" cy="212.0" r="1.4"/><circle cx="181.4" cy="205.4" r="1.4"/><circle cx="160.1" cy="220.6" r="1.4"/><circle cx="176.8" cy="194.7" r="1.4"/><circle cx="137.0" cy="202.6" r="1.4"/><circle cx="137.5" cy="202.3" r="1.4"/><circle cx="153.5" cy="207.9" r="1.4"/><circle cx="145.4" cy="205.9" r="1.4"/><circle cx="134.7" cy="200.3" r="1.4"/><circle cx="184.0" cy="186.2" r="1.4"/><circle cx="173.1" cy="194.7" r="1.4"/><circle cx="152.0" cy="215.3" r="1.4"/><circle cx="173.3" cy="217.2" r="1.4"/><circle cx="186.9" cy="191.9" r="1.4"/><circle cx="148.2" cy="209.1" r="1.4"/><circle cx="180.8" cy="211.7" r="1.4"/><circle cx="144.0" cy="210.2" r="1.4"/><circle cx="141.4" cy="204.4" r="1.4"/><circle cx="143.8" cy="188.6" r="1.4"/><circle cx="134.8" cy="205.5" r="1.4"/><circle cx="151.7" cy="207.8" r="1.4"/><circle cx="164.0" cy="188.2" r="1.4"/><circle cx="176.5" cy="217.5" r="1.4"/><circle cx="186.1" cy="206.4" r="1.4"/><circle cx="162.1" cy="206.7" r="1.4"/><circle cx="166.2" cy="188.8" r="1.4"/><circle cx="140.8" cy="191.4" r="1.4"/><circle cx="179.0" cy="210.5" r="1.4"/><circle cx="178.8" cy="202.5" r="1.4"/><circle cx="172.4" cy="196.4" r="1.4"/><circle cx="185.8" cy="212.2" r="1.4"/><circle cx="185.2" cy="197.3" r="1.4"/><circle cx="143.7" cy="180.9" r="1.4"/><circle cx="161.8" cy="212.6" r="1.4"/><circle cx="181.3" cy="193.3" r="1.4"/><circle cx="179.5" cy="212.2" r="1.4"/><circle cx="153.2" cy="200.8" r="1.4"/><circle cx="179.9" cy="189.6" r="1.4"/><circle cx="179.6" cy="215.6" r="1.4"/><circle cx="181.2" cy="216.7" r="1.4"/><circle cx="163.6" cy="200.1" r="1.4"/><circle cx="139.4" cy="201.2" r="1.4"/><circle cx="152.1" cy="215.7" r="1.4"/><circle cx="168.3" cy="210.3" r="1.4"/><circle cx="151.3" cy="198.4" r="1.4"/><circle cx="152.5" cy="198.3" r="1.4"/><circle cx="166.7" cy="190.7" r="1.4"/><circle cx="141.1" cy="208.6" r="1.4"/><circle cx="154.0" cy="197.9" r="1.4"/><circle cx="180.8" cy="203.4" r="1.4"/><circle cx="175.3" cy="196.7" r="1.4"/><circle cx="158.3" cy="214.5" r="1.4"/><circle cx="136.8" cy="204.4" r="1.4"/><circle cx="176.0" cy="205.4" r="1.4"/><circle cx="180.5" cy="205.2" r="1.4"/><circle cx="158.7" cy="217.2" r="1.4"/><circle cx="154.2" cy="210.3" r="1.4"/><circle cx="143.3" cy="216.8" r="1.4"/><circle cx="173.1" cy="209.0" r="1.4"/><circle cx="170.6" cy="208.0" r="1.4"/><circle cx="164.4" cy="190.2" r="1.4"/><circle cx="141.3" cy="209.3" r="1.4"/><circle cx="153.4" cy="200.9" r="1.4"/><circle cx="184.7" cy="215.2" r="1.4"/><circle cx="184.8" cy="209.7" r="1.4"/><circle cx="148.9" cy="205.7" r="1.4"/><circle cx="153.2" cy="180.3" r="1.4"/><circle cx="142.9" cy="212.1" r="1.4"/><circle cx="152.4" cy="220.1" r="1.4"/><circle cx="148.2" cy="210.8" r="1.4"/><circle cx="182.3" cy="203.6" r="1.4"/><circle cx="137.0" cy="203.3" r="1.4"/><circle cx="156.7" cy="192.5" r="1.4"/><circle cx="152.4" cy="196.8" r="1.4"/><circle cx="174.5" cy="182.1" r="1.4"/><circle cx="138.3" cy="208.5" r="1.4"/><circle cx="164.4" cy="195.9" r="1.4"/><circle cx="164.1" cy="194.7" r="1.4"/><circle cx="163.8" cy="211.8" r="1.4"/><circle cx="166.6" cy="217.3" r="1.4"/><circle cx="147.2" cy="200.3" r="1.4"/><circle cx="147.2" cy="197.3" r="1.4"/><circle cx="177.8" cy="205.7" r="1.4"/><circle cx="181.8" cy="209.6" r="1.4"/><circle cx="163.9" cy="196.6" r="1.4"/><circle cx="148.1" cy="198.5" r="1.4"/><circle cx="160.7" cy="215.4" r="1.4"/><circle cx="184.1" cy="197.6" r="1.4"/><circle cx="156.1" cy="207.0" r="1.4"/><circle cx="144.0" cy="214.3" r="1.4"/><circle cx="149.7" cy="211.5" r="1.4"/><circle cx="184.6" cy="206.3" r="1.4"/><circle cx="146.6" cy="189.8" r="1.4"/><circle cx="134.5" cy="196.1" r="1.4"/><circle cx="166.2" cy="201.9" r="1.4"/><circle cx="158.6" cy="213.5" r="1.4"/><circle cx="177.8" cy="212.0" r="1.4"/><circle cx="167.8" cy="216.7" r="1.4"/><circle cx="168.5" cy="198.9" r="1.4"/><circle cx="170.2" cy="197.9" r="1.4"/><circle cx="157.8" cy="214.2" r="1.4"/><circle cx="149.0" cy="216.1" r="1.4"/><circle cx="133.8" cy="210.0" r="1.4"/><circle cx="154.5" cy="195.6" r="1.4"/><circle cx="144.5" cy="195.8" r="1.4"/><circle cx="153.4" cy="205.2" r="1.4"/><circle cx="153.6" cy="184.6" r="1.4"/><circle cx="144.6" cy="197.2" r="1.4"/><circle cx="173.9" cy="189.3" r="1.4"/><circle cx="150.1" cy="212.7" r="1.4"/><circle cx="152.1" cy="207.5" r="1.4"/><circle cx="145.0" cy="208.4" r="1.4"/><circle cx="136.7" cy="211.5" r="1.4"/><circle cx="157.6" cy="206.1" r="1.4"/><circle cx="180.4" cy="216.4" r="1.4"/><circle cx="181.0" cy="217.3" r="1.4"/><circle cx="180.9" cy="192.2" r="1.4"/><circle cx="158.5" cy="212.7" r="1.4"/><circle cx="147.3" cy="192.4" r="1.4"/><circle cx="141.6" cy="194.1" r="1.4"/><circle cx="153.6" cy="186.3" r="1.4"/><circle cx="145.3" cy="214.5" r="1.4"/><circle cx="156.5" cy="206.2" r="1.4"/><circle cx="163.9" cy="207.1" r="1.4"/><circle cx="186.8" cy="195.7" r="1.4"/><circle cx="187.2" cy="190.0" r="1.4"/><circle cx="173.7" cy="209.7" r="1.4"/><circle cx="170.5" cy="221.0" r="1.4"/><circle cx="143.2" cy="214.4" r="1.4"/><circle cx="166.1" cy="193.9" r="1.4"/><circle cx="182.8" cy="216.3" r="1.4"/><circle cx="169.2" cy="206.1" r="1.4"/><circle cx="185.8" cy="215.8" r="1.4"/><circle cx="135.3" cy="211.4" r="1.4"/><circle cx="170.9" cy="208.8" r="1.4"/><circle cx="144.7" cy="183.3" r="1.4"/><circle cx="178.9" cy="196.6" r="1.4"/><circle cx="179.8" cy="190.8" r="1.4"/><circle cx="140.0" cy="207.5" r="1.4"/><circle cx="149.5" cy="214.1" r="1.4"/><circle cx="186.2" cy="214.3" r="1.4"/><circle cx="176.6" cy="206.8" r="1.4"/><circle cx="161.4" cy="220.1" r="1.4"/><circle cx="172.2" cy="204.4" r="1.4"/><circle cx="137.5" cy="212.7" r="1.4"/><circle cx="148.7" cy="197.6" r="1.4"/><circle cx="168.3" cy="206.7" r="1.4"/><circle cx="137.2" cy="208.4" r="1.4"/><circle cx="168.4" cy="202.1" r="1.4"/><circle cx="147.2" cy="179.7" r="1.4"/><circle cx="179.7" cy="180.4" r="1.4"/><circle cx="179.2" cy="208.3" r="1.4"/><circle cx="186.4" cy="202.1" r="1.4"/><circle cx="146.3" cy="188.9" r="1.4"/><circle cx="139.8" cy="209.2" r="1.4"/><circle cx="171.6" cy="205.1" r="1.4"/><circle cx="177.6" cy="203.6" r="1.4"/><circle cx="183.4" cy="199.2" r="1.4"/><circle cx="153.6" cy="220.5" r="1.4"/><circle cx="152.1" cy="197.3" r="1.4"/><circle cx="172.9" cy="219.3" r="1.4"/><circle cx="183.0" cy="191.1" r="1.4"/><circle cx="134.6" cy="182.7" r="1.4"/><circle cx="138.8" cy="194.6" r="1.4"/><circle cx="177.6" cy="213.1" r="1.4"/><circle cx="163.9" cy="211.5" r="1.4"/><circle cx="145.9" cy="186.3" r="1.4"/><circle cx="186.3" cy="215.6" r="1.4"/><circle cx="155.9" cy="194.6" r="1.4"/><circle cx="140.1" cy="212.7" r="1.4"/><circle cx="175.8" cy="198.6" r="1.4"/><circle cx="171.0" cy="199.1" r="1.4"/><circle cx="153.8" cy="212.3" r="1.4"/><circle cx="148.2" cy="184.1" r="1.4"/><circle cx="145.3" cy="205.8" r="1.4"/><circle cx="149.9" cy="185.8" r="1.4"/><circle cx="172.5" cy="218.7" r="1.4"/><circle cx="134.7" cy="203.5" r="1.4"/><circle cx="168.1" cy="202.2" r="1.4"/><circle cx="149.0" cy="213.1" r="1.4"/><circle cx="149.1" cy="219.2" r="1.4"/><circle cx="145.3" cy="210.7" r="1.4"/><circle cx="183.8" cy="215.9" r="1.4"/><circle cx="151.6" cy="217.4" r="1.4"/><circle cx="159.6" cy="216.5" r="1.4"/><circle cx="138.7" cy="208.4" r="1.4"/><circle cx="148.7" cy="184.2" r="1.4"/><circle cx="166.9" cy="193.0" r="1.4"/><circle cx="163.3" cy="194.8" r="1.4"/><circle cx="184.3" cy="210.4" r="1.4"/><circle cx="138.1" cy="192.8" r="1.4"/><circle cx="169.4" cy="199.3" r="1.4"/><circle cx="134.1" cy="215.5" r="1.4"/><circle cx="185.0" cy="191.4" r="1.4"/><circle cx="167.2" cy="203.6" r="1.4"/><circle cx="139.3" cy="214.7" r="1.4"/><circle cx="180.5" cy="208.8" r="1.4"/><circle cx="146.8" cy="189.5" r="1.4"/><circle cx="173.6" cy="218.5" r="1.4"/><circle cx="167.1" cy="200.8" r="1.4"/><circle cx="168.7" cy="181.4" r="1.4"/><circle cx="136.3" cy="183.7" r="1.4"/><circle cx="146.7" cy="202.9" r="1.4"/><circle cx="167.9" cy="204.3" r="1.4"/><circle cx="134.8" cy="202.8" r="1.4"/><circle cx="183.4" cy="213.3" r="1.4"/><circle cx="181.8" cy="196.4" r="1.4"/><circle cx="153.4" cy="212.7" r="1.4"/><circle cx="186.4" cy="200.2" r="1.4"/><circle cx="187.4" cy="195.9" r="1.4"/><circle cx="174.0" cy="196.4" r="1.4"/><circle cx="154.1" cy="215.9" r="1.4"/><circle cx="169.8" cy="212.3" r="1.4"/><circle cx="152.0" cy="217.8" r="1.4"/><circle cx="134.8" cy="192.8" r="1.4"/><circle cx="156.2" cy="205.2" r="1.4"/><circle cx="170.1" cy="209.2" r="1.4"/><circle cx="145.7" cy="210.6" r="1.4"/><circle cx="154.1" cy="218.6" r="1.4"/><circle cx="138.9" cy="219.9" r="1.4"/><circle cx="173.6" cy="211.9" r="1.4"/><circle cx="169.9" cy="201.9" r="1.4"/><circle cx="156.2" cy="195.0" r="1.4"/><circle cx="165.3" cy="186.2" r="1.4"/><circle cx="153.3" cy="217.1" r="1.4"/><circle cx="169.2" cy="203.9" r="1.4"/><circle cx="181.7" cy="196.6" r="1.4"/><circle cx="152.8" cy="184.4" r="1.4"/><circle cx="149.8" cy="191.0" r="1.4"/><circle cx="169.9" cy="195.9" r="1.4"/><circle cx="173.2" cy="188.7" r="1.4"/><circle cx="155.3" cy="190.1" r="1.4"/><circle cx="179.8" cy="214.0" r="1.4"/><circle cx="186.0" cy="195.5" r="1.4"/><circle cx="139.4" cy="201.1" r="1.4"/><circle cx="135.3" cy="214.2" r="1.4"/><circle cx="148.8" cy="196.7" r="1.4"/><circle cx="186.7" cy="211.4" r="1.4"/><circle cx="147.5" cy="194.7" r="1.4"/><circle cx="141.3" cy="188.9" r="1.4"/><circle cx="164.8" cy="199.0" r="1.4"/><circle cx="180.4" cy="190.8" r="1.4"/><circle cx="180.6" cy="190.1" r="1.4"/><circle cx="143.6" cy="208.2" r="1.4"/><circle cx="147.4" cy="184.0" r="1.4"/><circle cx="137.6" cy="205.9" r="1.4"/><circle cx="170.9" cy="180.3" r="1.4"/><circle cx="152.2" cy="220.7" r="1.4"/><circle cx="169.0" cy="188.4" r="1.4"/><circle cx="139.8" cy="204.6" r="1.4"/><circle cx="147.5" cy="187.5" r="1.4"/><circle cx="167.3" cy="192.8" r="1.4"/><circle cx="137.2" cy="194.0" r="1.4"/><circle cx="172.9" cy="186.6" r="1.4"/><circle cx="173.9" cy="218.6" r="1.4"/><circle cx="168.6" cy="214.2" r="1.4"/><circle cx="178.3" cy="200.8" r="1.4"/><circle cx="150.7" cy="207.7" r="1.4"/><circle cx="141.2" cy="192.1" r="1.4"/><circle cx="170.1" cy="201.4" r="1.4"/><circle cx="136.1" cy="191.1" r="1.4"/><circle cx="164.9" cy="199.3" r="1.4"/><circle cx="168.2" cy="193.7" r="1.4"/><circle cx="178.6" cy="217.6" r="1.4"/><circle cx="150.2" cy="204.3" r="1.4"/><circle cx="173.2" cy="218.9" r="1.4"/><circle cx="143.2" cy="190.9" r="1.4"/><circle cx="173.5" cy="212.8" r="1.4"/><circle cx="146.1" cy="201.9" r="1.4"/><circle cx="141.2" cy="214.2" r="1.4"/><circle cx="167.9" cy="213.7" r="1.4"/><circle cx="177.4" cy="218.1" r="1.4"/><circle cx="182.4" cy="211.2" r="1.4"/><circle cx="172.1" cy="197.0" r="1.4"/><circle cx="162.9" cy="219.6" r="1.4"/><circle cx="144.5" cy="199.4" r="1.4"/><circle cx="177.8" cy="185.8" r="1.4"/><circle cx="179.5" cy="197.4" r="1.4"/><circle cx="154.3" cy="208.8" r="1.4"/><circle cx="144.0" cy="210.4" r="1.4"/><circle cx="179.0" cy="217.8" r="1.4"/><circle cx="186.7" cy="208.1" r="1.4"/><circle cx="184.1" cy="204.3" r="1.4"/><circle cx="157.0" cy="218.4" r="1.4"/><circle cx="181.5" cy="203.3" r="1.4"/><circle cx="143.9" cy="220.8" r="1.4"/><circle cx="163.4" cy="207.0" r="1.4"/><circle cx="151.6" cy="199.7" r="1.4"/><circle cx="142.3" cy="218.6" r="1.4"/><circle cx="171.8" cy="185.4" r="1.4"/><circle cx="153.8" cy="219.6" r="1.4"/><circle cx="157.5" cy="216.3" r="1.4"/><circle cx="154.7" cy="205.5" r="1.4"/><circle cx="164.5" cy="220.4" r="1.4"/><circle cx="187.3" cy="206.1" r="1.4"/><circle cx="173.2" cy="193.4" r="1.4"/><circle cx="177.1" cy="212.0" r="1.4"/><circle cx="177.9" cy="208.8" r="1.4"/><circle cx="183.8" cy="197.2" r="1.4"/><circle cx="182.9" cy="218.4" r="1.4"/><circle cx="142.5" cy="191.6" r="1.4"/><circle cx="150.2" cy="181.4" r="1.4"/><circle cx="147.4" cy="184.7" r="1.4"/><circle cx="134.3" cy="205.8" r="1.4"/><circle cx="146.0" cy="201.3" r="1.4"/><circle cx="154.8" cy="197.9" r="1.4"/><circle cx="140.1" cy="191.9" r="1.4"/><circle cx="163.5" cy="204.1" r="1.4"/><circle cx="133.4" cy="207.2" r="1.4"/><circle cx="139.3" cy="176.2" r="1.4"/><circle cx="185.1" cy="196.6" r="1.4"/><circle cx="140.0" cy="181.1" r="1.4"/><circle cx="143.2" cy="195.9" r="1.4"/><circle cx="148.9" cy="219.6" r="1.4"/><circle cx="146.4" cy="209.9" r="1.4"/><circle cx="142.1" cy="216.6" r="1.4"/><circle cx="153.6" cy="192.2" r="1.4"/><circle cx="135.6" cy="216.3" r="1.4"/><circle cx="177.8" cy="204.4" r="1.4"/><circle cx="163.9" cy="188.9" r="1.4"/><circle cx="163.1" cy="211.3" r="1.4"/><circle cx="153.7" cy="201.5" r="1.4"/><circle cx="163.8" cy="196.4" r="1.4"/><circle cx="144.2" cy="216.1" r="1.4"/><circle cx="154.4" cy="212.4" r="1.4"/><circle cx="138.0" cy="216.1" r="1.4"/><circle cx="140.1" cy="187.1" r="1.4"/><circle cx="166.6" cy="185.2" r="1.4"/><circle cx="139.6" cy="202.3" r="1.4"/><circle cx="152.7" cy="198.3" r="1.4"/><circle cx="156.0" cy="187.2" r="1.4"/><circle cx="164.7" cy="203.0" r="1.4"/><circle cx="172.8" cy="214.8" r="1.4"/><circle cx="133.4" cy="190.2" r="1.4"/><circle cx="152.9" cy="193.6" r="1.4"/><circle cx="148.5" cy="195.5" r="1.4"/><circle cx="168.9" cy="189.9" r="1.4"/><circle cx="139.9" cy="193.9" r="1.4"/><circle cx="184.4" cy="193.5" r="1.4"/><circle cx="150.5" cy="191.0" r="1.4"/><circle cx="179.2" cy="220.1" r="1.4"/><circle cx="158.3" cy="218.3" r="1.4"/><circle cx="132.9" cy="208.6" r="1.4"/><circle cx="139.3" cy="206.0" r="1.4"/><circle cx="153.9" cy="214.1" r="1.4"/><circle cx="173.1" cy="206.6" r="1.4"/><circle cx="184.0" cy="192.0" r="1.4"/><circle cx="182.3" cy="200.3" r="1.4"/><circle cx="150.6" cy="189.1" r="1.4"/><circle cx="186.8" cy="208.5" r="1.4"/><circle cx="136.8" cy="215.4" r="1.4"/><circle cx="134.8" cy="205.9" r="1.4"/><circle cx="155.5" cy="206.7" r="1.4"/><circle cx="142.7" cy="187.8" r="1.4"/><circle cx="182.0" cy="199.7" r="1.4"/><circle cx="175.0" cy="208.5" r="1.4"/><circle cx="144.7" cy="201.8" r="1.4"/><circle cx="156.5" cy="220.9" r="1.4"/><circle cx="153.7" cy="192.5" r="1.4"/><circle cx="174.7" cy="215.3" r="1.4"/><circle cx="152.8" cy="199.8" r="1.4"/><circle cx="145.0" cy="216.1" r="1.4"/><circle cx="178.5" cy="187.7" r="1.4"/><circle cx="168.3" cy="185.4" r="1.4"/><circle cx="155.7" cy="208.0" r="1.4"/><circle cx="178.2" cy="209.2" r="1.4"/><circle cx="164.7" cy="212.3" r="1.4"/><circle cx="176.1" cy="205.6" r="1.4"/><circle cx="174.1" cy="209.2" r="1.4"/><circle cx="158.2" cy="217.3" r="1.4"/><circle cx="146.8" cy="190.7" r="1.4"/><circle cx="154.1" cy="190.7" r="1.4"/><circle cx="187.2" cy="203.5" r="1.4"/><circle cx="148.4" cy="203.8" r="1.4"/><circle cx="167.3" cy="215.7" r="1.4"/><circle cx="172.9" cy="186.4" r="1.4"/><circle cx="172.6" cy="196.9" r="1.4"/><circle cx="182.2" cy="185.8" r="1.4"/><circle cx="151.4" cy="188.9" r="1.4"/><circle cx="180.9" cy="205.3" r="1.4"/><circle cx="169.7" cy="216.3" r="1.4"/><circle cx="133.1" cy="210.7" r="1.4"/><circle cx="136.7" cy="207.9" r="1.4"/><circle cx="163.1" cy="207.8" r="1.4"/><circle cx="180.4" cy="221.2" r="1.4"/><circle cx="166.1" cy="205.5" r="1.4"/><circle cx="152.5" cy="185.5" r="1.4"/><circle cx="133.1" cy="201.0" r="1.4"/><circle cx="166.4" cy="188.9" r="1.4"/><circle cx="162.1" cy="219.3" r="1.4"/><circle cx="135.0" cy="198.4" r="1.4"/><circle cx="134.0" cy="187.9" r="1.4"/><circle cx="175.8" cy="217.5" r="1.4"/><circle cx="139.1" cy="199.0" r="1.4"/><circle cx="167.0" cy="202.6" r="1.4"/><circle cx="179.7" cy="212.1" r="1.4"/><circle cx="173.9" cy="213.8" r="1.4"/><circle cx="139.5" cy="207.2" r="1.4"/><circle cx="145.7" cy="188.9" r="1.4"/><circle cx="148.6" cy="199.7" r="1.4"/><circle cx="178.9" cy="211.6" r="1.4"/><circle cx="136.5" cy="203.2" r="1.4"/><circle cx="156.6" cy="208.3" r="1.4"/><circle cx="169.4" cy="179.7" r="1.4"/><circle cx="166.0" cy="209.7" r="1.4"/><circle cx="172.7" cy="211.4" r="1.4"/><circle cx="157.9" cy="210.8" r="1.4"/><circle cx="155.9" cy="205.4" r="1.4"/><circle cx="140.8" cy="219.7" r="1.4"/><circle cx="177.3" cy="182.4" r="1.4"/><circle cx="156.6" cy="191.7" r="1.4"/><circle cx="184.9" cy="209.4" r="1.4"/><circle cx="147.6" cy="197.4" r="1.4"/><circle cx="152.0" cy="193.3" r="1.4"/><circle cx="166.0" cy="191.9" r="1.4"/><circle cx="185.6" cy="209.0" r="1.4"/><circle cx="144.9" cy="195.9" r="1.4"/><circle cx="153.8" cy="201.0" r="1.4"/><circle cx="148.9" cy="197.0" r="1.4"/><circle cx="138.0" cy="211.7" r="1.4"/><circle cx="134.8" cy="210.2" r="1.4"/><circle cx="150.8" cy="185.4" r="1.4"/><circle cx="171.4" cy="206.7" r="1.4"/><circle cx="175.6" cy="209.4" r="1.4"/><circle cx="167.8" cy="215.7" r="1.4"/><circle cx="169.4" cy="184.8" r="1.4"/><circle cx="183.1" cy="199.0" r="1.4"/><circle cx="157.8" cy="204.3" r="1.4"/><circle cx="181.5" cy="216.0" r="1.4"/><circle cx="179.8" cy="206.2" r="1.4"/><circle cx="174.9" cy="195.9" r="1.4"/><circle cx="183.0" cy="198.2" r="1.4"/><circle cx="137.6" cy="199.8" r="1.4"/><circle cx="171.5" cy="219.0" r="1.4"/><circle cx="139.3" cy="204.6" r="1.4"/><circle cx="153.0" cy="199.6" r="1.4"/><circle cx="164.7" cy="212.1" r="1.4"/><circle cx="170.6" cy="203.3" r="1.4"/><circle cx="170.1" cy="206.3" r="1.4"/><circle cx="142.6" cy="220.2" r="1.4"/><circle cx="140.6" cy="196.7" r="1.4"/><circle cx="166.6" cy="194.6" r="1.4"/><circle cx="142.6" cy="197.9" r="1.4"/><circle cx="169.9" cy="193.0" r="1.4"/><circle cx="149.3" cy="203.2" r="1.4"/><circle cx="167.2" cy="208.4" r="1.4"/><circle cx="136.8" cy="211.9" r="1.4"/><circle cx="165.8" cy="192.6" r="1.4"/><circle cx="148.0" cy="217.7" r="1.4"/><circle cx="171.1" cy="190.7" r="1.4"/><circle cx="144.8" cy="208.1" r="1.4"/><circle cx="136.0" cy="203.6" r="1.4"/><circle cx="140.6" cy="191.4" r="1.4"/><circle cx="178.5" cy="188.6" r="1.4"/><circle cx="184.8" cy="212.4" r="1.4"/><circle cx="164.3" cy="211.1" r="1.4"/><circle cx="137.4" cy="189.1" r="1.4"/><circle cx="165.5" cy="210.6" r="1.4"/><circle cx="151.3" cy="204.0" r="1.4"/><circle cx="142.2" cy="202.9" r="1.4"/><circle cx="180.0" cy="197.6" r="1.4"/><circle cx="164.1" cy="206.7" r="1.4"/><circle cx="184.5" cy="193.9" r="1.4"/><circle cx="179.6" cy="200.8" r="1.4"/><circle cx="183.5" cy="197.6" r="1.4"/><circle cx="179.1" cy="201.5" r="1.4"/><circle cx="162.9" cy="211.2" r="1.4"/><circle cx="152.9" cy="182.7" r="1.4"/><circle cx="135.2" cy="207.9" r="1.4"/><circle cx="136.6" cy="210.7" r="1.4"/><circle cx="174.5" cy="193.5" r="1.4"/><circle cx="141.0" cy="212.8" r="1.4"/><circle cx="144.4" cy="201.3" r="1.4"/><circle cx="175.1" cy="196.1" r="1.4"/><circle cx="182.0" cy="216.4" r="1.4"/><circle cx="180.3" cy="189.5" r="1.4"/><circle cx="151.7" cy="198.5" r="1.4"/><circle cx="164.4" cy="210.3" r="1.4"/><circle cx="168.0" cy="186.3" r="1.4"/><circle cx="137.8" cy="197.3" r="1.4"/><circle cx="147.2" cy="193.1" r="1.4"/><circle cx="186.4" cy="217.1" r="1.4"/><circle cx="149.5" cy="199.2" r="1.4"/><circle cx="146.4" cy="215.1" r="1.4"/><circle cx="145.5" cy="210.8" r="1.4"/><circle cx="132.9" cy="197.0" r="1.4"/><circle cx="172.4" cy="187.4" r="1.4"/><circle cx="175.3" cy="181.2" r="1.4"/><circle cx="139.1" cy="176.9" r="1.4"/><circle cx="152.9" cy="156.9" r="1.4"/><circle cx="146.2" cy="165.6" r="1.4"/><circle cx="179.8" cy="180.3" r="1.4"/><circle cx="167.3" cy="175.8" r="1.4"/><circle cx="147.2" cy="183.9" r="1.4"/><circle cx="181.5" cy="180.4" r="1.4"/><circle cx="156.1" cy="175.3" r="1.4"/><circle cx="182.6" cy="181.3" r="1.4"/><circle cx="168.6" cy="173.5" r="1.4"/><circle cx="184.5" cy="174.2" r="1.4"/><circle cx="147.2" cy="173.4" r="1.4"/><circle cx="140.0" cy="176.5" r="1.4"/><circle cx="134.1" cy="182.3" r="1.4"/><circle cx="165.2" cy="181.4" r="1.4"/><circle cx="151.9" cy="147.7" r="1.4"/><circle cx="184.6" cy="182.6" r="1.4"/><circle cx="168.1" cy="146.9" r="1.4"/><circle cx="151.9" cy="173.5" r="1.4"/><circle cx="164.0" cy="169.8" r="1.4"/><circle cx="167.9" cy="182.2" r="1.4"/><circle cx="156.5" cy="184.1" r="1.4"/><circle cx="133.1" cy="176.4" r="1.4"/><circle cx="173.5" cy="183.2" r="1.4"/><circle cx="167.3" cy="182.4" r="1.4"/><circle cx="186.1" cy="183.7" r="1.4"/><circle cx="149.1" cy="171.7" r="1.4"/><circle cx="178.8" cy="181.2" r="1.4"/><circle cx="169.5" cy="174.2" r="1.4"/><circle cx="186.0" cy="180.6" r="1.4"/><circle cx="176.5" cy="182.1" r="1.4"/><circle cx="174.1" cy="180.3" r="1.4"/><circle cx="179.9" cy="174.9" r="1.4"/><circle cx="149.6" cy="179.0" r="1.4"/><circle cx="175.4" cy="171.8" r="1.4"/><circle cx="154.1" cy="181.2" r="1.4"/><circle cx="163.7" cy="183.9" r="1.4"/><circle cx="167.1" cy="163.4" r="1.4"/><circle cx="138.1" cy="172.7" r="1.4"/><circle cx="149.6" cy="177.4" r="1.4"/><circle cx="147.1" cy="182.0" r="1.4"/><circle cx="185.8" cy="164.5" r="1.4"/><circle cx="167.2" cy="178.9" r="1.4"/><circle cx="150.1" cy="180.4" r="1.4"/><circle cx="174.1" cy="164.8" r="1.4"/><circle cx="184.7" cy="179.6" r="1.4"/><circle cx="140.2" cy="165.5" r="1.4"/><circle cx="168.4" cy="182.4" r="1.4"/><circle cx="138.7" cy="181.1" r="1.4"/><circle cx="133.3" cy="178.7" r="1.4"/><circle cx="145.7" cy="181.2" r="1.4"/><circle cx="167.3" cy="175.0" r="1.4"/><circle cx="140.1" cy="167.5" r="1.4"/><circle cx="165.5" cy="177.2" r="1.4"/><circle cx="138.8" cy="152.4" r="1.4"/><circle cx="186.1" cy="178.7" r="1.4"/><circle cx="171.3" cy="183.9" r="1.4"/><circle cx="143.6" cy="179.1" r="1.4"/><circle cx="139.7" cy="159.3" r="1.4"/><circle cx="168.3" cy="175.1" r="1.4"/><circle cx="164.3" cy="167.0" r="1.4"/><circle cx="164.5" cy="180.3" r="1.4"/><circle cx="150.4" cy="179.7" r="1.4"/><circle cx="136.7" cy="175.6" r="1.4"/><circle cx="173.1" cy="151.2" r="1.4"/><circle cx="176.3" cy="176.7" r="1.4"/><circle cx="179.1" cy="155.5" r="1.4"/><circle cx="166.7" cy="177.4" r="1.4"/><circle cx="148.9" cy="150.0" r="1.4"/><circle cx="140.7" cy="177.1" r="1.4"/><circle cx="182.2" cy="168.1" r="1.4"/><circle cx="154.1" cy="160.4" r="1.4"/><circle cx="173.0" cy="168.9" r="1.4"/><circle cx="168.0" cy="164.8" r="1.4"/><circle cx="143.2" cy="181.2" r="1.4"/><circle cx="168.9" cy="173.5" r="1.4"/><circle cx="156.0" cy="180.0" r="1.4"/><circle cx="140.4" cy="159.7" r="1.4"/><circle cx="185.8" cy="182.8" r="1.4"/><circle cx="150.8" cy="171.8" r="1.4"/><circle cx="146.2" cy="175.7" r="1.4"/><circle cx="180.5" cy="180.5" r="1.4"/><circle cx="147.4" cy="180.0" r="1.4"/><circle cx="148.8" cy="180.2" r="1.4"/><circle cx="155.9" cy="177.6" r="1.4"/><circle cx="173.1" cy="184.0" r="1.4"/><circle cx="181.1" cy="183.0" r="1.4"/><circle cx="164.7" cy="173.3" r="1.4"/><circle cx="186.5" cy="182.5" r="1.4"/><circle cx="181.2" cy="183.6" r="1.4"/><circle cx="174.9" cy="182.7" r="1.4"/><circle cx="145.0" cy="182.2" r="1.4"/><circle cx="138.4" cy="178.8" r="1.4"/><circle cx="169.4" cy="163.4" r="1.4"/><circle cx="179.1" cy="181.7" r="1.4"/><circle cx="133.5" cy="181.3" r="1.4"/><circle cx="137.4" cy="182.1" r="1.4"/><circle cx="155.0" cy="166.3" r="1.4"/><circle cx="142.8" cy="156.3" r="1.4"/><circle cx="181.9" cy="180.9" r="1.4"/><circle cx="147.9" cy="166.9" r="1.4"/><circle cx="136.5" cy="177.9" r="1.4"/><circle cx="154.3" cy="168.5" r="1.4"/><circle cx="135.6" cy="162.1" r="1.4"/><circle cx="187.3" cy="181.9" r="1.4"/><circle cx="165.5" cy="164.3" r="1.4"/><circle cx="174.9" cy="167.5" r="1.4"/><circle cx="138.1" cy="172.1" r="1.4"/><circle cx="133.3" cy="180.3" r="1.4"/><circle cx="143.3" cy="181.4" r="1.4"/><circle cx="168.2" cy="161.5" r="1.4"/><circle cx="149.0" cy="174.1" r="1.4"/><circle cx="134.0" cy="170.9" r="1.4"/><circle cx="184.6" cy="177.9" r="1.4"/><circle cx="174.6" cy="179.0" r="1.4"/><circle cx="149.6" cy="178.8" r="1.4"/><circle cx="144.0" cy="177.1" r="1.4"/><circle cx="186.8" cy="175.9" r="1.4"/><circle cx="136.3" cy="179.2" r="1.4"/><circle cx="178.3" cy="153.1" r="1.4"/><circle cx="146.5" cy="161.3" r="1.4"/><circle cx="141.5" cy="179.3" r="1.4"/><circle cx="153.0" cy="170.7" r="1.4"/><circle cx="175.2" cy="172.1" r="1.4"/><circle cx="133.4" cy="162.7" r="1.4"/><circle cx="154.0" cy="144.8" r="1.4"/><circle cx="135.3" cy="174.9" r="1.4"/><circle cx="150.4" cy="179.6" r="1.4"/><circle cx="147.5" cy="143.6" r="1.4"/><circle cx="185.8" cy="140.2" r="1.4"/><circle cx="133.7" cy="109.0" r="1.4"/><circle cx="171.6" cy="110.9" r="1.4"/><circle cx="149.0" cy="153.5" r="1.4"/><circle cx="151.0" cy="155.7" r="1.4"/><circle cx="170.9" cy="153.4" r="1.4"/><circle cx="180.5" cy="157.5" r="1.4"/><circle cx="146.0" cy="160.0" r="1.4"/><circle cx="152.5" cy="162.0" r="1.4"/><circle cx="147.3" cy="143.3" r="1.4"/><circle cx="155.0" cy="166.0" r="1.4"/><circle cx="165.0" cy="165.0" r="1.4"/><circle cx="176.0" cy="162.0" r="1.4"/><circle cx="142.0" cy="166.0" r="1.4"/><circle cx="183.0" cy="165.0" r="1.4"/></g>
<g fill="#e0301f" fill-opacity="0.55"><circle cx="191.9" cy="214.2" r="1.4"/><circle cx="191.3" cy="194.5" r="1.4"/><circle cx="199.9" cy="199.4" r="1.4"/><circle cx="189.8" cy="186.6" r="1.4"/><circle cx="195.7" cy="213.4" r="1.4"/><circle cx="189.9" cy="190.9" r="1.4"/><circle cx="199.9" cy="189.1" r="1.4"/><circle cx="198.6" cy="196.6" r="1.4"/><circle cx="190.8" cy="211.8" r="1.4"/><circle cx="193.8" cy="190.2" r="1.4"/><circle cx="188.6" cy="205.0" r="1.4"/><circle cx="187.8" cy="190.2" r="1.4"/><circle cx="190.7" cy="208.2" r="1.4"/><circle cx="193.3" cy="198.7" r="1.4"/><circle cx="188.9" cy="192.7" r="1.4"/><circle cx="216.0" cy="186.2" r="1.4"/><circle cx="191.1" cy="197.4" r="1.4"/><circle cx="189.6" cy="183.9" r="1.4"/><circle cx="191.8" cy="186.4" r="1.4"/><circle cx="189.3" cy="190.2" r="1.4"/><circle cx="192.2" cy="211.2" r="1.4"/><circle cx="191.5" cy="184.6" r="1.4"/><circle cx="196.8" cy="209.4" r="1.4"/><circle cx="191.3" cy="197.9" r="1.4"/><circle cx="188.5" cy="198.5" r="1.4"/><circle cx="194.2" cy="211.4" r="1.4"/><circle cx="191.7" cy="210.4" r="1.4"/><circle cx="188.8" cy="210.9" r="1.4"/><circle cx="201.5" cy="213.8" r="1.4"/><circle cx="196.0" cy="196.5" r="1.4"/><circle cx="191.9" cy="208.9" r="1.4"/><circle cx="199.6" cy="200.3" r="1.4"/><circle cx="191.9" cy="203.2" r="1.4"/><circle cx="198.2" cy="200.6" r="1.4"/><circle cx="190.8" cy="204.5" r="1.4"/><circle cx="198.8" cy="194.5" r="1.4"/><circle cx="197.7" cy="208.1" r="1.4"/><circle cx="192.2" cy="198.0" r="1.4"/><circle cx="201.2" cy="195.1" r="1.4"/><circle cx="194.4" cy="212.3" r="1.4"/><circle cx="189.3" cy="208.8" r="1.4"/><circle cx="192.9" cy="203.4" r="1.4"/><circle cx="188.8" cy="211.4" r="1.4"/><circle cx="188.2" cy="187.7" r="1.4"/><circle cx="188.9" cy="203.1" r="1.4"/><circle cx="195.6" cy="199.9" r="1.4"/><circle cx="188.5" cy="200.7" r="1.4"/><circle cx="189.8" cy="196.1" r="1.4"/><circle cx="192.4" cy="197.5" r="1.4"/><circle cx="188.8" cy="185.9" r="1.4"/><circle cx="188.9" cy="210.4" r="1.4"/><circle cx="188.2" cy="206.7" r="1.4"/><circle cx="198.6" cy="200.7" r="1.4"/><circle cx="197.7" cy="210.7" r="1.4"/><circle cx="192.2" cy="209.1" r="1.4"/><circle cx="207.7" cy="195.4" r="1.4"/><circle cx="188.0" cy="188.1" r="1.4"/><circle cx="194.5" cy="201.5" r="1.4"/><circle cx="196.8" cy="200.9" r="1.4"/><circle cx="199.0" cy="211.4" r="1.4"/><circle cx="189.9" cy="182.9" r="1.4"/><circle cx="195.8" cy="186.7" r="1.4"/><circle cx="192.4" cy="186.6" r="1.4"/><circle cx="194.5" cy="204.6" r="1.4"/><circle cx="189.3" cy="192.0" r="1.4"/><circle cx="200.8" cy="205.8" r="1.4"/><circle cx="188.9" cy="203.3" r="1.4"/><circle cx="193.6" cy="205.7" r="1.4"/><circle cx="191.7" cy="204.1" r="1.4"/><circle cx="192.1" cy="183.1" r="1.4"/><circle cx="188.1" cy="189.7" r="1.4"/><circle cx="188.9" cy="214.4" r="1.4"/><circle cx="189.6" cy="204.0" r="1.4"/><circle cx="194.0" cy="202.1" r="1.4"/><circle cx="191.8" cy="187.2" r="1.4"/><circle cx="192.0" cy="182.9" r="1.4"/><circle cx="188.5" cy="213.5" r="1.4"/><circle cx="201.3" cy="191.1" r="1.4"/><circle cx="193.2" cy="186.0" r="1.4"/><circle cx="190.8" cy="212.7" r="1.4"/><circle cx="194.8" cy="205.4" r="1.4"/><circle cx="207.3" cy="188.8" r="1.4"/><circle cx="208.7" cy="186.6" r="1.4"/><circle cx="192.6" cy="189.9" r="1.4"/><circle cx="201.9" cy="184.4" r="1.4"/><circle cx="194.7" cy="190.4" r="1.4"/><circle cx="202.2" cy="195.5" r="1.4"/><circle cx="188.2" cy="202.3" r="1.4"/><circle cx="189.8" cy="204.5" r="1.4"/><circle cx="214.5" cy="185.1" r="1.4"/><circle cx="198.3" cy="200.8" r="1.4"/><circle cx="202.7" cy="201.8" r="1.4"/><circle cx="194.7" cy="203.3" r="1.4"/><circle cx="189.4" cy="187.0" r="1.4"/><circle cx="194.1" cy="193.0" r="1.4"/><circle cx="192.4" cy="190.5" r="1.4"/><circle cx="201.4" cy="183.4" r="1.4"/><circle cx="207.8" cy="204.9" r="1.4"/><circle cx="197.9" cy="185.7" r="1.4"/><circle cx="206.6" cy="184.4" r="1.4"/><circle cx="193.2" cy="192.3" r="1.4"/><circle cx="194.9" cy="200.8" r="1.4"/><circle cx="188.3" cy="213.6" r="1.4"/><circle cx="188.7" cy="185.9" r="1.4"/><circle cx="192.5" cy="187.6" r="1.4"/><circle cx="201.8" cy="200.1" r="1.4"/><circle cx="194.2" cy="202.3" r="1.4"/><circle cx="194.6" cy="207.1" r="1.4"/><circle cx="190.7" cy="202.0" r="1.4"/><circle cx="189.8" cy="209.6" r="1.4"/><circle cx="207.2" cy="212.3" r="1.4"/><circle cx="190.2" cy="202.7" r="1.4"/><circle cx="193.8" cy="208.4" r="1.4"/><circle cx="189.0" cy="189.8" r="1.4"/><circle cx="187.9" cy="189.6" r="1.4"/><circle cx="195.7" cy="209.7" r="1.4"/><circle cx="190.8" cy="204.7" r="1.4"/><circle cx="192.8" cy="184.9" r="1.4"/><circle cx="192.7" cy="199.2" r="1.4"/><circle cx="187.9" cy="209.4" r="1.4"/><circle cx="198.5" cy="201.5" r="1.4"/><circle cx="191.2" cy="210.8" r="1.4"/><circle cx="195.7" cy="188.6" r="1.4"/><circle cx="198.8" cy="203.9" r="1.4"/><circle cx="205.6" cy="194.2" r="1.4"/><circle cx="198.9" cy="210.6" r="1.4"/><circle cx="190.8" cy="189.6" r="1.4"/><circle cx="189.4" cy="207.8" r="1.4"/><circle cx="193.3" cy="213.0" r="1.4"/><circle cx="192.4" cy="185.7" r="1.4"/><circle cx="204.4" cy="197.7" r="1.4"/><circle cx="190.8" cy="183.7" r="1.4"/><circle cx="188.8" cy="200.0" r="1.4"/><circle cx="191.6" cy="211.9" r="1.4"/><circle cx="189.2" cy="201.2" r="1.4"/><circle cx="189.7" cy="214.7" r="1.4"/><circle cx="192.3" cy="185.0" r="1.4"/><circle cx="199.8" cy="189.3" r="1.4"/><circle cx="210.0" cy="189.7" r="1.4"/><circle cx="198.9" cy="184.8" r="1.4"/><circle cx="190.0" cy="208.2" r="1.4"/><circle cx="187.9" cy="202.0" r="1.4"/><circle cx="189.2" cy="213.2" r="1.4"/><circle cx="188.2" cy="186.8" r="1.4"/><circle cx="190.2" cy="192.5" r="1.4"/><circle cx="188.5" cy="201.9" r="1.4"/><circle cx="190.2" cy="193.5" r="1.4"/><circle cx="196.3" cy="203.4" r="1.4"/><circle cx="197.4" cy="212.5" r="1.4"/><circle cx="194.1" cy="186.8" r="1.4"/><circle cx="187.9" cy="209.8" r="1.4"/><circle cx="193.8" cy="199.5" r="1.4"/><circle cx="203.1" cy="193.9" r="1.4"/><circle cx="192.4" cy="183.6" r="1.4"/><circle cx="190.4" cy="214.1" r="1.4"/><circle cx="193.6" cy="193.9" r="1.4"/><circle cx="202.1" cy="199.3" r="1.4"/><circle cx="201.9" cy="206.3" r="1.4"/><circle cx="189.4" cy="183.3" r="1.4"/><circle cx="192.9" cy="213.5" r="1.4"/><circle cx="197.3" cy="192.4" r="1.4"/><circle cx="195.0" cy="212.0" r="1.4"/><circle cx="187.7" cy="211.4" r="1.4"/><circle cx="198.3" cy="186.8" r="1.4"/><circle cx="189.7" cy="191.1" r="1.4"/><circle cx="195.9" cy="192.2" r="1.4"/><circle cx="194.4" cy="193.9" r="1.4"/><circle cx="193.3" cy="208.1" r="1.4"/><circle cx="200.2" cy="210.5" r="1.4"/><circle cx="194.7" cy="189.2" r="1.4"/><circle cx="193.4" cy="210.6" r="1.4"/><circle cx="195.4" cy="192.4" r="1.4"/><circle cx="190.6" cy="210.3" r="1.4"/><circle cx="196.5" cy="184.7" r="1.4"/><circle cx="201.9" cy="187.8" r="1.4"/><circle cx="191.1" cy="210.5" r="1.4"/><circle cx="189.6" cy="193.9" r="1.4"/><circle cx="203.4" cy="184.9" r="1.4"/><circle cx="193.1" cy="197.3" r="1.4"/><circle cx="189.1" cy="188.0" r="1.4"/><circle cx="194.1" cy="207.5" r="1.4"/><circle cx="188.6" cy="209.1" r="1.4"/><circle cx="190.8" cy="196.8" r="1.4"/><circle cx="189.6" cy="213.2" r="1.4"/><circle cx="209.6" cy="184.8" r="1.4"/><circle cx="195.6" cy="190.7" r="1.4"/><circle cx="188.1" cy="194.6" r="1.4"/><circle cx="198.0" cy="206.3" r="1.4"/><circle cx="197.8" cy="210.6" r="1.4"/><circle cx="189.4" cy="210.8" r="1.4"/><circle cx="196.7" cy="188.6" r="1.4"/><circle cx="190.4" cy="207.9" r="1.4"/><circle cx="195.9" cy="189.1" r="1.4"/><circle cx="192.1" cy="193.9" r="1.4"/><circle cx="188.4" cy="210.4" r="1.4"/><circle cx="190.5" cy="211.3" r="1.4"/><circle cx="199.7" cy="212.1" r="1.4"/><circle cx="191.2" cy="185.7" r="1.4"/><circle cx="201.8" cy="188.3" r="1.4"/><circle cx="188.5" cy="201.5" r="1.4"/><circle cx="194.2" cy="195.2" r="1.4"/><circle cx="192.7" cy="186.4" r="1.4"/><circle cx="195.1" cy="193.8" r="1.4"/><circle cx="194.9" cy="190.9" r="1.4"/><circle cx="188.7" cy="195.4" r="1.4"/><circle cx="194.3" cy="200.5" r="1.4"/><circle cx="198.2" cy="193.5" r="1.4"/><circle cx="188.8" cy="199.0" r="1.4"/><circle cx="189.6" cy="201.8" r="1.4"/><circle cx="197.1" cy="193.6" r="1.4"/><circle cx="193.4" cy="171.1" r="1.4"/><circle cx="188.3" cy="152.5" r="1.4"/><circle cx="215.8" cy="151.5" r="1.4"/><circle cx="217.8" cy="155.4" r="1.4"/><circle cx="195.9" cy="154.3" r="1.4"/><circle cx="211.0" cy="162.1" r="1.4"/><circle cx="213.2" cy="163.0" r="1.4"/><circle cx="202.4" cy="166.1" r="1.4"/><circle cx="191.5" cy="169.0" r="1.4"/><circle cx="204.3" cy="169.1" r="1.4"/><circle cx="209.4" cy="174.5" r="1.4"/><circle cx="209.5" cy="176.7" r="1.4"/><circle cx="197.2" cy="153.9" r="1.4"/><circle cx="216.7" cy="170.0" r="1.4"/><circle cx="195.8" cy="156.7" r="1.4"/><circle cx="213.0" cy="166.9" r="1.4"/><circle cx="198.1" cy="154.6" r="1.4"/><circle cx="218.5" cy="154.1" r="1.4"/><circle cx="193.7" cy="174.6" r="1.4"/><circle cx="200.0" cy="150.3" r="1.4"/><circle cx="192.1" cy="165.4" r="1.4"/><circle cx="216.1" cy="164.8" r="1.4"/><circle cx="216.3" cy="181.7" r="1.4"/><circle cx="200.7" cy="180.1" r="1.4"/><circle cx="190.9" cy="155.5" r="1.4"/><circle cx="191.1" cy="165.6" r="1.4"/><circle cx="211.8" cy="171.9" r="1.4"/><circle cx="196.6" cy="176.8" r="1.4"/><circle cx="216.1" cy="180.3" r="1.4"/><circle cx="214.5" cy="201.3" r="1.4"/><circle cx="206.3" cy="185.3" r="1.4"/><circle cx="225.6" cy="173.9" r="1.4"/><circle cx="203.5" cy="199.4" r="1.4"/><circle cx="204.2" cy="215.0" r="1.4"/><circle cx="200.6" cy="195.9" r="1.4"/><circle cx="195.7" cy="189.7" r="1.4"/><circle cx="217.4" cy="190.6" r="1.4"/><circle cx="214.7" cy="175.6" r="1.4"/><circle cx="206.4" cy="207.3" r="1.4"/><circle cx="224.6" cy="190.2" r="1.4"/><circle cx="213.0" cy="207.0" r="1.4"/><circle cx="227.5" cy="191.0" r="1.4"/><circle cx="217.5" cy="176.9" r="1.4"/><circle cx="208.7" cy="214.6" r="1.4"/><circle cx="211.8" cy="208.2" r="1.4"/><circle cx="211.0" cy="191.7" r="1.4"/><circle cx="206.6" cy="208.7" r="1.4"/><circle cx="224.7" cy="212.0" r="1.4"/><circle cx="214.5" cy="187.5" r="1.4"/><circle cx="212.7" cy="186.4" r="1.4"/><circle cx="201.7" cy="214.0" r="1.4"/><circle cx="206.8" cy="183.2" r="1.4"/><circle cx="207.1" cy="196.1" r="1.4"/><circle cx="206.9" cy="215.7" r="1.4"/><circle cx="218.7" cy="188.6" r="1.4"/><circle cx="218.1" cy="201.5" r="1.4"/><circle cx="206.4" cy="211.8" r="1.4"/><circle cx="205.3" cy="179.8" r="1.4"/><circle cx="225.6" cy="189.9" r="1.4"/><circle cx="207.6" cy="179.2" r="1.4"/><circle cx="216.4" cy="214.2" r="1.4"/><circle cx="201.4" cy="185.7" r="1.4"/><circle cx="225.2" cy="202.0" r="1.4"/><circle cx="203.9" cy="205.7" r="1.4"/><circle cx="201.5" cy="193.7" r="1.4"/><circle cx="196.9" cy="209.0" r="1.4"/><circle cx="205.0" cy="202.9" r="1.4"/><circle cx="202.2" cy="214.2" r="1.4"/><circle cx="215.7" cy="186.0" r="1.4"/><circle cx="209.9" cy="208.0" r="1.4"/><circle cx="199.2" cy="199.6" r="1.4"/><circle cx="204.4" cy="183.8" r="1.4"/><circle cx="210.6" cy="185.6" r="1.4"/><circle cx="210.6" cy="177.3" r="1.4"/><circle cx="223.8" cy="184.5" r="1.4"/><circle cx="223.0" cy="176.0" r="1.4"/><circle cx="200.5" cy="205.1" r="1.4"/><circle cx="218.4" cy="199.1" r="1.4"/><circle cx="209.4" cy="192.0" r="1.4"/><circle cx="216.0" cy="176.9" r="1.4"/><circle cx="226.2" cy="171.7" r="1.4"/><circle cx="217.4" cy="184.1" r="1.4"/><circle cx="210.0" cy="206.3" r="1.4"/><circle cx="223.0" cy="172.0" r="1.4"/><circle cx="219.5" cy="198.4" r="1.4"/><circle cx="210.4" cy="189.2" r="1.4"/><circle cx="205.7" cy="180.8" r="1.4"/><circle cx="212.7" cy="194.8" r="1.4"/><circle cx="217.5" cy="204.6" r="1.4"/><circle cx="207.6" cy="180.5" r="1.4"/><circle cx="208.3" cy="196.0" r="1.4"/><circle cx="215.5" cy="194.8" r="1.4"/><circle cx="201.4" cy="199.8" r="1.4"/><circle cx="211.3" cy="179.9" r="1.4"/><circle cx="221.2" cy="177.6" r="1.4"/><circle cx="213.3" cy="202.7" r="1.4"/><circle cx="218.5" cy="191.0" r="1.4"/><circle cx="212.5" cy="193.9" r="1.4"/><circle cx="224.8" cy="201.6" r="1.4"/><circle cx="198.2" cy="195.7" r="1.4"/><circle cx="213.4" cy="215.5" r="1.4"/><circle cx="220.7" cy="202.9" r="1.4"/><circle cx="206.8" cy="199.8" r="1.4"/><circle cx="212.0" cy="192.5" r="1.4"/><circle cx="209.2" cy="202.4" r="1.4"/><circle cx="208.3" cy="202.1" r="1.4"/><circle cx="223.3" cy="171.3" r="1.4"/><circle cx="196.7" cy="186.8" r="1.4"/><circle cx="131.3" cy="208.0" r="1.4"/><circle cx="130.1" cy="192.7" r="1.4"/><circle cx="124.3" cy="194.8" r="1.4"/><circle cx="125.1" cy="214.1" r="1.4"/><circle cx="127.8" cy="199.2" r="1.4"/><circle cx="131.6" cy="201.4" r="1.4"/><circle cx="127.6" cy="204.3" r="1.4"/><circle cx="131.9" cy="211.1" r="1.4"/><circle cx="123.0" cy="202.9" r="1.4"/><circle cx="131.2" cy="194.2" r="1.4"/><circle cx="130.1" cy="208.6" r="1.4"/><circle cx="131.6" cy="213.0" r="1.4"/><circle cx="125.4" cy="201.4" r="1.4"/><circle cx="129.0" cy="204.0" r="1.4"/><circle cx="125.2" cy="212.2" r="1.4"/><circle cx="132.0" cy="194.8" r="1.4"/><circle cx="131.7" cy="202.5" r="1.4"/><circle cx="119.9" cy="217.4" r="1.4"/><circle cx="131.1" cy="214.5" r="1.4"/><circle cx="119.8" cy="214.9" r="1.4"/><circle cx="128.7" cy="195.1" r="1.4"/><circle cx="131.6" cy="206.0" r="1.4"/><circle cx="131.8" cy="208.7" r="1.4"/><circle cx="131.3" cy="204.8" r="1.4"/><circle cx="124.7" cy="194.2" r="1.4"/><circle cx="129.2" cy="194.3" r="1.4"/><circle cx="117.3" cy="208.3" r="1.4"/><circle cx="120.3" cy="194.1" r="1.4"/><circle cx="125.9" cy="202.0" r="1.4"/><circle cx="131.1" cy="198.4" r="1.4"/><circle cx="128.5" cy="208.6" r="1.4"/><circle cx="123.8" cy="203.7" r="1.4"/><circle cx="130.2" cy="209.4" r="1.4"/><circle cx="130.3" cy="215.9" r="1.4"/><circle cx="128.9" cy="207.1" r="1.4"/><circle cx="130.1" cy="198.4" r="1.4"/><circle cx="130.8" cy="189.1" r="1.4"/><circle cx="127.8" cy="198.7" r="1.4"/><circle cx="131.5" cy="195.7" r="1.4"/><circle cx="129.5" cy="204.0" r="1.4"/><circle cx="132.4" cy="208.4" r="1.4"/><circle cx="130.8" cy="209.7" r="1.4"/><circle cx="124.4" cy="200.8" r="1.4"/><circle cx="120.0" cy="188.5" r="1.4"/><circle cx="132.4" cy="200.4" r="1.4"/><circle cx="124.5" cy="202.6" r="1.4"/><circle cx="123.9" cy="199.5" r="1.4"/><circle cx="132.4" cy="204.0" r="1.4"/><circle cx="123.4" cy="209.1" r="1.4"/><circle cx="126.9" cy="196.6" r="1.4"/><circle cx="124.8" cy="195.1" r="1.4"/><circle cx="131.1" cy="216.2" r="1.4"/><circle cx="131.4" cy="204.8" r="1.4"/><circle cx="126.7" cy="202.0" r="1.4"/><circle cx="128.6" cy="192.3" r="1.4"/><circle cx="131.7" cy="192.5" r="1.4"/><circle cx="126.0" cy="197.1" r="1.4"/><circle cx="130.3" cy="205.6" r="1.4"/><circle cx="130.8" cy="212.9" r="1.4"/><circle cx="127.5" cy="195.4" r="1.4"/><circle cx="126.6" cy="216.0" r="1.4"/><circle cx="124.7" cy="208.9" r="1.4"/><circle cx="129.9" cy="212.8" r="1.4"/><circle cx="132.3" cy="201.0" r="1.4"/><circle cx="129.5" cy="198.0" r="1.4"/><circle cx="127.5" cy="189.2" r="1.4"/><circle cx="129.9" cy="211.0" r="1.4"/><circle cx="130.1" cy="199.1" r="1.4"/><circle cx="132.0" cy="205.9" r="1.4"/><circle cx="130.9" cy="207.1" r="1.4"/><circle cx="130.4" cy="210.5" r="1.4"/><circle cx="129.6" cy="205.3" r="1.4"/><circle cx="122.1" cy="200.6" r="1.4"/><circle cx="129.7" cy="202.1" r="1.4"/><circle cx="130.9" cy="211.1" r="1.4"/><circle cx="132.0" cy="204.0" r="1.4"/><circle cx="128.8" cy="211.1" r="1.4"/><circle cx="123.5" cy="189.7" r="1.4"/><circle cx="126.6" cy="216.4" r="1.4"/><circle cx="129.6" cy="207.2" r="1.4"/><circle cx="131.0" cy="217.2" r="1.4"/><circle cx="129.7" cy="210.4" r="1.4"/><circle cx="118.3" cy="197.5" r="1.4"/><circle cx="128.3" cy="209.6" r="1.4"/><circle cx="130.0" cy="210.5" r="1.4"/><circle cx="129.4" cy="209.4" r="1.4"/><circle cx="125.4" cy="195.9" r="1.4"/><circle cx="128.9" cy="194.7" r="1.4"/><circle cx="131.4" cy="194.0" r="1.4"/><circle cx="127.9" cy="216.1" r="1.4"/><circle cx="132.4" cy="194.5" r="1.4"/><circle cx="126.7" cy="194.5" r="1.4"/><circle cx="128.8" cy="193.1" r="1.4"/><circle cx="130.8" cy="202.3" r="1.4"/><circle cx="129.2" cy="193.8" r="1.4"/><circle cx="127.8" cy="199.2" r="1.4"/><circle cx="131.6" cy="206.4" r="1.4"/><circle cx="117.8" cy="188.3" r="1.4"/><circle cx="128.8" cy="190.7" r="1.4"/><circle cx="129.6" cy="207.2" r="1.4"/><circle cx="128.2" cy="188.6" r="1.4"/><circle cx="130.7" cy="191.5" r="1.4"/><circle cx="132.4" cy="204.9" r="1.4"/><circle cx="129.2" cy="197.8" r="1.4"/><circle cx="131.4" cy="213.7" r="1.4"/><circle cx="130.2" cy="188.6" r="1.4"/><circle cx="128.6" cy="198.3" r="1.4"/><circle cx="122.3" cy="195.1" r="1.4"/><circle cx="122.6" cy="195.1" r="1.4"/><circle cx="130.8" cy="209.1" r="1.4"/><circle cx="131.0" cy="209.7" r="1.4"/><circle cx="131.3" cy="194.9" r="1.4"/><circle cx="127.1" cy="214.5" r="1.4"/><circle cx="130.0" cy="215.5" r="1.4"/><circle cx="131.9" cy="215.5" r="1.4"/><circle cx="130.3" cy="203.8" r="1.4"/><circle cx="127.3" cy="214.3" r="1.4"/><circle cx="125.6" cy="212.4" r="1.4"/><circle cx="130.4" cy="199.7" r="1.4"/><circle cx="126.4" cy="197.2" r="1.4"/><circle cx="130.0" cy="191.1" r="1.4"/><circle cx="132.1" cy="209.6" r="1.4"/><circle cx="128.5" cy="198.9" r="1.4"/><circle cx="127.4" cy="206.4" r="1.4"/><circle cx="124.8" cy="211.2" r="1.4"/><circle cx="128.4" cy="202.3" r="1.4"/><circle cx="126.7" cy="201.5" r="1.4"/><circle cx="130.5" cy="196.2" r="1.4"/><circle cx="129.7" cy="203.5" r="1.4"/><circle cx="131.7" cy="188.3" r="1.4"/><circle cx="115.0" cy="190.8" r="1.4"/><circle cx="107.3" cy="215.8" r="1.4"/><circle cx="106.1" cy="207.2" r="1.4"/><circle cx="105.6" cy="196.2" r="1.4"/><circle cx="112.6" cy="197.1" r="1.4"/><circle cx="107.2" cy="187.2" r="1.4"/><circle cx="114.2" cy="214.1" r="1.4"/><circle cx="104.3" cy="199.3" r="1.4"/><circle cx="103.6" cy="179.3" r="1.4"/><circle cx="108.7" cy="197.6" r="1.4"/><circle cx="106.0" cy="186.1" r="1.4"/><circle cx="124.1" cy="207.3" r="1.4"/><circle cx="110.0" cy="178.0" r="1.4"/><circle cx="120.6" cy="186.2" r="1.4"/><circle cx="103.1" cy="202.5" r="1.4"/><circle cx="110.3" cy="211.5" r="1.4"/><circle cx="123.5" cy="194.2" r="1.4"/><circle cx="118.7" cy="207.0" r="1.4"/><circle cx="111.6" cy="197.7" r="1.4"/><circle cx="107.3" cy="205.7" r="1.4"/><circle cx="118.6" cy="196.9" r="1.4"/><circle cx="117.9" cy="212.5" r="1.4"/><circle cx="114.0" cy="206.8" r="1.4"/><circle cx="109.5" cy="178.9" r="1.4"/><circle cx="124.9" cy="182.0" r="1.4"/><circle cx="105.7" cy="189.8" r="1.4"/><circle cx="119.3" cy="217.1" r="1.4"/><circle cx="108.9" cy="184.7" r="1.4"/><circle cx="115.1" cy="204.1" r="1.4"/><circle cx="113.3" cy="199.2" r="1.4"/><circle cx="101.9" cy="175.0" r="1.4"/><circle cx="84.8" cy="184.8" r="1.4"/><circle cx="236.4" cy="139.3" r="1.4"/><circle cx="230.9" cy="146.3" r="1.4"/><circle cx="234.5" cy="154.3" r="1.4"/><circle cx="241.3" cy="176.8" r="1.4"/><circle cx="251.8" cy="179.7" r="1.4"/><circle cx="276.3" cy="181.9" r="1.4"/><circle cx="281.1" cy="174.0" r="1.4"/><circle cx="226.7" cy="182.6" r="1.4"/><circle cx="104.5" cy="151.0" r="1.4"/><circle cx="97.0" cy="190.0" r="1.4"/><circle cx="93.0" cy="204.0" r="1.4"/><circle cx="96.0" cy="208.0" r="1.4"/><circle cx="110.0" cy="195.0" r="1.4"/><circle cx="112.0" cy="178.0" r="1.4"/><circle cx="220.0" cy="158.0" r="1.4"/><circle cx="205.0" cy="160.0" r="1.4"/><circle cx="212.0" cy="162.0" r="1.4"/><circle cx="198.0" cy="166.0" r="1.4"/><circle cx="215.0" cy="172.0" r="1.4"/><circle cx="223.0" cy="152.0" r="1.4"/><circle cx="238.0" cy="164.0" r="1.4"/><circle cx="232.0" cy="170.0" r="1.4"/><circle cx="245.0" cy="169.0" r="1.4"/><circle cx="250.0" cy="166.0" r="1.4"/><circle cx="190.0" cy="190.0" r="1.4"/><circle cx="205.0" cy="206.0" r="1.4"/><circle cx="210.0" cy="210.0" r="1.4"/><circle cx="218.0" cy="213.0" r="1.4"/><circle cx="100.0" cy="215.0" r="1.4"/><circle cx="104.0" cy="212.0" r="1.4"/><circle cx="225.0" cy="195.0" r="1.4"/><circle cx="233.0" cy="199.0" r="1.4"/></g>
<line x1="132.8" y1="37.0" x2="132.8" y2="229.2" stroke="#555" stroke-width="1" stroke-dasharray="2.2 0.9"/>
<line x1="187.4" y1="37.0" x2="187.4" y2="229.2" stroke="#555" stroke-width="1" stroke-dasharray="2.2 0.9"/>
<line x1="29.8" y1="221.2" x2="336.0" y2="221.2" stroke="#555" stroke-width="1" stroke-dasharray="2.2 0.9"/>
<line x1="29.8" y1="37.0" x2="29.8" y2="229.8" stroke="#222" stroke-width="1.3"/>
<line x1="29.2" y1="229.2" x2="336.0" y2="229.2" stroke="#222" stroke-width="1.3"/>
<line x1="26.8" y1="221.2" x2="29.8" y2="221.2" stroke="#222" stroke-width="1"/>
<text x="25.9" y="224.7" font-size="9.7" text-anchor="end" fill="#4d4d4d">0</text>
<line x1="26.8" y1="157.3" x2="29.8" y2="157.3" stroke="#222" stroke-width="1"/>
<text x="25.9" y="160.8" font-size="9.7" text-anchor="end" fill="#4d4d4d">5</text>
<line x1="26.8" y1="93.4" x2="29.8" y2="93.4" stroke="#222" stroke-width="1"/>
<text x="25.9" y="96.9" font-size="9.7" text-anchor="end" fill="#4d4d4d">10</text>
<line x1="91.8" y1="229.2" x2="91.8" y2="232.2" stroke="#222" stroke-width="1"/>
<text x="91.8" y="243.1" font-size="9.4" text-anchor="middle" fill="#4d4d4d">−2.5</text>
<line x1="160.1" y1="229.2" x2="160.1" y2="232.2" stroke="#222" stroke-width="1"/>
<text x="160.1" y="243.1" font-size="9.4" text-anchor="middle" fill="#4d4d4d">0.0</text>
<line x1="228.3" y1="229.2" x2="228.3" y2="232.2" stroke="#222" stroke-width="1"/>
<text x="228.3" y="243.1" font-size="9.4" text-anchor="middle" fill="#4d4d4d">2.5</text>
<line x1="296.6" y1="229.2" x2="296.6" y2="232.2" stroke="#222" stroke-width="1"/>
<text x="296.6" y="243.1" font-size="9.4" text-anchor="middle" fill="#4d4d4d">5.0</text>
<text x="151.2" y="255.4" font-size="10" fill="#222" textLength="64.8" lengthAdjust="spacingAndGlyphs">Log<tspan font-size="6.8" dy="1.9">2</tspan><tspan dy="-1.9"> fold change</tspan></text>
<text x="8.8" y="131.6" font-size="10.3" text-anchor="middle" fill="#222" transform="rotate(-90 8.8 131.6)">−Log<tspan font-size="7" dy="1.9">10</tspan><tspan dy="-1.9" font-style="italic"> P</tspan></text>
<text x="41.5" y="22.3" font-size="9.8" fill="#444" textLength="95.6" lengthAdjust="spacingAndGlyphs">Low in active UC vs C</text>
<text x="184.5" y="22.3" font-size="9.8" fill="#444" textLength="98.7" lengthAdjust="spacingAndGlyphs">High in active UC vs C</text>
<line x1="38.0" y1="27.5" x2="151.4" y2="27.5" stroke="#50555c" stroke-width="1.6"/>
<path d="M33.5 27.5 L40.5 24.2 L40.5 30.8 Z" fill="#50555c"/>
<line x1="179.0" y1="27.5" x2="297.0" y2="27.5" stroke="#50555c" stroke-width="1.6"/>
<path d="M301.3 27.5 L294.3 24.2 L294.3 30.8 Z" fill="#50555c"/>
<rect x="199.00" y="44.00" width="47.00" height="44.00" fill="#fff"/>
<circle cx="205.1" cy="53.0" r="3.1" fill="#4169e1" fill-opacity="0.5"/>
<circle cx="206.0" cy="73.5" r="3.1" fill="#ee1a12" fill-opacity="0.5"/>
<text x="214.8" y="55.9" font-size="7.2" fill="#222" textLength="25.4" lengthAdjust="spacingAndGlyphs">p−value</text>
<text x="215.7" y="76.0" font-size="7" fill="#222">p − value and log<tspan font-size="5" dy="1.5">2</tspan><tspan dy="-1.5"> FC</tspan></text>
<line x1="254.0" y1="154.0" x2="263.5" y2="145.5" stroke="#111" stroke-width="0.75"/>
<line x1="236.4" y1="139.3" x2="238.0" y2="137.2" stroke="#111" stroke-width="0.75"/>
<line x1="230.9" y1="146.3" x2="230.2" y2="143.4" stroke="#111" stroke-width="0.75"/>
<line x1="234.5" y1="154.3" x2="236.4" y2="156.0" stroke="#111" stroke-width="0.75"/>
<line x1="241.3" y1="176.8" x2="244.3" y2="174.0" stroke="#111" stroke-width="0.75"/>
<line x1="251.8" y1="179.7" x2="255.0" y2="182.8" stroke="#111" stroke-width="0.75"/>
<line x1="281.1" y1="174.0" x2="284.0" y2="171.6" stroke="#111" stroke-width="0.75"/>
<line x1="276.3" y1="181.9" x2="278.0" y2="184.1" stroke="#111" stroke-width="0.75"/>
<line x1="101.9" y1="175.0" x2="98.8" y2="175.0" stroke="#111" stroke-width="0.75"/>
<line x1="84.8" y1="184.8" x2="77.3" y2="188.0" stroke="#111" stroke-width="0.75"/>
<line x1="226.7" y1="182.6" x2="224.0" y2="184.5" stroke="#111" stroke-width="0.75"/>
<line x1="236.0" y1="179.6" x2="238.5" y2="175.0" stroke="#111" stroke-width="0.75"/>
<line x1="91.0" y1="190.0" x2="91.0" y2="185.7" stroke="#111" stroke-width="0.75"/>
<line x1="92.4" y1="196.0" x2="107.9" y2="203.5" stroke="#111" stroke-width="0.75"/>
<line x1="87.6" y1="203.0" x2="85.7" y2="203.6" stroke="#111" stroke-width="0.75"/>
<line x1="90.0" y1="205.0" x2="92.0" y2="212.8" stroke="#111" stroke-width="0.75"/>
<line x1="118.0" y1="167.6" x2="116.0" y2="172.0" stroke="#111" stroke-width="0.75"/>
<line x1="110.5" y1="175.0" x2="108.5" y2="176.0" stroke="#111" stroke-width="0.75"/>
<line x1="110.0" y1="190.0" x2="108.5" y2="190.0" stroke="#111" stroke-width="0.75"/>
<line x1="108.0" y1="214.0" x2="115.0" y2="216.0" stroke="#111" stroke-width="0.75"/>
<rect x="234.50" y="128.00" width="25.90" height="9.20" fill="#fff" stroke="#707070" stroke-width="0.7" rx="1"/>
<text x="247.4" y="135.4" font-size="7.9" text-anchor="middle" fill="#111" textLength="22.9" lengthAdjust="spacingAndGlyphs">CARD6</text>
<rect x="199.50" y="134.60" width="31.10" height="8.80" fill="#fff" stroke="#707070" stroke-width="0.7" rx="1"/>
<text x="215.1" y="141.7" font-size="7.9" text-anchor="middle" fill="#111" textLength="28.1" lengthAdjust="spacingAndGlyphs">ADGRG7</text>
<rect x="264.20" y="141.20" width="34.70" height="9.20" fill="#fff" stroke="#707070" stroke-width="0.7" rx="1"/>
<text x="281.5" y="148.7" font-size="7.9" text-anchor="middle" fill="#111" textLength="31.7" lengthAdjust="spacingAndGlyphs">GUCY1A3</text>
<rect x="236.40" y="153.90" width="25.10" height="9.60" fill="#fff" stroke="#707070" stroke-width="0.7" rx="1"/>
<text x="248.9" y="161.8" font-size="7.9" text-anchor="middle" fill="#111" textLength="22.1" lengthAdjust="spacingAndGlyphs">APOL3</text>
<rect x="202.60" y="170.50" width="34.40" height="9.10" fill="#fff" stroke="#707070" stroke-width="0.7" rx="1"/>
<text x="219.8" y="177.8" font-size="7.9" text-anchor="middle" fill="#111" textLength="31.4" lengthAdjust="spacingAndGlyphs">HLA−DMB</text>
<rect x="244.30" y="167.40" width="28.60" height="9.20" fill="#fff" stroke="#707070" stroke-width="0.7" rx="1"/>
<text x="258.6" y="174.8" font-size="7.9" text-anchor="middle" fill="#111" textLength="25.6" lengthAdjust="spacingAndGlyphs">ABCA12</text>
<rect x="277.00" y="162.40" width="34.10" height="9.20" fill="#fff" stroke="#707070" stroke-width="0.7" rx="1"/>
<text x="294.1" y="169.8" font-size="7.9" text-anchor="middle" fill="#111" textLength="31.1" lengthAdjust="spacingAndGlyphs">HLA−DRA</text>
<rect x="277.30" y="184.10" width="27.20" height="9.20" fill="#fff" stroke="#707070" stroke-width="0.7" rx="1"/>
<text x="290.9" y="191.6" font-size="7.9" text-anchor="middle" fill="#111" textLength="24.2" lengthAdjust="spacingAndGlyphs">NMUR2</text>
<rect x="250.80" y="182.80" width="22.80" height="9.00" fill="#fff" stroke="#707070" stroke-width="0.7" rx="1"/>
<text x="262.2" y="190.1" font-size="7.9" text-anchor="middle" fill="#111" textLength="19.8" lengthAdjust="spacingAndGlyphs">FABP6</text>
<rect x="201.90" y="184.50" width="31.40" height="9.10" fill="#fff" stroke="#707070" stroke-width="0.7" rx="1"/>
<text x="217.6" y="191.8" font-size="7.9" text-anchor="middle" fill="#111" textLength="28.4" lengthAdjust="spacingAndGlyphs">SLC34A2</text>
<rect x="77.60" y="170.80" width="21.20" height="8.80" fill="#fff" stroke="#707070" stroke-width="0.7" rx="1"/>
<text x="88.2" y="177.8" font-size="7.9" text-anchor="middle" fill="#111" textLength="18.2" lengthAdjust="spacingAndGlyphs">THBD</text>
<rect x="55.90" y="183.90" width="21.40" height="9.20" fill="#fff" stroke="#707070" stroke-width="0.7" rx="1"/>
<text x="66.6" y="191.3" font-size="7.9" text-anchor="middle" fill="#111" textLength="18.4" lengthAdjust="spacingAndGlyphs">NEFH</text>
<rect x="81.20" y="185.70" width="23.30" height="9.20" fill="#fff" stroke="#707070" stroke-width="0.7" rx="1"/>
<text x="92.8" y="193.2" font-size="7.9" text-anchor="middle" fill="#111" textLength="20.3" lengthAdjust="spacingAndGlyphs">GATA2</text>
<rect x="56.50" y="199.30" width="29.20" height="8.70" fill="#fff" stroke="#707070" stroke-width="0.7" rx="1"/>
<text x="71.1" y="206.2" font-size="7.9" text-anchor="middle" fill="#111" textLength="26.2" lengthAdjust="spacingAndGlyphs">SPESP1</text>
<rect x="74.30" y="212.80" width="34.80" height="8.80" fill="#fff" stroke="#707070" stroke-width="0.7" rx="1"/>
<text x="91.7" y="219.8" font-size="7.9" text-anchor="middle" fill="#111" textLength="31.8" lengthAdjust="spacingAndGlyphs">HIST1H4K</text>
<rect x="102.80" y="158.90" width="32.00" height="8.70" fill="#fff" stroke="#707070" stroke-width="0.7" rx="1"/>
<text x="118.8" y="165.8" font-size="7.9" text-anchor="middle" fill="#111" textLength="29.0" lengthAdjust="spacingAndGlyphs">FAM155B</text>
<rect x="108.50" y="172.00" width="23.40" height="8.30" fill="#fff" stroke="#707070" stroke-width="0.7" rx="1"/>
<text x="120.2" y="178.6" font-size="7.9" text-anchor="middle" fill="#111" textLength="20.4" lengthAdjust="spacingAndGlyphs">KRT12</text>
<rect x="108.50" y="186.20" width="21.40" height="8.30" fill="#fff" stroke="#707070" stroke-width="0.7" rx="1"/>
<text x="119.2" y="192.8" font-size="7.9" text-anchor="middle" fill="#111" textLength="18.4" lengthAdjust="spacingAndGlyphs">CHD5</text>
<rect x="107.90" y="199.30" width="20.20" height="8.30" fill="#fff" stroke="#707070" stroke-width="0.7" rx="1"/>
<text x="118.0" y="205.8" font-size="7.9" text-anchor="middle" fill="#111" textLength="17.2" lengthAdjust="spacingAndGlyphs">ZG16</text>
<rect x="113.20" y="212.30" width="30.90" height="8.30" fill="#fff" stroke="#707070" stroke-width="0.7" rx="1"/>
<text x="128.7" y="218.8" font-size="7.9" text-anchor="middle" fill="#111" textLength="27.9" lengthAdjust="spacingAndGlyphs">EPB41L3</text>
<rect x="353.90" y="22.60" width="17.51" height="11.62" fill="#8c00ff"/>
<rect x="371.11" y="22.60" width="17.51" height="11.62" fill="#c170ff"/>
<rect x="388.32" y="22.60" width="17.51" height="11.62" fill="#5500ff"/>
<rect x="405.53" y="22.60" width="17.51" height="11.62" fill="#8c00ff"/>
<rect x="422.74" y="22.60" width="17.51" height="11.62" fill="#e1caf6"/>
<rect x="439.95" y="22.60" width="17.51" height="11.62" fill="#c170ff"/>
<rect x="457.16" y="22.60" width="17.51" height="11.62" fill="#f3e6e5"/>
<rect x="474.37" y="22.60" width="17.23" height="11.62" fill="#8c00ff"/>
<rect x="492.60" y="22.60" width="17.51" height="11.62" fill="#ff927a"/>
<rect x="509.76" y="22.60" width="17.51" height="11.62" fill="#ff775f"/>
<rect x="526.92" y="22.60" width="17.51" height="11.62" fill="#d7adfa"/>
<rect x="544.08" y="22.60" width="17.51" height="11.62" fill="#ffb8a4"/>
<rect x="561.24" y="22.60" width="17.51" height="11.62" fill="#ff826a"/>
<rect x="578.40" y="22.60" width="17.51" height="11.62" fill="#ff0000"/>
<rect x="595.56" y="22.60" width="17.51" height="11.62" fill="#f3e6e5"/>
<rect x="612.72" y="22.60" width="17.18" height="11.62" fill="#8c00ff"/>
<text x="631.0" y="30.9" font-size="5.9" textLength="26.7" lengthAdjust="spacingAndGlyphs">HLA−DRA</text>
<rect x="353.90" y="33.92" width="17.51" height="11.62" fill="#c988ff"/>
<rect x="371.11" y="33.92" width="17.51" height="11.62" fill="#ffaa93"/>
<rect x="388.32" y="33.92" width="17.51" height="11.62" fill="#5500ff"/>
<rect x="405.53" y="33.92" width="17.51" height="11.62" fill="#a830ff"/>
<rect x="422.74" y="33.92" width="17.51" height="11.62" fill="#8c00ff"/>
<rect x="439.95" y="33.92" width="17.51" height="11.62" fill="#8c00ff"/>
<rect x="457.16" y="33.92" width="17.51" height="11.62" fill="#e2cff5"/>
<rect x="474.37" y="33.92" width="17.23" height="11.62" fill="#a830ff"/>
<rect x="492.60" y="33.92" width="17.51" height="11.62" fill="#ff9b83"/>
<rect x="509.76" y="33.92" width="17.51" height="11.62" fill="#ff0000"/>
<rect x="526.92" y="33.92" width="17.51" height="11.62" fill="#ff9b83"/>
<rect x="544.08" y="33.92" width="17.51" height="11.62" fill="#ff9b83"/>
<rect x="561.24" y="33.92" width="17.51" height="11.62" fill="#ff0000"/>
<rect x="578.40" y="33.92" width="17.51" height="11.62" fill="#ff6c54"/>
<rect x="595.56" y="33.92" width="17.51" height="11.62" fill="#c988ff"/>
<rect x="612.72" y="33.92" width="17.18" height="11.62" fill="#5500ff"/>
<text x="631.0" y="42.2" font-size="5.9" textLength="20.4" lengthAdjust="spacingAndGlyphs">NMUR2</text>
<rect x="353.90" y="45.24" width="17.51" height="11.62" fill="#dfc6f6"/>
<rect x="371.11" y="45.24" width="17.51" height="11.62" fill="#ffb8a4"/>
<rect x="388.32" y="45.24" width="17.51" height="11.62" fill="#dec1f7"/>
<rect x="405.53" y="45.24" width="17.51" height="11.62" fill="#e2cff5"/>
<rect x="422.74" y="45.24" width="17.51" height="11.62" fill="#d7adfa"/>
<rect x="439.95" y="45.24" width="17.51" height="11.62" fill="#a830ff"/>
<rect x="457.16" y="45.24" width="17.51" height="11.62" fill="#c170ff"/>
<rect x="474.37" y="45.24" width="17.23" height="11.62" fill="#b550ff"/>
<rect x="492.60" y="45.24" width="17.51" height="11.62" fill="#ff775f"/>
<rect x="509.76" y="45.24" width="17.51" height="11.62" fill="#ff0000"/>
<rect x="526.92" y="45.24" width="17.51" height="11.62" fill="#ece6ef"/>
<rect x="544.08" y="45.24" width="17.51" height="11.62" fill="#e8ddf2"/>
<rect x="561.24" y="45.24" width="17.51" height="11.62" fill="#ff927a"/>
<rect x="578.40" y="45.24" width="17.51" height="11.62" fill="#ff6c54"/>
<rect x="595.56" y="45.24" width="17.51" height="11.62" fill="#f3e6e5"/>
<rect x="612.72" y="45.24" width="17.18" height="11.62" fill="#cc90ff"/>
<text x="631.0" y="53.5" font-size="5.9" textLength="18.2" lengthAdjust="spacingAndGlyphs">FABP6</text>
<rect x="353.90" y="56.56" width="17.51" height="11.62" fill="#b550ff"/>
<rect x="371.11" y="56.56" width="17.51" height="11.62" fill="#c170ff"/>
<rect x="388.32" y="56.56" width="17.51" height="11.62" fill="#8100ff"/>
<rect x="405.53" y="56.56" width="17.51" height="11.62" fill="#5500ff"/>
<rect x="422.74" y="56.56" width="17.51" height="11.62" fill="#c988ff"/>
<rect x="439.95" y="56.56" width="17.51" height="11.62" fill="#dfc6f6"/>
<rect x="457.16" y="56.56" width="17.51" height="11.62" fill="#dec1f7"/>
<rect x="474.37" y="56.56" width="17.23" height="11.62" fill="#d9b5f9"/>
<rect x="492.60" y="56.56" width="17.51" height="11.62" fill="#ffbca9"/>
<rect x="509.76" y="56.56" width="17.51" height="11.62" fill="#eae1f0"/>
<rect x="526.92" y="56.56" width="17.51" height="11.62" fill="#c988ff"/>
<rect x="544.08" y="56.56" width="17.51" height="11.62" fill="#eeeaee"/>
<rect x="561.24" y="56.56" width="17.51" height="11.62" fill="#ff8870"/>
<rect x="578.40" y="56.56" width="17.51" height="11.62" fill="#ff8870"/>
<rect x="595.56" y="56.56" width="17.51" height="11.62" fill="#cc90ff"/>
<rect x="612.72" y="56.56" width="17.18" height="11.62" fill="#b858ff"/>
<text x="631.0" y="64.8" font-size="5.9" textLength="22.1" lengthAdjust="spacingAndGlyphs">ABCA12</text>
<rect x="353.90" y="67.88" width="17.51" height="11.62" fill="#cc90ff"/>
<rect x="371.11" y="67.88" width="17.51" height="11.62" fill="#dfc6f6"/>
<rect x="388.32" y="67.88" width="17.51" height="11.62" fill="#8100ff"/>
<rect x="405.53" y="67.88" width="17.51" height="11.62" fill="#5500ff"/>
<rect x="422.74" y="67.88" width="17.51" height="11.62" fill="#b550ff"/>
<rect x="439.95" y="67.88" width="17.51" height="11.62" fill="#9007ff"/>
<rect x="457.16" y="67.88" width="17.51" height="11.62" fill="#9007ff"/>
<rect x="474.37" y="67.88" width="17.23" height="11.62" fill="#b858ff"/>
<rect x="492.60" y="67.88" width="17.51" height="11.62" fill="#e2cff5"/>
<rect x="509.76" y="67.88" width="17.51" height="11.62" fill="#ffa58e"/>
<rect x="526.92" y="67.88" width="17.51" height="11.62" fill="#cc90ff"/>
<rect x="544.08" y="67.88" width="17.51" height="11.62" fill="#ffc4b2"/>
<rect x="561.24" y="67.88" width="17.51" height="11.62" fill="#ffb8a4"/>
<rect x="578.40" y="67.88" width="17.51" height="11.62" fill="#ffc0ae"/>
<rect x="595.56" y="67.88" width="17.51" height="11.62" fill="#dcbcf8"/>
<rect x="612.72" y="67.88" width="17.18" height="11.62" fill="#b248ff"/>
<text x="631.0" y="76.1" font-size="5.9" textLength="27.3" lengthAdjust="spacingAndGlyphs">HLA−DMB</text>
<rect x="353.90" y="79.20" width="17.51" height="11.62" fill="#cc90ff"/>
<rect x="371.11" y="79.20" width="17.51" height="11.62" fill="#d9b5f9"/>
<rect x="388.32" y="79.20" width="17.51" height="11.62" fill="#9007ff"/>
<rect x="405.53" y="79.20" width="17.51" height="11.62" fill="#c680ff"/>
<rect x="422.74" y="79.20" width="17.51" height="11.62" fill="#eeeaee"/>
<rect x="439.95" y="79.20" width="17.51" height="11.62" fill="#bb60ff"/>
<rect x="457.16" y="79.20" width="17.51" height="11.62" fill="#bb60ff"/>
<rect x="474.37" y="79.20" width="17.23" height="11.62" fill="#a830ff"/>
<rect x="492.60" y="79.20" width="17.51" height="11.62" fill="#ffaa93"/>
<rect x="509.76" y="79.20" width="17.51" height="11.62" fill="#a830ff"/>
<rect x="526.92" y="79.20" width="17.51" height="11.62" fill="#ece6ef"/>
<rect x="544.08" y="79.20" width="17.51" height="11.62" fill="#fae0d8"/>
<rect x="561.24" y="79.20" width="17.51" height="11.62" fill="#ffaa93"/>
<rect x="578.40" y="79.20" width="17.51" height="11.62" fill="#ff8d75"/>
<rect x="595.56" y="79.20" width="17.51" height="11.62" fill="#ff5038"/>
<rect x="612.72" y="79.20" width="17.18" height="11.62" fill="#dfc6f6"/>
<text x="631.0" y="87.5" font-size="5.9" textLength="26.8" lengthAdjust="spacingAndGlyphs">GUCY1A3</text>
<rect x="353.90" y="90.52" width="17.51" height="11.62" fill="#eeeaee"/>
<rect x="371.11" y="90.52" width="17.51" height="11.62" fill="#fcd8cd"/>
<rect x="388.32" y="90.52" width="17.51" height="11.62" fill="#e8ddf2"/>
<rect x="405.53" y="90.52" width="17.51" height="11.62" fill="#dfc6f6"/>
<rect x="422.74" y="90.52" width="17.51" height="11.62" fill="#fcd8cd"/>
<rect x="439.95" y="90.52" width="17.51" height="11.62" fill="#dfc6f6"/>
<rect x="457.16" y="90.52" width="17.51" height="11.62" fill="#f0e8ea"/>
<rect x="474.37" y="90.52" width="17.23" height="11.62" fill="#f0e8ea"/>
<rect x="492.60" y="90.52" width="17.51" height="11.62" fill="#ffaa93"/>
<rect x="509.76" y="90.52" width="17.51" height="11.62" fill="#ff0000"/>
<rect x="526.92" y="90.52" width="17.51" height="11.62" fill="#fbdcd2"/>
<rect x="544.08" y="90.52" width="17.51" height="11.62" fill="#ff4630"/>
<rect x="561.24" y="90.52" width="17.51" height="11.62" fill="#ff775f"/>
<rect x="578.40" y="90.52" width="17.51" height="11.62" fill="#ff6149"/>
<rect x="595.56" y="90.52" width="17.51" height="11.62" fill="#f0e8ea"/>
<rect x="612.72" y="90.52" width="17.18" height="11.62" fill="#f5e4e1"/>
<text x="631.0" y="98.8" font-size="5.9" textLength="19.5" lengthAdjust="spacingAndGlyphs">CARD6</text>
<rect x="353.90" y="101.84" width="17.51" height="11.62" fill="#d7adfa"/>
<rect x="371.11" y="101.84" width="17.51" height="11.62" fill="#c170ff"/>
<rect x="388.32" y="101.84" width="17.51" height="11.62" fill="#a830ff"/>
<rect x="405.53" y="101.84" width="17.51" height="11.62" fill="#c680ff"/>
<rect x="422.74" y="101.84" width="17.51" height="11.62" fill="#c988ff"/>
<rect x="439.95" y="101.84" width="17.51" height="11.62" fill="#a830ff"/>
<rect x="457.16" y="101.84" width="17.51" height="11.62" fill="#e4d4f4"/>
<rect x="474.37" y="101.84" width="17.23" height="11.62" fill="#d4a6fc"/>
<rect x="492.60" y="101.84" width="17.51" height="11.62" fill="#f5e4e1"/>
<rect x="509.76" y="101.84" width="17.51" height="11.62" fill="#ff9b83"/>
<rect x="526.92" y="101.84" width="17.51" height="11.62" fill="#d7adfa"/>
<rect x="544.08" y="101.84" width="17.51" height="11.62" fill="#ffb8a4"/>
<rect x="561.24" y="101.84" width="17.51" height="11.62" fill="#ffb39e"/>
<rect x="578.40" y="101.84" width="17.51" height="11.62" fill="#ff967e"/>
<rect x="595.56" y="101.84" width="17.51" height="11.62" fill="#cc90ff"/>
<rect x="612.72" y="101.84" width="17.18" height="11.62" fill="#dcbcf8"/>
<text x="631.0" y="110.1" font-size="5.9" textLength="18.5" lengthAdjust="spacingAndGlyphs">APOL3</text>
<rect x="353.90" y="113.16" width="17.51" height="11.62" fill="#ffbca9"/>
<rect x="371.11" y="113.16" width="17.51" height="11.62" fill="#ffc0ae"/>
<rect x="388.32" y="113.16" width="17.51" height="11.62" fill="#e4d4f4"/>
<rect x="405.53" y="113.16" width="17.51" height="11.62" fill="#ffc8b7"/>
<rect x="422.74" y="113.16" width="17.51" height="11.62" fill="#ffc8b7"/>
<rect x="439.95" y="113.16" width="17.51" height="11.62" fill="#dcbcf8"/>
<rect x="457.16" y="113.16" width="17.51" height="11.62" fill="#ffc8b7"/>
<rect x="474.37" y="113.16" width="17.23" height="11.62" fill="#f5e4e1"/>
<rect x="492.60" y="113.16" width="17.51" height="11.62" fill="#ff563e"/>
<rect x="509.76" y="113.16" width="17.51" height="11.62" fill="#ff0000"/>
<rect x="526.92" y="113.16" width="17.51" height="11.62" fill="#ffb8a4"/>
<rect x="544.08" y="113.16" width="17.51" height="11.62" fill="#ff3824"/>
<rect x="561.24" y="113.16" width="17.51" height="11.62" fill="#ff563e"/>
<rect x="578.40" y="113.16" width="17.51" height="11.62" fill="#ff2d1d"/>
<rect x="595.56" y="113.16" width="17.51" height="11.62" fill="#ffb8a4"/>
<rect x="612.72" y="113.16" width="17.18" height="11.62" fill="#fed0c2"/>
<text x="631.0" y="121.4" font-size="5.9" textLength="24.3" lengthAdjust="spacingAndGlyphs">ADGRG7</text>
<rect x="353.90" y="124.48" width="17.51" height="11.32" fill="#fae0d8"/>
<rect x="371.11" y="124.48" width="17.51" height="11.32" fill="#ffb39e"/>
<rect x="388.32" y="124.48" width="17.51" height="11.32" fill="#e4d4f4"/>
<rect x="405.53" y="124.48" width="17.51" height="11.32" fill="#b858ff"/>
<rect x="422.74" y="124.48" width="17.51" height="11.32" fill="#e2cff5"/>
<rect x="439.95" y="124.48" width="17.51" height="11.32" fill="#8c00ff"/>
<rect x="457.16" y="124.48" width="17.51" height="11.32" fill="#dcbcf8"/>
<rect x="474.37" y="124.48" width="17.23" height="11.32" fill="#dfc6f6"/>
<rect x="492.60" y="124.48" width="17.51" height="11.32" fill="#ffbca9"/>
<rect x="509.76" y="124.48" width="17.51" height="11.32" fill="#ff0000"/>
<rect x="526.92" y="124.48" width="17.51" height="11.32" fill="#dfc6f6"/>
<rect x="544.08" y="124.48" width="17.51" height="11.32" fill="#ff725a"/>
<rect x="561.24" y="124.48" width="17.51" height="11.32" fill="#ff9b83"/>
<rect x="578.40" y="124.48" width="17.51" height="11.32" fill="#ff8d75"/>
<rect x="595.56" y="124.48" width="17.51" height="11.32" fill="#ffb8a4"/>
<rect x="612.72" y="124.48" width="17.18" height="11.32" fill="#d9b5f9"/>
<text x="631.0" y="132.7" font-size="5.9" textLength="24.6" lengthAdjust="spacingAndGlyphs">SLC34A2</text>
<rect x="353.90" y="136.70" width="17.51" height="11.64" fill="#fae0d8"/>
<rect x="371.11" y="136.70" width="17.51" height="11.64" fill="#ebe3f0"/>
<rect x="388.32" y="136.70" width="17.51" height="11.64" fill="#ffb39e"/>
<rect x="405.53" y="136.70" width="17.51" height="11.64" fill="#ffa58e"/>
<rect x="422.74" y="136.70" width="17.51" height="11.64" fill="#e2cff5"/>
<rect x="439.95" y="136.70" width="17.51" height="11.64" fill="#d7adfa"/>
<rect x="457.16" y="136.70" width="17.51" height="11.64" fill="#dcbcf8"/>
<rect x="474.37" y="136.70" width="17.23" height="11.64" fill="#eae1f0"/>
<rect x="492.60" y="136.70" width="17.51" height="11.64" fill="#dcbcf8"/>
<rect x="509.76" y="136.70" width="17.51" height="11.64" fill="#cc90ff"/>
<rect x="526.92" y="136.70" width="17.51" height="11.64" fill="#e4d4f4"/>
<rect x="544.08" y="136.70" width="17.51" height="11.64" fill="#a022ff"/>
<rect x="561.24" y="136.70" width="17.51" height="11.64" fill="#bb60ff"/>
<rect x="578.40" y="136.70" width="17.51" height="11.64" fill="#bb60ff"/>
<rect x="595.56" y="136.70" width="17.51" height="11.64" fill="#e2cff5"/>
<rect x="612.72" y="136.70" width="17.18" height="11.64" fill="#e4d4f4"/>
<text x="631.0" y="145.0" font-size="5.9" textLength="17.9" lengthAdjust="spacingAndGlyphs">KRT12</text>
<rect x="353.90" y="148.04" width="17.51" height="11.64" fill="#ffccbc"/>
<rect x="371.11" y="148.04" width="17.51" height="11.64" fill="#ffb39e"/>
<rect x="388.32" y="148.04" width="17.51" height="11.64" fill="#ff8870"/>
<rect x="405.53" y="148.04" width="17.51" height="11.64" fill="#fbdcd2"/>
<rect x="422.74" y="148.04" width="17.51" height="11.64" fill="#fdd4c7"/>
<rect x="439.95" y="148.04" width="17.51" height="11.64" fill="#f3e6e5"/>
<rect x="457.16" y="148.04" width="17.51" height="11.64" fill="#e1caf6"/>
<rect x="474.37" y="148.04" width="17.23" height="11.64" fill="#e1caf6"/>
<rect x="492.60" y="148.04" width="17.51" height="11.64" fill="#e8ddf2"/>
<rect x="509.76" y="148.04" width="17.51" height="11.64" fill="#b858ff"/>
<rect x="526.92" y="148.04" width="17.51" height="11.64" fill="#e8ddf2"/>
<rect x="544.08" y="148.04" width="17.51" height="11.64" fill="#9c1bff"/>
<rect x="561.24" y="148.04" width="17.51" height="11.64" fill="#dcbcf8"/>
<rect x="578.40" y="148.04" width="17.51" height="11.64" fill="#5500ff"/>
<rect x="595.56" y="148.04" width="17.51" height="11.64" fill="#fbdcd2"/>
<rect x="612.72" y="148.04" width="17.18" height="11.64" fill="#e6d8f3"/>
<text x="631.0" y="156.3" font-size="5.9" textLength="15.7" lengthAdjust="spacingAndGlyphs">CHD5</text>
<rect x="353.90" y="159.38" width="17.51" height="11.64" fill="#fae0d8"/>
<rect x="371.11" y="159.38" width="17.51" height="11.64" fill="#ffc8b7"/>
<rect x="388.32" y="159.38" width="17.51" height="11.64" fill="#ffaa93"/>
<rect x="405.53" y="159.38" width="17.51" height="11.64" fill="#fbdcd2"/>
<rect x="422.74" y="159.38" width="17.51" height="11.64" fill="#dcbcf8"/>
<rect x="439.95" y="159.38" width="17.51" height="11.64" fill="#fed0c2"/>
<rect x="457.16" y="159.38" width="17.51" height="11.64" fill="#fed0c2"/>
<rect x="474.37" y="159.38" width="17.23" height="11.64" fill="#f0e8ea"/>
<rect x="492.60" y="159.38" width="17.51" height="11.64" fill="#b248ff"/>
<rect x="509.76" y="159.38" width="17.51" height="11.64" fill="#8c00ff"/>
<rect x="526.92" y="159.38" width="17.51" height="11.64" fill="#ece6ef"/>
<rect x="544.08" y="159.38" width="17.51" height="11.64" fill="#eeeaee"/>
<rect x="561.24" y="159.38" width="17.51" height="11.64" fill="#cc90ff"/>
<rect x="578.40" y="159.38" width="17.51" height="11.64" fill="#ffb39e"/>
<rect x="595.56" y="159.38" width="17.51" height="11.64" fill="#ffb39e"/>
<rect x="612.72" y="159.38" width="17.18" height="11.64" fill="#cc90ff"/>
<text x="631.0" y="167.6" font-size="5.9" textLength="25.6" lengthAdjust="spacingAndGlyphs">FAM155B</text>
<rect x="353.90" y="170.72" width="17.51" height="11.64" fill="#ffc8b7"/>
<rect x="371.11" y="170.72" width="17.51" height="11.64" fill="#dfc6f6"/>
<rect x="388.32" y="170.72" width="17.51" height="11.64" fill="#d4a6fc"/>
<rect x="405.53" y="170.72" width="17.51" height="11.64" fill="#eeeaee"/>
<rect x="422.74" y="170.72" width="17.51" height="11.64" fill="#5500ff"/>
<rect x="439.95" y="170.72" width="17.51" height="11.64" fill="#ffccbc"/>
<rect x="457.16" y="170.72" width="17.51" height="11.64" fill="#f8e2dc"/>
<rect x="474.37" y="170.72" width="17.23" height="11.64" fill="#d7adfa"/>
<rect x="492.60" y="170.72" width="17.51" height="11.64" fill="#5500ff"/>
<rect x="509.76" y="170.72" width="17.51" height="11.64" fill="#c680ff"/>
<rect x="526.92" y="170.72" width="17.51" height="11.64" fill="#5500ff"/>
<rect x="544.08" y="170.72" width="17.51" height="11.64" fill="#5500ff"/>
<rect x="561.24" y="170.72" width="17.51" height="11.64" fill="#8600ff"/>
<rect x="578.40" y="170.72" width="17.51" height="11.64" fill="#ffc4b2"/>
<rect x="595.56" y="170.72" width="17.51" height="11.64" fill="#f8e2dc"/>
<rect x="612.72" y="170.72" width="17.18" height="11.64" fill="#a830ff"/>
<text x="631.0" y="179.0" font-size="5.9" textLength="24.3" lengthAdjust="spacingAndGlyphs">EPB41L3</text>
<rect x="353.90" y="182.06" width="17.51" height="11.64" fill="#ffa088"/>
<rect x="371.11" y="182.06" width="17.51" height="11.64" fill="#ffc4b2"/>
<rect x="388.32" y="182.06" width="17.51" height="11.64" fill="#ff927a"/>
<rect x="405.53" y="182.06" width="17.51" height="11.64" fill="#f8e2dc"/>
<rect x="422.74" y="182.06" width="17.51" height="11.64" fill="#d9b5f9"/>
<rect x="439.95" y="182.06" width="17.51" height="11.64" fill="#d4a6fc"/>
<rect x="457.16" y="182.06" width="17.51" height="11.64" fill="#eeeaee"/>
<rect x="474.37" y="182.06" width="17.23" height="11.64" fill="#eeeaee"/>
<rect x="492.60" y="182.06" width="17.51" height="11.64" fill="#dfc6f6"/>
<rect x="509.76" y="182.06" width="17.51" height="11.64" fill="#c680ff"/>
<rect x="526.92" y="182.06" width="17.51" height="11.64" fill="#ffccbc"/>
<rect x="544.08" y="182.06" width="17.51" height="11.64" fill="#a830ff"/>
<rect x="561.24" y="182.06" width="17.51" height="11.64" fill="#d7adfa"/>
<rect x="578.40" y="182.06" width="17.51" height="11.64" fill="#b248ff"/>
<rect x="595.56" y="182.06" width="17.51" height="11.64" fill="#c988ff"/>
<rect x="612.72" y="182.06" width="17.18" height="11.64" fill="#d4a6fc"/>
<text x="631.0" y="190.3" font-size="5.9" textLength="15.7" lengthAdjust="spacingAndGlyphs">THBD</text>
<rect x="353.90" y="193.40" width="17.51" height="11.64" fill="#ffbca9"/>
<rect x="371.11" y="193.40" width="17.51" height="11.64" fill="#ffaa93"/>
<rect x="388.32" y="193.40" width="17.51" height="11.64" fill="#ff3824"/>
<rect x="405.53" y="193.40" width="17.51" height="11.64" fill="#ff0000"/>
<rect x="422.74" y="193.40" width="17.51" height="11.64" fill="#ff0000"/>
<rect x="439.95" y="193.40" width="17.51" height="11.64" fill="#ffaa93"/>
<rect x="457.16" y="193.40" width="17.51" height="11.64" fill="#ffbca9"/>
<rect x="474.37" y="193.40" width="17.23" height="11.64" fill="#ffb39e"/>
<rect x="492.60" y="193.40" width="17.51" height="11.64" fill="#ffa58e"/>
<rect x="509.76" y="193.40" width="17.51" height="11.64" fill="#ffbca9"/>
<rect x="526.92" y="193.40" width="17.51" height="11.64" fill="#ffbca9"/>
<rect x="544.08" y="193.40" width="17.51" height="11.64" fill="#9007ff"/>
<rect x="561.24" y="193.40" width="17.51" height="11.64" fill="#eae1f0"/>
<rect x="578.40" y="193.40" width="17.51" height="11.64" fill="#5500ff"/>
<rect x="595.56" y="193.40" width="17.51" height="11.64" fill="#ffc8b7"/>
<rect x="612.72" y="193.40" width="17.18" height="11.64" fill="#ff967e"/>
<text x="631.0" y="201.7" font-size="5.9" textLength="14.4" lengthAdjust="spacingAndGlyphs">ZG16</text>
<rect x="353.90" y="204.74" width="17.51" height="11.64" fill="#c988ff"/>
<rect x="371.11" y="204.74" width="17.51" height="11.64" fill="#8c00ff"/>
<rect x="388.32" y="204.74" width="17.51" height="11.64" fill="#ff725a"/>
<rect x="405.53" y="204.74" width="17.51" height="11.64" fill="#ff967e"/>
<rect x="422.74" y="204.74" width="17.51" height="11.64" fill="#eeeaee"/>
<rect x="439.95" y="204.74" width="17.51" height="11.64" fill="#ffbca9"/>
<rect x="457.16" y="204.74" width="17.51" height="11.64" fill="#ffbca9"/>
<rect x="474.37" y="204.74" width="17.23" height="11.64" fill="#ffc4b2"/>
<rect x="492.60" y="204.74" width="17.51" height="11.64" fill="#eeeaee"/>
<rect x="509.76" y="204.74" width="17.51" height="11.64" fill="#5500ff"/>
<rect x="526.92" y="204.74" width="17.51" height="11.64" fill="#9815ff"/>
<rect x="544.08" y="204.74" width="17.51" height="11.64" fill="#ae40ff"/>
<rect x="561.24" y="204.74" width="17.51" height="11.64" fill="#cc90ff"/>
<rect x="578.40" y="204.74" width="17.51" height="11.64" fill="#bb60ff"/>
<rect x="595.56" y="204.74" width="17.51" height="11.64" fill="#bb60ff"/>
<rect x="612.72" y="204.74" width="17.18" height="11.64" fill="#ffa58e"/>
<text x="631.0" y="213.0" font-size="5.9" textLength="18.9" lengthAdjust="spacingAndGlyphs">GATA2</text>
<rect x="353.90" y="216.08" width="17.51" height="11.64" fill="#e4d4f4"/>
<rect x="371.11" y="216.08" width="17.51" height="11.64" fill="#e1caf6"/>
<rect x="388.32" y="216.08" width="17.51" height="11.64" fill="#e4d4f4"/>
<rect x="405.53" y="216.08" width="17.51" height="11.64" fill="#dfc6f6"/>
<rect x="422.74" y="216.08" width="17.51" height="11.64" fill="#e2cff5"/>
<rect x="439.95" y="216.08" width="17.51" height="11.64" fill="#f5e4e1"/>
<rect x="457.16" y="216.08" width="17.51" height="11.64" fill="#dcbcf8"/>
<rect x="474.37" y="216.08" width="17.23" height="11.64" fill="#5500ff"/>
<rect x="492.60" y="216.08" width="17.51" height="11.64" fill="#e1caf6"/>
<rect x="509.76" y="216.08" width="17.51" height="11.64" fill="#e8ddf2"/>
<rect x="526.92" y="216.08" width="17.51" height="11.64" fill="#5500ff"/>
<rect x="544.08" y="216.08" width="17.51" height="11.64" fill="#5500ff"/>
<rect x="561.24" y="216.08" width="17.51" height="11.64" fill="#5500ff"/>
<rect x="578.40" y="216.08" width="17.51" height="11.64" fill="#5500ff"/>
<rect x="595.56" y="216.08" width="17.51" height="11.64" fill="#5500ff"/>
<rect x="612.72" y="216.08" width="17.18" height="11.64" fill="#5500ff"/>
<text x="631.0" y="224.3" font-size="5.9" textLength="27.5" lengthAdjust="spacingAndGlyphs">HIST1H4K</text>
<rect x="353.90" y="227.42" width="17.51" height="11.64" fill="#d9b5f9"/>
<rect x="371.11" y="227.42" width="17.51" height="11.64" fill="#ffb39e"/>
<rect x="388.32" y="227.42" width="17.51" height="11.64" fill="#ff775f"/>
<rect x="405.53" y="227.42" width="17.51" height="11.64" fill="#c680ff"/>
<rect x="422.74" y="227.42" width="17.51" height="11.64" fill="#cc90ff"/>
<rect x="439.95" y="227.42" width="17.51" height="11.64" fill="#ffbca9"/>
<rect x="457.16" y="227.42" width="17.51" height="11.64" fill="#e6d8f3"/>
<rect x="474.37" y="227.42" width="17.23" height="11.64" fill="#ff9b83"/>
<rect x="492.60" y="227.42" width="17.51" height="11.64" fill="#5500ff"/>
<rect x="509.76" y="227.42" width="17.51" height="11.64" fill="#5500ff"/>
<rect x="526.92" y="227.42" width="17.51" height="11.64" fill="#5500ff"/>
<rect x="544.08" y="227.42" width="17.51" height="11.64" fill="#c680ff"/>
<rect x="561.24" y="227.42" width="17.51" height="11.64" fill="#f8e2dc"/>
<rect x="578.40" y="227.42" width="17.51" height="11.64" fill="#5500ff"/>
<rect x="595.56" y="227.42" width="17.51" height="11.64" fill="#c680ff"/>
<rect x="612.72" y="227.42" width="17.18" height="11.64" fill="#f0e8ea"/>
<text x="631.0" y="235.7" font-size="5.9" textLength="22.4" lengthAdjust="spacingAndGlyphs">SPESP1</text>
<rect x="353.90" y="238.76" width="17.51" height="11.34" fill="#a830ff"/>
<rect x="371.11" y="238.76" width="17.51" height="11.34" fill="#ff9b83"/>
<rect x="388.32" y="238.76" width="17.51" height="11.34" fill="#fae0d8"/>
<rect x="405.53" y="238.76" width="17.51" height="11.34" fill="#fed0c2"/>
<rect x="422.74" y="238.76" width="17.51" height="11.34" fill="#dcbcf8"/>
<rect x="439.95" y="238.76" width="17.51" height="11.34" fill="#dcbcf8"/>
<rect x="457.16" y="238.76" width="17.51" height="11.34" fill="#ffb39e"/>
<rect x="474.37" y="238.76" width="17.23" height="11.34" fill="#b248ff"/>
<rect x="492.60" y="238.76" width="17.51" height="11.34" fill="#8c00ff"/>
<rect x="509.76" y="238.76" width="17.51" height="11.34" fill="#5a00ff"/>
<rect x="526.92" y="238.76" width="17.51" height="11.34" fill="#cc90ff"/>
<rect x="544.08" y="238.76" width="17.51" height="11.34" fill="#bb60ff"/>
<rect x="561.24" y="238.76" width="17.51" height="11.34" fill="#a830ff"/>
<rect x="578.40" y="238.76" width="17.51" height="11.34" fill="#cc90ff"/>
<rect x="595.56" y="238.76" width="17.51" height="11.34" fill="#ffc8b7"/>
<rect x="612.72" y="238.76" width="17.18" height="11.34" fill="#eae1f0"/>
<text x="631.0" y="247.0" font-size="5.9" textLength="15.7" lengthAdjust="spacingAndGlyphs">NEFH</text>
<line x1="352.3" y1="20.1" x2="490.6" y2="20.1" stroke="#22408c" stroke-width="1.4"/>
<line x1="493.3" y1="20.1" x2="631.2" y2="20.1" stroke="#d24444" stroke-width="1.4"/>
<text x="418.8" y="16.5" font-size="12.2" text-anchor="middle" fill="#111">C</text>
<text x="557.7" y="16.5" font-size="12.2" text-anchor="middle" fill="#111">aUC</text>
<text x="350.6" y="79.3" font-size="6.3" text-anchor="middle" fill="#111" transform="rotate(-90 350.6 79.3)">UP</text>
<text x="350.6" y="193.6" font-size="6.3" text-anchor="middle" fill="#111" transform="rotate(-90 350.6 193.6)">DOWN</text>
<defs><linearGradient id="lg" x1="0" y1="0" x2="0" y2="1"><stop offset="0.000" stop-color="#ff0000"/><stop offset="0.050" stop-color="#ff0000"/><stop offset="0.100" stop-color="#ff0000"/><stop offset="0.200" stop-color="#ff422c"/><stop offset="0.300" stop-color="#ff7d65"/><stop offset="0.400" stop-color="#ffb8a4"/><stop offset="0.500" stop-color="#eeeaee"/><stop offset="0.600" stop-color="#d7adfa"/><stop offset="0.700" stop-color="#bb60ff"/><stop offset="0.800" stop-color="#9815ff"/><stop offset="0.900" stop-color="#6600ff"/><stop offset="0.950" stop-color="#5500ff"/><stop offset="1.000" stop-color="#5300ff"/></linearGradient></defs>
<rect x="661.40" y="113.90" width="9.60" height="46.60" fill="url(#lg)"/>
<line x1="661.4" y1="114.6" x2="664.0" y2="114.6" stroke="#600" stroke-width="0.9" stroke-opacity="0.6"/>
<line x1="668.4" y1="114.6" x2="671.0" y2="114.6" stroke="#600" stroke-width="0.9" stroke-opacity="0.6"/>
<line x1="661.4" y1="159.6" x2="664.0" y2="159.6" stroke="#600" stroke-width="0.9" stroke-opacity="0.6"/>
<line x1="668.4" y1="159.6" x2="671.0" y2="159.6" stroke="#600" stroke-width="0.9" stroke-opacity="0.6"/>
<text x="661.9" y="109.8" font-size="8" font-weight="bold" fill="#111">matrix</text>
<text x="672.9" y="119.1" font-size="7.5" fill="#111">10</text>
<text x="672.9" y="140.9" font-size="7.5" fill="#111">5</text>
<text x="672.9" y="162.4" font-size="7.5" fill="#111">0</text>
<line x1="81.2" y1="296.2" x2="81.2" y2="433.9" stroke="#000" stroke-width="1.2"/>
<line x1="80.6" y1="433.3" x2="181.6" y2="433.3" stroke="#000" stroke-width="1.2"/>
<line x1="80.6" y1="433.3" x2="80.6" y2="439.2" stroke="#000" stroke-width="1.2"/>
<text x="80.9" y="448.9" font-size="8" text-anchor="middle">0</text>
<line x1="120.9" y1="433.3" x2="120.9" y2="439.2" stroke="#000" stroke-width="1.2"/>
<text x="121.2" y="448.9" font-size="8" text-anchor="middle">1</text>
<line x1="161.1" y1="433.3" x2="161.1" y2="439.2" stroke="#000" stroke-width="1.2"/>
<text x="161.4" y="448.9" font-size="8" text-anchor="middle">2</text>
<rect x="81.80" y="308.50" width="79.10" height="26.40" fill="#f60005"/>
<line x1="75.5" y1="321.7" x2="81.2" y2="321.7" stroke="#000" stroke-width="1.2"/>
<text x="72.7" y="325.3" font-size="10" text-anchor="end" font-style="italic">CCL2</text>
<rect x="81.80" y="339.80" width="62.60" height="26.20" fill="#f60005"/>
<line x1="75.5" y1="352.9" x2="81.2" y2="352.9" stroke="#000" stroke-width="1.2"/>
<text x="72.7" y="356.5" font-size="10" text-anchor="end" font-style="italic">CXCL11</text>
<rect x="81.80" y="371.10" width="50.10" height="26.20" fill="#f60005"/>
<line x1="75.5" y1="384.2" x2="81.2" y2="384.2" stroke="#000" stroke-width="1.2"/>
<text x="72.7" y="387.8" font-size="10" text-anchor="end" font-style="italic">CXCL1</text>
<rect x="81.80" y="402.40" width="44.10" height="26.20" fill="#f60005"/>
<line x1="75.5" y1="415.5" x2="81.2" y2="415.5" stroke="#000" stroke-width="1.2"/>
<text x="72.7" y="419.1" font-size="10" text-anchor="end" font-style="italic">CCL28</text>
<text x="29.9" y="357.5" font-size="9.7" text-anchor="middle" textLength="121.0" lengthAdjust="spacingAndGlyphs" transform="rotate(-90 29.9 357.5)">Colonoid Chemokine Genes</text>
<text x="132.2" y="461.2" font-size="10.3" text-anchor="middle" textLength="35.6" lengthAdjust="spacingAndGlyphs">Log2FC</text>
<line x1="254.3" y1="302.2" x2="254.3" y2="433.9" stroke="#000" stroke-width="1.3"/>
<line x1="248.0" y1="433.3" x2="324.0" y2="433.3" stroke="#000" stroke-width="1.3"/>
<line x1="248.0" y1="433.3" x2="254.3" y2="433.3" stroke="#000" stroke-width="1.3"/>
<text x="246.3" y="437.3" font-size="9.4" text-anchor="end">0</text>
<line x1="248.0" y1="407.2" x2="254.3" y2="407.2" stroke="#000" stroke-width="1.3"/>
<text x="246.3" y="411.2" font-size="9.4" text-anchor="end">2</text>
<line x1="248.0" y1="381.1" x2="254.3" y2="381.1" stroke="#000" stroke-width="1.3"/>
<text x="246.3" y="385.1" font-size="9.4" text-anchor="end">4</text>
<line x1="248.0" y1="355.0" x2="254.3" y2="355.0" stroke="#000" stroke-width="1.3"/>
<text x="246.3" y="359.0" font-size="9.4" text-anchor="end">6</text>
<line x1="248.0" y1="328.9" x2="254.3" y2="328.9" stroke="#000" stroke-width="1.3"/>
<text x="246.3" y="332.9" font-size="9.4" text-anchor="end">8</text>
<line x1="248.0" y1="302.8" x2="254.3" y2="302.8" stroke="#000" stroke-width="1.3"/>
<text x="246.3" y="306.8" font-size="9.4" text-anchor="end">10</text>
<line x1="271.8" y1="433.3" x2="271.8" y2="439.3" stroke="#000" stroke-width="1.3"/>
<line x1="302.2" y1="433.3" x2="302.2" y2="439.3" stroke="#000" stroke-width="1.3"/>
<text x="271.8" y="452.9" font-size="10.6" text-anchor="middle">C</text>
<text x="302.2" y="452.9" font-size="11" text-anchor="middle">aUC</text>
<line x1="271.0" y1="297.4" x2="303.1" y2="297.4" stroke="#000" stroke-width="1.3"/>
<text x="287.1" y="292.0" font-size="10.5" text-anchor="middle">0.0304</text>
<rect x="290.10" y="324.90" width="24.30" height="73.30" fill="none" stroke="#ff0a1a" stroke-width="1.2"/>
<line x1="290.1" y1="375.0" x2="314.4" y2="375.0" stroke="#ff0a1a" stroke-width="1.2"/>
<line x1="302.2" y1="324.9" x2="302.2" y2="314.2" stroke="#ff0a1a" stroke-width="1.2"/>
<line x1="295.4" y1="314.2" x2="308.9" y2="314.2" stroke="#ff0a1a" stroke-width="1.2"/>
<line x1="302.2" y1="398.2" x2="302.2" y2="399.6" stroke="#ff0a1a" stroke-width="1.2"/>
<line x1="295.4" y1="399.6" x2="308.9" y2="399.6" stroke="#ff0a1a" stroke-width="1.2"/>
<circle cx="302.2" cy="314.2" r="2.95" fill="none" stroke="#ff0a1a" stroke-width="1.2"/>
<circle cx="302.2" cy="354.0" r="2.95" fill="none" stroke="#ff0a1a" stroke-width="1.2"/>
<circle cx="296.7" cy="399.6" r="2.95" fill="none" stroke="#ff0a1a" stroke-width="1.2"/>
<circle cx="308.4" cy="396.3" r="2.95" fill="none" stroke="#ff0a1a" stroke-width="1.2"/>
<rect x="260.00" y="419.90" width="24.00" height="7.10" fill="none" stroke="#000" stroke-width="1.3"/>
<line x1="260.0" y1="422.6" x2="284.0" y2="422.6" stroke="#000" stroke-width="1.1"/>
<line x1="260.0" y1="425.0" x2="284.0" y2="425.0" stroke="#000" stroke-width="1.1"/>
<circle cx="261.9" cy="418.5" r="2.5" fill="#fff" stroke="#000" stroke-width="1.2"/>
<circle cx="261.9" cy="428.1" r="2.5" fill="#fff" stroke="#000" stroke-width="1.2"/>
<circle cx="281.8" cy="423.8" r="2.5" fill="#fff" stroke="#000" stroke-width="1.2"/>
<circle cx="271.9" cy="422.5" r="2.5" fill="#fff" stroke="#000" stroke-width="1.2"/>
<text x="216.0" y="368.6" font-size="10.6" text-anchor="middle" textLength="122.6" lengthAdjust="spacingAndGlyphs" transform="rotate(-90 216.0 368.6)">Extracellular CCL2 protein</text>
<text x="229.3" y="368.8" font-size="10.6" text-anchor="middle" textLength="68.0" lengthAdjust="spacingAndGlyphs" transform="rotate(-90 229.3 368.8)">(pg/µg protein)</text>
<line x1="404.5" y1="300.8" x2="404.5" y2="434.4" stroke="#000" stroke-width="1.3"/>
<line x1="398.2" y1="433.8" x2="477.3" y2="433.8" stroke="#000" stroke-width="1.3"/>
<line x1="398.2" y1="433.8" x2="404.5" y2="433.8" stroke="#000" stroke-width="1.3"/>
<text x="396.2" y="437.9" font-size="9.6" text-anchor="end">0.0</text>
<line x1="398.2" y1="400.7" x2="404.5" y2="400.7" stroke="#000" stroke-width="1.3"/>
<text x="396.2" y="404.8" font-size="9.6" text-anchor="end">0.2</text>
<line x1="398.2" y1="367.6" x2="404.5" y2="367.6" stroke="#000" stroke-width="1.3"/>
<text x="396.2" y="371.7" font-size="9.6" text-anchor="end">0.4</text>
<line x1="398.2" y1="334.4" x2="404.5" y2="334.4" stroke="#000" stroke-width="1.3"/>
<text x="396.2" y="338.6" font-size="9.6" text-anchor="end">0.6</text>
<line x1="398.2" y1="301.3" x2="404.5" y2="301.3" stroke="#000" stroke-width="1.3"/>
<text x="396.2" y="305.4" font-size="9.6" text-anchor="end">0.8</text>
<line x1="422.2" y1="433.8" x2="422.2" y2="439.8" stroke="#000" stroke-width="1.3"/>
<line x1="453.6" y1="433.8" x2="453.6" y2="439.8" stroke="#000" stroke-width="1.3"/>
<text x="422.2" y="452.9" font-size="10.6" text-anchor="middle">C</text>
<text x="453.6" y="452.9" font-size="11" text-anchor="middle">aUC</text>
<line x1="421.9" y1="304.2" x2="454.4" y2="304.2" stroke="#000" stroke-width="1.3"/>
<text x="438.1" y="299.6" font-size="10.5" text-anchor="middle">0.0254</text>
<rect x="441.70" y="331.10" width="24.50" height="56.10" fill="none" stroke="#ff0a1a" stroke-width="1.2"/>
<line x1="441.7" y1="371.0" x2="466.2" y2="371.0" stroke="#ff0a1a" stroke-width="1.2"/>
<line x1="453.7" y1="331.1" x2="453.7" y2="321.5" stroke="#ff0a1a" stroke-width="1.2"/>
<line x1="446.9" y1="321.5" x2="460.4" y2="321.5" stroke="#ff0a1a" stroke-width="1.2"/>
<line x1="453.7" y1="387.2" x2="453.7" y2="388.8" stroke="#ff0a1a" stroke-width="1.2"/>
<line x1="446.9" y1="388.8" x2="460.4" y2="388.8" stroke="#ff0a1a" stroke-width="1.2"/>
<circle cx="453.7" cy="321.5" r="2.95" fill="none" stroke="#ff0a1a" stroke-width="1.2"/>
<circle cx="453.7" cy="357.2" r="2.95" fill="none" stroke="#ff0a1a" stroke-width="1.2"/>
<circle cx="447.7" cy="388.8" r="2.95" fill="none" stroke="#ff0a1a" stroke-width="1.2"/>
<circle cx="459.6" cy="385.0" r="2.95" fill="none" stroke="#ff0a1a" stroke-width="1.2"/>
<rect x="410.00" y="403.20" width="25.10" height="13.80" fill="none" stroke="#000" stroke-width="1.2"/>
<line x1="410.0" y1="410.6" x2="435.1" y2="410.6" stroke="#000" stroke-width="1.2"/>
<line x1="422.2" y1="403.2" x2="422.2" y2="400.8" stroke="#000" stroke-width="1.2"/>
<line x1="415.4" y1="400.8" x2="428.9" y2="400.8" stroke="#000" stroke-width="1.2"/>
<line x1="422.2" y1="417.0" x2="422.2" y2="419.8" stroke="#000" stroke-width="1.2"/>
<line x1="415.4" y1="419.8" x2="428.9" y2="419.8" stroke="#000" stroke-width="1.2"/>
<circle cx="421.9" cy="400.8" r="2.95" fill="none" stroke="#000" stroke-width="1.2"/>
<circle cx="416.7" cy="408.7" r="2.95" fill="none" stroke="#000" stroke-width="1.2"/>
<circle cx="428.3" cy="411.9" r="2.95" fill="none" stroke="#000" stroke-width="1.2"/>
<circle cx="421.9" cy="420.1" r="2.95" fill="none" stroke="#000" stroke-width="1.2"/>
<text x="362.9" y="368.5" font-size="10.6" text-anchor="middle" textLength="137.0" lengthAdjust="spacingAndGlyphs" transform="rotate(-90 362.9 368.5)">Extracellular CXCL11 protein</text>
<text x="376.1" y="369.0" font-size="10.6" text-anchor="middle" textLength="71.5" lengthAdjust="spacingAndGlyphs" transform="rotate(-90 376.1 369.0)">(pg/µg protein)</text>
<line x1="549.7" y1="301.3" x2="549.7" y2="434.3" stroke="#000" stroke-width="1.3"/>
<line x1="543.4" y1="433.7" x2="617.3" y2="433.7" stroke="#000" stroke-width="1.3"/>
<line x1="543.4" y1="433.7" x2="549.7" y2="433.7" stroke="#000" stroke-width="1.3"/>
<text x="541.8" y="437.8" font-size="9.6" text-anchor="end">0.0</text>
<line x1="543.4" y1="407.3" x2="549.7" y2="407.3" stroke="#000" stroke-width="1.3"/>
<text x="541.8" y="411.5" font-size="9.6" text-anchor="end">0.2</text>
<line x1="543.4" y1="381.0" x2="549.7" y2="381.0" stroke="#000" stroke-width="1.3"/>
<text x="541.8" y="385.1" font-size="9.6" text-anchor="end">0.4</text>
<line x1="543.4" y1="354.6" x2="549.7" y2="354.6" stroke="#000" stroke-width="1.3"/>
<text x="541.8" y="358.7" font-size="9.6" text-anchor="end">0.6</text>
<line x1="543.4" y1="328.3" x2="549.7" y2="328.3" stroke="#000" stroke-width="1.3"/>
<text x="541.8" y="332.4" font-size="9.6" text-anchor="end">0.8</text>
<line x1="543.4" y1="301.9" x2="549.7" y2="301.9" stroke="#000" stroke-width="1.3"/>
<text x="541.8" y="306.0" font-size="9.6" text-anchor="end">1.0</text>
<line x1="567.8" y1="433.7" x2="567.8" y2="439.7" stroke="#000" stroke-width="1.3"/>
<line x1="599.1" y1="433.7" x2="599.1" y2="439.7" stroke="#000" stroke-width="1.3"/>
<text x="567.8" y="452.9" font-size="10.6" text-anchor="middle">C</text>
<text x="599.1" y="452.9" font-size="11" text-anchor="middle">aUC</text>
<line x1="567.5" y1="315.8" x2="599.9" y2="315.8" stroke="#000" stroke-width="1.3"/>
<text x="583.7" y="311.2" font-size="10.5" text-anchor="middle">0.0009</text>
<rect x="586.50" y="336.40" width="25.30" height="35.60" fill="none" stroke="#ff0a1a" stroke-width="1.2"/>
<line x1="586.5" y1="349.3" x2="611.8" y2="349.3" stroke="#ff0a1a" stroke-width="1.2"/>
<line x1="599.1" y1="336.4" x2="599.1" y2="333.0" stroke="#ff0a1a" stroke-width="1.2"/>
<line x1="592.4" y1="333.0" x2="605.9" y2="333.0" stroke="#ff0a1a" stroke-width="1.2"/>
<line x1="599.1" y1="372.0" x2="599.1" y2="378.6" stroke="#ff0a1a" stroke-width="1.2"/>
<line x1="592.4" y1="378.6" x2="605.9" y2="378.6" stroke="#ff0a1a" stroke-width="1.2"/>
<circle cx="599.1" cy="333.0" r="2.95" fill="none" stroke="#ff0a1a" stroke-width="1.2"/>
<circle cx="599.1" cy="344.1" r="2.95" fill="none" stroke="#ff0a1a" stroke-width="1.2"/>
<circle cx="599.1" cy="353.8" r="2.95" fill="none" stroke="#ff0a1a" stroke-width="1.2"/>
<circle cx="599.1" cy="378.6" r="2.95" fill="none" stroke="#ff0a1a" stroke-width="1.2"/>
<rect x="555.60" y="410.80" width="25.30" height="9.50" fill="none" stroke="#000" stroke-width="1.2"/>
<line x1="555.6" y1="412.8" x2="580.9" y2="412.8" stroke="#000" stroke-width="1.2"/>
<line x1="567.8" y1="410.8" x2="567.8" y2="408.8" stroke="#000" stroke-width="1.2"/>
<line x1="561.0" y1="408.8" x2="574.5" y2="408.8" stroke="#000" stroke-width="1.2"/>
<line x1="567.8" y1="420.3" x2="567.8" y2="423.5" stroke="#000" stroke-width="1.2"/>
<line x1="561.0" y1="423.5" x2="574.5" y2="423.5" stroke="#000" stroke-width="1.2"/>
<circle cx="558.0" cy="408.4" r="2.95" fill="none" stroke="#000" stroke-width="1.2"/>
<circle cx="567.8" cy="413.0" r="2.95" fill="none" stroke="#000" stroke-width="1.2"/>
<circle cx="578.2" cy="413.0" r="2.95" fill="none" stroke="#000" stroke-width="1.2"/>
<circle cx="567.8" cy="423.8" r="2.95" fill="none" stroke="#000" stroke-width="1.2"/>
<text x="509.1" y="367.8" font-size="10.6" text-anchor="middle" textLength="132.5" lengthAdjust="spacingAndGlyphs" transform="rotate(-90 509.1 367.8)">Extracellular CXCL1 protein</text>
<text x="522.6" y="368.5" font-size="10.6" text-anchor="middle" textLength="67.5" lengthAdjust="spacingAndGlyphs" transform="rotate(-90 522.6 368.5)">(pg/µg protein)</text>
<line x1="549.2" y1="475.0" x2="549.2" y2="615.5" stroke="#000" stroke-width="1.3"/>
<line x1="543.0" y1="614.9" x2="642.5" y2="614.9" stroke="#000" stroke-width="1.3"/>
<line x1="543.0" y1="614.9" x2="549.2" y2="614.9" stroke="#000" stroke-width="1.3"/>
<text x="542.0" y="618.8" font-size="10.6" text-anchor="end">0</text>
<line x1="543.0" y1="580.0" x2="549.2" y2="580.0" stroke="#000" stroke-width="1.3"/>
<text x="542.0" y="583.9" font-size="10.6" text-anchor="end">2000</text>
<line x1="543.0" y1="545.1" x2="549.2" y2="545.1" stroke="#000" stroke-width="1.3"/>
<text x="542.0" y="549.0" font-size="10.6" text-anchor="end">4000</text>
<line x1="543.0" y1="510.2" x2="549.2" y2="510.2" stroke="#000" stroke-width="1.3"/>
<text x="542.0" y="514.1" font-size="10.6" text-anchor="end">6000</text>
<line x1="543.0" y1="475.3" x2="549.2" y2="475.3" stroke="#000" stroke-width="1.3"/>
<text x="542.0" y="479.2" font-size="10.6" text-anchor="end">8000</text>
<line x1="575.4" y1="614.9" x2="575.4" y2="620.0" stroke="#000" stroke-width="1.3"/>
<line x1="615.3" y1="614.9" x2="615.3" y2="620.0" stroke="#000" stroke-width="1.3"/>
<text x="575.4" y="631.8" font-size="10.6" text-anchor="middle">C</text>
<text x="615.3" y="631.8" font-size="11" text-anchor="middle">aUC</text>
<line x1="575.9" y1="489.6" x2="615.0" y2="489.6" stroke="#000" stroke-width="1.3"/>
<text x="594.3" y="484.5" font-size="10.5" text-anchor="middle">0.0434</text>
<rect x="602.70" y="520.50" width="25.30" height="46.70" fill="none" stroke="#f73e46" stroke-width="1.2"/>
<line x1="602.7" y1="562.6" x2="628.0" y2="562.6" stroke="#f73e46" stroke-width="1.2"/>
<line x1="615.3" y1="520.5" x2="615.3" y2="506.4" stroke="#f73e46" stroke-width="1.2"/>
<line x1="608.5" y1="506.4" x2="622.0" y2="506.4" stroke="#f73e46" stroke-width="1.2"/>
<line x1="615.3" y1="567.2" x2="615.3" y2="568.0" stroke="#f73e46" stroke-width="1.2"/>
<line x1="608.5" y1="568.0" x2="622.0" y2="568.0" stroke="#f73e46" stroke-width="1.2"/>
<circle cx="615.3" cy="506.4" r="2.95" fill="none" stroke="#f73e46" stroke-width="1.2"/>
<circle cx="609.7" cy="559.6" r="2.95" fill="none" stroke="#f73e46" stroke-width="1.2"/>
<circle cx="609.7" cy="568.0" r="2.95" fill="none" stroke="#f73e46" stroke-width="1.2"/>
<circle cx="620.6" cy="564.9" r="2.95" fill="none" stroke="#f73e46" stroke-width="1.2"/>
<rect x="562.80" y="577.10" width="25.40" height="25.10" fill="none" stroke="#000" stroke-width="1.2"/>
<line x1="562.8" y1="595.2" x2="588.2" y2="595.2" stroke="#000" stroke-width="1.2"/>
<line x1="575.4" y1="577.1" x2="575.4" y2="572.1" stroke="#000" stroke-width="1.2"/>
<line x1="568.6" y1="572.1" x2="582.1" y2="572.1" stroke="#000" stroke-width="1.2"/>
<line x1="575.4" y1="602.2" x2="575.4" y2="603.4" stroke="#000" stroke-width="1.2"/>
<line x1="568.6" y1="603.4" x2="582.1" y2="603.4" stroke="#000" stroke-width="1.2"/>
<circle cx="575.4" cy="572.1" r="2.95" fill="none" stroke="#000" stroke-width="1.2"/>
<circle cx="575.4" cy="590.5" r="2.95" fill="none" stroke="#000" stroke-width="1.2"/>
<circle cx="581.2" cy="599.9" r="2.95" fill="none" stroke="#000" stroke-width="1.2"/>
<circle cx="569.8" cy="604.5" r="2.95" fill="none" stroke="#000" stroke-width="1.2"/>
<text x="499.4" y="545.4" font-size="10.6" text-anchor="middle" textLength="103.5" lengthAdjust="spacingAndGlyphs" transform="rotate(-90 499.4 545.4)">Neutrophil chemotaxis</text>
<text x="511.6" y="545.4" font-size="10.6" text-anchor="middle" textLength="104.0" lengthAdjust="spacingAndGlyphs" transform="rotate(-90 511.6 545.4)">(Cell count/µg protein)</text>
<rect x="35" y="523" width="36.4" height="35.8" fill="#d4d4d4"/><rect x="36.5" y="524.5" width="33.4" height="32.8" fill="#dcdcdc"/><ellipse cx="53.3" cy="540.4" rx="14" ry="13.4" fill="#e2e2e2" stroke="#7a7a7a" stroke-width="0.9" transform="rotate(-15 53.3 540.4)"/><ellipse cx="53.3" cy="540.4" rx="11.8" ry="11.3" fill="none" stroke="#c4c4c4" stroke-width="0.7" stroke-dasharray="1 1.5"/><circle cx="53.7" cy="546.1" r="0.9" fill="#f2f2f2"/><circle cx="47.3" cy="541.4" r="0.9" fill="#bcbcbc"/><circle cx="47.6" cy="541.5" r="0.9" fill="#c8c8c8"/><circle cx="44.7" cy="542.0" r="0.6" fill="#b0b0b0"/><circle cx="54.9" cy="538.5" r="0.8" fill="#c8c8c8"/><circle cx="45.6" cy="539.3" r="0.5" fill="#bcbcbc"/><circle cx="53.7" cy="540.3" r="0.8" fill="#bcbcbc"/><circle cx="52.5" cy="546.6" r="0.8" fill="#b0b0b0"/><circle cx="56.9" cy="538.4" r="0.9" fill="#b0b0b0"/><circle cx="55.9" cy="543.3" r="0.5" fill="#bcbcbc"/><circle cx="55.4" cy="550.3" r="0.8" fill="#b0b0b0"/><circle cx="56.0" cy="536.9" r="0.7" fill="#b0b0b0"/><circle cx="49.1" cy="539.5" r="0.9" fill="#c8c8c8"/><circle cx="49.3" cy="531.5" r="0.9" fill="#f2f2f2"/><circle cx="52.5" cy="538.9" r="0.9" fill="#f2f2f2"/><circle cx="58.2" cy="537.0" r="0.7" fill="#c8c8c8"/><circle cx="56.1" cy="540.2" r="0.4" fill="#bcbcbc"/><circle cx="59.6" cy="532.1" r="0.6" fill="#bcbcbc"/><circle cx="61.9" cy="544.2" r="0.5" fill="#bcbcbc"/><circle cx="54.4" cy="531.3" r="0.7" fill="#bcbcbc"/><circle cx="53.6" cy="536.4" r="0.7" fill="#f2f2f2"/><circle cx="55.9" cy="539.0" r="0.9" fill="#c8c8c8"/><circle cx="53.0" cy="541.2" r="0.9" fill="#bcbcbc"/><circle cx="56.3" cy="539.9" r="0.5" fill="#f2f2f2"/><circle cx="62.1" cy="542.8" r="0.6" fill="#f2f2f2"/><circle cx="59.1" cy="547.3" r="0.6" fill="#b0b0b0"/><circle cx="46.6" cy="539.6" r="0.7" fill="#bcbcbc"/><circle cx="58.3" cy="538.5" r="0.7" fill="#b0b0b0"/><circle cx="51.2" cy="530.8" r="0.9" fill="#b0b0b0"/><circle cx="47.6" cy="539.6" r="0.8" fill="#bcbcbc"/><circle cx="56.6" cy="540.1" r="0.7" fill="#b0b0b0"/><circle cx="52.9" cy="539.9" r="0.6" fill="#f2f2f2"/><circle cx="51.7" cy="537.1" r="0.8" fill="#f2f2f2"/><circle cx="53.9" cy="540.5" r="0.9" fill="#bcbcbc"/><circle cx="53.3" cy="545.2" r="0.5" fill="#f2f2f2"/><circle cx="56.5" cy="547.7" r="0.6" fill="#f2f2f2"/><circle cx="47.5" cy="546.1" r="0.9" fill="#bcbcbc"/><circle cx="52.7" cy="539.1" r="0.7" fill="#c8c8c8"/><circle cx="52.9" cy="543.8" r="0.7" fill="#b0b0b0"/><circle cx="58.5" cy="544.0" r="0.7" fill="#f2f2f2"/><text x="52.7" y="572.5" font-size="10.8" text-anchor="middle" fill="#111" textLength="50" lengthAdjust="spacingAndGlyphs">C vs aUC</text><line x1="75.7" y1="546.2" x2="102.5" y2="546.2" stroke="#222" stroke-width="0.9"/><path d="M95.5 542.3 L103 546.2 L95.5 550.1" fill="none" stroke="#222" stroke-width="0.9"/><rect x="106.7" y="557.6" width="221.6" height="1.2" fill="#e4e8f0"/><rect x="106.7" y="558.7" width="221.6" height="2.1" fill="#9a9a9a"/><rect x="107.2" y="534.4" width="138.3" height="22.8" fill="#fde39b" stroke="#22315d" stroke-width="1.3"/><rect x="245.5" y="534.4" width="82.5" height="22.8" fill="#f79692" stroke="#22315d" stroke-width="1.3"/><line x1="106.9" y1="557" x2="106.9" y2="562.5" stroke="#666" stroke-width="0.9"/><line x1="245.5" y1="557" x2="245.5" y2="562.5" stroke="#666" stroke-width="0.9"/><line x1="327.8" y1="557" x2="327.8" y2="562.5" stroke="#666" stroke-width="0.9"/><text x="176.8" y="549.7" font-size="10.3" text-anchor="middle" fill="#111" textLength="104.5" lengthAdjust="spacingAndGlyphs">Differentiation medium</text><text x="286.4" y="544.2" font-size="10.3" text-anchor="middle" fill="#111">Serum-free</text><text x="286.4" y="555.9" font-size="10.3" text-anchor="middle" fill="#111">medium</text><text x="219.4" y="510.4" font-size="13.4" text-anchor="middle" fill="#111" textLength="110" lengthAdjust="spacingAndGlyphs">Chemotaxis assay</text><text x="106.7" y="572.7" font-size="8.9" text-anchor="middle" fill="#111">0</text><text x="245.5" y="572.7" font-size="8.9" text-anchor="middle" fill="#111">2</text><text x="327.3" y="572.7" font-size="8.9" text-anchor="middle" fill="#111">3</text><text x="218.8" y="586.4" font-size="8.8" text-anchor="middle" fill="#111" textLength="47.5" lengthAdjust="spacingAndGlyphs">Time (days)</text><path d="M360.4 506 L360.4 573 Q360.4 579 366.4 579 L438.6 579 Q444.6 579 444.6 573 L444.6 506" fill="none" stroke="#abc8c3" stroke-width="4"/><path d="M360.4 506 L360.4 573 Q360.4 579 366.4 579 L438.6 579 Q444.6 579 444.6 573 L444.6 506" fill="none" stroke="#d2e7e3" stroke-width="2"/><path d="M362.5 526.4 L442.5 526.4 L442.5 572.5 Q442.5 577 438 577 L367 577 Q362.5 577 362.5 572.5 Z" fill="#f59a94"/><rect x="362.5" y="507.5" width="80" height="19" fill="#f3f6fb"/><path d="M374 507 L374.5 565 L431.5 565 L432.5 507 Z" fill="#eef2fa"/><path d="M374.3 526.4 L374.6 565 L431.4 565 L432.2 526.4 Z" fill="#f9caca"/><path d="M357.5 506 L368 506 Q372.3 506 372.3 510 L373 565.5 M433.5 565.5 L434.2 510 Q434.2 506 438.5 506 L448 506" fill="none" stroke="#abc8c3" stroke-width="3.4"/><path d="M357.5 506 L368 506 Q372.3 506 372.3 510 L373 565.5 M433.5 565.5 L434.2 510 Q434.2 506 438.5 506 L448 506" fill="none" stroke="#d2e7e3" stroke-width="1.6"/><line x1="375" y1="565.3" x2="432" y2="565.3" stroke="#a0a8a8" stroke-width="1.6" stroke-dasharray="1.2 0.8"/><text x="402.8" y="539" font-size="10.4" text-anchor="middle" fill="#111" textLength="52.5" lengthAdjust="spacingAndGlyphs">Neutrophils</text><path d="M410.5 562 L411 568 L413.5 568 L413.8 562 Z" fill="#7a2c6e"/><circle cx="379.9" cy="552.1" r="3.5" fill="#7a2c6e" stroke="#fff" stroke-width="0.4"/><path d="M378.09999999999997 551.8000000000001 q0.6 -1.2 1.2 0 M380.5 551.8000000000001 q0.6 -1.2 1.2 0 M378.9 553.4 q1 1 2 0" fill="none" stroke="#e8d4e4" stroke-width="0.6"/><circle cx="387.6" cy="554.4" r="3.5" fill="#7a2c6e" stroke="#fff" stroke-width="0.4"/><path d="M385.8 554.1 q0.6 -1.2 1.2 0 M388.20000000000005 554.1 q0.6 -1.2 1.2 0 M386.6 555.6999999999999 q1 1 2 0" fill="none" stroke="#e8d4e4" stroke-width="0.6"/><circle cx="395.7" cy="551.3" r="3.5" fill="#7a2c6e" stroke="#fff" stroke-width="0.4"/><path d="M393.9 551.0 q0.6 -1.2 1.2 0 M396.3 551.0 q0.6 -1.2 1.2 0 M394.7 552.5999999999999 q1 1 2 0" fill="none" stroke="#e8d4e4" stroke-width="0.6"/><circle cx="403.3" cy="554.4" r="3.5" fill="#7a2c6e" stroke="#fff" stroke-width="0.4"/><path d="M401.5 554.1 q0.6 -1.2 1.2 0 M403.90000000000003 554.1 q0.6 -1.2 1.2 0 M402.3 555.6999999999999 q1 1 2 0" fill="none" stroke="#e8d4e4" stroke-width="0.6"/><circle cx="412.1" cy="554.4" r="3.5" fill="#7a2c6e" stroke="#fff" stroke-width="0.4"/><path d="M410.3 554.1 q0.6 -1.2 1.2 0 M412.70000000000005 554.1 q0.6 -1.2 1.2 0 M411.1 555.6999999999999 q1 1 2 0" fill="none" stroke="#e8d4e4" stroke-width="0.6"/><circle cx="419.3" cy="552.9" r="3.5" fill="#7a2c6e" stroke="#fff" stroke-width="0.4"/><path d="M417.5 552.6 q0.6 -1.2 1.2 0 M419.90000000000003 552.6 q0.6 -1.2 1.2 0 M418.3 554.1999999999999 q1 1 2 0" fill="none" stroke="#e8d4e4" stroke-width="0.6"/><circle cx="426.9" cy="548.3" r="3.5" fill="#7a2c6e" stroke="#fff" stroke-width="0.4"/><path d="M425.09999999999997 548.0 q0.6 -1.2 1.2 0 M427.5 548.0 q0.6 -1.2 1.2 0 M425.9 549.5999999999999 q1 1 2 0" fill="none" stroke="#e8d4e4" stroke-width="0.6"/><circle cx="379.4" cy="557.9" r="3.5" fill="#7a2c6e" stroke="#fff" stroke-width="0.4"/><path d="M377.59999999999997 557.6 q0.6 -1.2 1.2 0 M380.0 557.6 q0.6 -1.2 1.2 0 M378.4 559.1999999999999 q1 1 2 0" fill="none" stroke="#e8d4e4" stroke-width="0.6"/><circle cx="384.5" cy="560.5" r="3.5" fill="#7a2c6e" stroke="#fff" stroke-width="0.4"/><path d="M382.7 560.2 q0.6 -1.2 1.2 0 M385.1 560.2 q0.6 -1.2 1.2 0 M383.5 561.8 q1 1 2 0" fill="none" stroke="#e8d4e4" stroke-width="0.6"/><circle cx="391.4" cy="558.2" r="3.5" fill="#7a2c6e" stroke="#fff" stroke-width="0.4"/><path d="M389.59999999999997 557.9000000000001 q0.6 -1.2 1.2 0 M392.0 557.9000000000001 q0.6 -1.2 1.2 0 M390.4 559.5 q1 1 2 0" fill="none" stroke="#e8d4e4" stroke-width="0.6"/><circle cx="399" cy="560.5" r="3.5" fill="#7a2c6e" stroke="#fff" stroke-width="0.4"/><path d="M397.2 560.2 q0.6 -1.2 1.2 0 M399.6 560.2 q0.6 -1.2 1.2 0 M398 561.8 q1 1 2 0" fill="none" stroke="#e8d4e4" stroke-width="0.6"/><circle cx="412.1" cy="560.5" r="3.5" fill="#7a2c6e" stroke="#fff" stroke-width="0.4"/><path d="M410.3 560.2 q0.6 -1.2 1.2 0 M412.70000000000005 560.2 q0.6 -1.2 1.2 0 M411.1 561.8 q1 1 2 0" fill="none" stroke="#e8d4e4" stroke-width="0.6"/><circle cx="419.3" cy="559" r="3.5" fill="#7a2c6e" stroke="#fff" stroke-width="0.4"/><path d="M417.5 558.7 q0.6 -1.2 1.2 0 M419.90000000000003 558.7 q0.6 -1.2 1.2 0 M418.3 560.3 q1 1 2 0" fill="none" stroke="#e8d4e4" stroke-width="0.6"/><circle cx="426.9" cy="558.2" r="3.5" fill="#7a2c6e" stroke="#fff" stroke-width="0.4"/><path d="M425.09999999999997 557.9000000000001 q0.6 -1.2 1.2 0 M427.5 557.9000000000001 q0.6 -1.2 1.2 0 M425.9 559.5 q1 1 2 0" fill="none" stroke="#e8d4e4" stroke-width="0.6"/><circle cx="366.6" cy="573.6" r="3.5" fill="#7a2c6e" stroke="#fff" stroke-width="0.4"/><path d="M364.8 573.3000000000001 q0.6 -1.2 1.2 0 M367.20000000000005 573.3000000000001 q0.6 -1.2 1.2 0 M365.6 574.9 q1 1 2 0" fill="none" stroke="#e8d4e4" stroke-width="0.6"/><circle cx="373.8" cy="573.6" r="3.5" fill="#7a2c6e" stroke="#fff" stroke-width="0.4"/><path d="M372.0 573.3000000000001 q0.6 -1.2 1.2 0 M374.40000000000003 573.3000000000001 q0.6 -1.2 1.2 0 M372.8 574.9 q1 1 2 0" fill="none" stroke="#e8d4e4" stroke-width="0.6"/><circle cx="383" cy="573.6" r="3.5" fill="#7a2c6e" stroke="#fff" stroke-width="0.4"/><path d="M381.2 573.3000000000001 q0.6 -1.2 1.2 0 M383.6 573.3000000000001 q0.6 -1.2 1.2 0 M382 574.9 q1 1 2 0" fill="none" stroke="#e8d4e4" stroke-width="0.6"/><circle cx="390.6" cy="573.6" r="3.5" fill="#7a2c6e" stroke="#fff" stroke-width="0.4"/><path d="M388.8 573.3000000000001 q0.6 -1.2 1.2 0 M391.20000000000005 573.3000000000001 q0.6 -1.2 1.2 0 M389.6 574.9 q1 1 2 0" fill="none" stroke="#e8d4e4" stroke-width="0.6"/><circle cx="399" cy="573.6" r="3.5" fill="#7a2c6e" stroke="#fff" stroke-width="0.4"/><path d="M397.2 573.3000000000001 q0.6 -1.2 1.2 0 M399.6 573.3000000000001 q0.6 -1.2 1.2 0 M398 574.9 q1 1 2 0" fill="none" stroke="#e8d4e4" stroke-width="0.6"/><circle cx="407.9" cy="574.8" r="3.5" fill="#7a2c6e" stroke="#fff" stroke-width="0.4"/><path d="M406.09999999999997 574.5 q0.6 -1.2 1.2 0 M408.5 574.5 q0.6 -1.2 1.2 0 M406.9 576.0999999999999 q1 1 2 0" fill="none" stroke="#e8d4e4" stroke-width="0.6"/><circle cx="419" cy="573.6" r="3.5" fill="#7a2c6e" stroke="#fff" stroke-width="0.4"/><path d="M417.2 573.3000000000001 q0.6 -1.2 1.2 0 M419.6 573.3000000000001 q0.6 -1.2 1.2 0 M418 574.9 q1 1 2 0" fill="none" stroke="#e8d4e4" stroke-width="0.6"/><circle cx="426.6" cy="573.6" r="3.5" fill="#7a2c6e" stroke="#fff" stroke-width="0.4"/><path d="M424.8 573.3000000000001 q0.6 -1.2 1.2 0 M427.20000000000005 573.3000000000001 q0.6 -1.2 1.2 0 M425.6 574.9 q1 1 2 0" fill="none" stroke="#e8d4e4" stroke-width="0.6"/><circle cx="435.1" cy="573.6" r="3.5" fill="#7a2c6e" stroke="#fff" stroke-width="0.4"/><path d="M433.3 573.3000000000001 q0.6 -1.2 1.2 0 M435.70000000000005 573.3000000000001 q0.6 -1.2 1.2 0 M434.1 574.9 q1 1 2 0" fill="none" stroke="#e8d4e4" stroke-width="0.6"/><path d="M374.5 566 L377.1 566 L375.8 569 Z" fill="#333"/><path d="M428.4 566 L431.0 566 L429.7 569 Z" fill="#333"/><line x1="328" y1="549.7" x2="364.8" y2="549.7" stroke="#222" stroke-width="0.9"/><path d="M357.5 545.8 L365 549.7 L357.5 553.6" fill="none" stroke="#222" stroke-width="0.9"/>
</svg></body></html>
